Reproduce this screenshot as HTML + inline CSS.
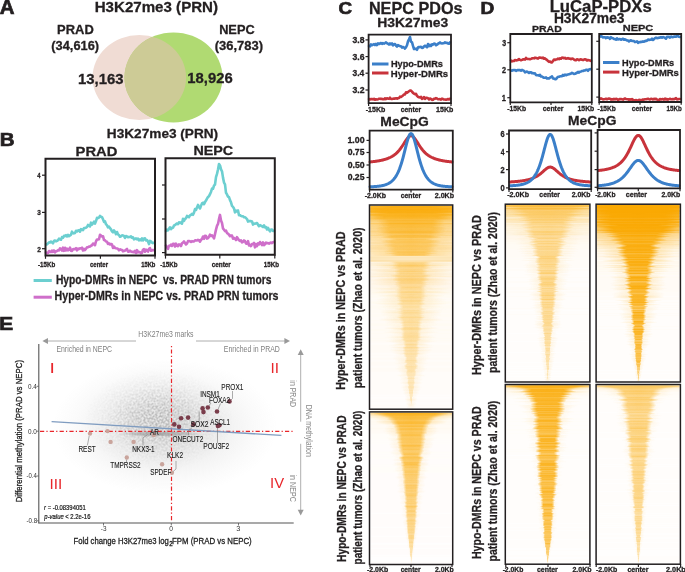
<!DOCTYPE html><html><head><meta charset="utf-8"><style>html,body{margin:0;padding:0;background:#fff;}body{width:685px;height:572px;overflow:hidden;font-family:"Liberation Sans",sans-serif;}svg{display:block;filter:blur(0.35px);}text{font-family:"Liberation Sans",sans-serif;font-variant-ligatures:none;font-kerning:none;}</style></head><body><svg width="685" height="572" viewBox="0 0 685 572" font-family="Liberation Sans, sans-serif"><defs><clipPath id="cg"><ellipse cx="173.5" cy="77.4" rx="49" ry="45"/></clipPath><radialGradient id="cl1"><stop offset="0" stop-color="#888" stop-opacity="0.22"/><stop offset="0.3" stop-color="#888" stop-opacity="0.19"/><stop offset="0.55" stop-color="#888" stop-opacity="0.11"/><stop offset="0.8" stop-color="#888" stop-opacity="0.04"/><stop offset="1" stop-color="#888" stop-opacity="0"/></radialGradient><radialGradient id="cl2"><stop offset="0" stop-color="#808080" stop-opacity="0.5"/><stop offset="0.35" stop-color="#808080" stop-opacity="0.33"/><stop offset="0.7" stop-color="#808080" stop-opacity="0.1"/><stop offset="1" stop-color="#808080" stop-opacity="0"/></radialGradient><radialGradient id="cl3"><stop offset="0" stop-color="#888" stop-opacity="0.6"/><stop offset="0.6" stop-color="#888" stop-opacity="0.4"/><stop offset="1" stop-color="#888" stop-opacity="0"/></radialGradient><filter id="spk" filterUnits="userSpaceOnUse" x="40" y="344" width="254" height="178"><feTurbulence type="fractalNoise" baseFrequency="0.5" numOctaves="2" seed="5" result="n"/><feColorMatrix in="n" type="matrix" values="0 0 0 0 1  0 0 0 0 1  0 0 0 0 1  0 0 0 2.4 -0.75" result="na"/><feComposite in="SourceGraphic" in2="na" operator="arithmetic" k1="1" k2="0" k3="0" k4="0"/></filter><linearGradient id="hc"><stop offset="0" stop-color="#faa800" stop-opacity="0"/><stop offset="0.18" stop-color="#faa800"/><stop offset="0.82" stop-color="#faa800"/><stop offset="1" stop-color="#faa800" stop-opacity="0"/></linearGradient><linearGradient id="hs"><stop offset="0" stop-color="#faa800"/></linearGradient><linearGradient id="hh"><stop offset="0" stop-color="#faa800" stop-opacity="0"/><stop offset="0.25" stop-color="#faa800" stop-opacity="0.6"/><stop offset="0.5" stop-color="#faa800"/><stop offset="0.75" stop-color="#faa800" stop-opacity="0.6"/><stop offset="1" stop-color="#faa800" stop-opacity="0"/></linearGradient><clipPath id="hm11"><rect x="370.2" y="205.7" width="81.8" height="202.8"/></clipPath><clipPath id="hm12"><rect x="370.2" y="412.6" width="81.8" height="151.2"/></clipPath><clipPath id="hm21"><rect x="506" y="204.9" width="83.2" height="176.4"/></clipPath><clipPath id="hm22"><rect x="596.8" y="204.9" width="82.9" height="176.4"/></clipPath><clipPath id="hm23"><rect x="506" y="385.2" width="83.2" height="178.3"/></clipPath><clipPath id="hm24"><rect x="596.8" y="385.2" width="82.9" height="178.3"/></clipPath></defs><text x="-0.21" y="14.2" font-size="19.5" font-weight="bold" fill="#231f20" textLength="14.75" lengthAdjust="spacingAndGlyphs" stroke="#231f20" stroke-width="0.7">A</text>
<text x="94.69" y="11.8" font-size="15" font-weight="bold" fill="#231f20" textLength="123.36" lengthAdjust="spacingAndGlyphs" stroke="#231f20" stroke-width="0.3">H3K27me3 (PRN)</text>
<ellipse cx="139.3" cy="77.5" rx="46.8" ry="42.6" fill="#f0dcd4"/>
<ellipse cx="173.5" cy="77.4" rx="49" ry="45" fill="#b0da72"/>
<ellipse cx="139.3" cy="77.5" rx="46.8" ry="42.6" fill="#cdcb96" clip-path="url(#cg)"/>
<text x="57.14" y="33.8" font-size="12.6" font-weight="bold" fill="#231f20" textLength="36.61" lengthAdjust="spacingAndGlyphs" stroke="#231f20" stroke-width="0.3">PRAD</text>
<text x="51.36" y="50" font-size="12.6" font-weight="bold" fill="#231f20" textLength="47.67" lengthAdjust="spacingAndGlyphs" stroke="#231f20" stroke-width="0.3">(34,616)</text>
<text x="219.15" y="33.7" font-size="12.6" font-weight="bold" fill="#231f20" textLength="35.5" lengthAdjust="spacingAndGlyphs" stroke="#231f20" stroke-width="0.3">NEPC</text>
<text x="214.75" y="49.6" font-size="12.6" font-weight="bold" fill="#231f20" textLength="48.29" lengthAdjust="spacingAndGlyphs" stroke="#231f20" stroke-width="0.3">(36,783)</text>
<text x="77.96" y="83.6" font-size="15" font-weight="bold" fill="#231f20" textLength="45.58" lengthAdjust="spacingAndGlyphs" stroke="#231f20" stroke-width="0.3">13,163</text>
<text x="187.37" y="83.2" font-size="15" font-weight="bold" fill="#231f20" textLength="45.37" lengthAdjust="spacingAndGlyphs" stroke="#231f20" stroke-width="0.3">18,926</text>
<text x="-0.37" y="145.8" font-size="18.5" font-weight="bold" fill="#231f20" textLength="14.8" lengthAdjust="spacingAndGlyphs" stroke="#231f20" stroke-width="0.7">B</text>
<text x="106.89" y="138.3" font-size="13.4" font-weight="bold" fill="#231f20" textLength="111.29" lengthAdjust="spacingAndGlyphs" stroke="#231f20" stroke-width="0.3">H3K27me3 (PRN)</text>
<text x="75.61" y="155.9" font-size="13" font-weight="bold" fill="#231f20" textLength="41.81" lengthAdjust="spacingAndGlyphs" stroke="#231f20" stroke-width="0.3">PRAD</text>
<text x="193.44" y="154.7" font-size="13" font-weight="bold" fill="#231f20" textLength="39.75" lengthAdjust="spacingAndGlyphs" stroke="#231f20" stroke-width="0.3">NEPC</text>
<polyline points="46,244.4 47,244.37 48,243.37 49,242.33 50,242.45 51,241.5 52,242.29 53,243.34 54,240.96 55,240.46 56,241.32 57,240.81 58,240.17 59,238.67 60,239.3 61,239.73 62,237.12 63,237.74 64,235.79 65,236.1 66,235.13 67,236.5 68,234.89 69,236.1 70,235.5 71,234.65 72,231.61 73,233.31 74,233.37 75,233.07 76,230.79 77,231.47 78,230.45 79,230.16 80,231.74 81,229.21 82,229.58 83,230.12 84,228.02 85,228.07 86,227.73 87,227.03 88,224.96 89,225.74 90,226.5 91,222.65 92,224.64 93,223.18 94,221.69 95,223.61 96,221.11 97,217.82 98,218.08 99,217.67 100,215.87 101,216.75 102,217.18 103,219.23 104,221.91 105,221.41 106,224.2 107,225.29 108,227.35 109,226.68 110,228.13 111,229.33 112,231.32 113,232.37 114,230.43 115,231.79 116,234.15 117,232.03 118,234.49 119,235.08 120,236.77 121,236.33 122,235.41 123,235.55 124,235.87 125,238.02 126,236.06 127,236.39 128,237.3 129,236.97 130,237.08 131,236.26 132,237.67 133,237.38 134,239.35 135,238.97 136,238.42 137,239.38 138,238.52 139,240.29 140,239.38 141,240.27 142,238.45 143,240.5 144,238.5 145,238.36 146,240.51 147,240.1 148,241.52 149,244.05 150,240.91 151,241.38 152,242.54 153,243.1 154,242.61" fill="none" stroke="#6ccfd0" stroke-width="2.6" stroke-linejoin="round" stroke-linecap="round"/>
<polyline points="46,252.37 47,253.22 48,252.87 49,251.01 50,251.91 51,251.89 52,250.54 53,251.84 54,250.46 55,252.32 56,251.31 57,251.05 58,250.15 59,250.52 60,248.31 61,249.11 62,250.6 63,247.71 64,250.84 65,247.83 66,250.44 67,248.56 68,250.32 69,249.58 70,247.72 71,250.76 72,250.94 73,249.26 74,249 75,249.1 76,248.18 77,250.43 78,248.6 79,249.11 80,248.27 81,248.43 82,247.69 83,250.45 84,248.87 85,250.07 86,248.7 87,247.41 88,247.3 89,246.52 90,246.63 91,245.69 92,245.26 93,243.56 94,243.67 95,245.23 96,241.26 97,239.43 98,239.54 99,239.31 100,234.75 101,235.71 102,236.34 103,236.2 104,240.05 105,240.31 106,241.52 107,241.71 108,243.94 109,243.45 110,244.5 111,244.04 112,244.53 113,247.94 114,246.52 115,248 116,248.25 117,248.41 118,248.94 119,250.3 120,249.38 121,249.65 122,249.95 123,251.33 124,250.89 125,250.67 126,249.73 127,248.94 128,251.61 129,251.73 130,250.62 131,251.48 132,251.85 133,252.01 134,252.22 135,250.81 136,253.08 137,250.11 138,252.36 139,251.88 140,252.22 141,253.25 142,252.74 143,249.77 144,249.1 145,251.78 146,249.69 147,250.72 148,251.58 149,248.77 150,248.18 151,250.71 152,250.4 153,250.01 154,250.24" fill="none" stroke="#cf6fca" stroke-width="2.6" stroke-linejoin="round" stroke-linecap="round"/>
<polyline points="166,230.97 167,229.51 168,230.45 169,228.8 170,227.32 171,229.22 172,227.87 173,227.75 174,225.4 175,225.12 176,224.03 177,223.49 178,224.11 179,222.26 180,222.95 181,222.26 182,223.6 183,218.82 184,220.85 185,218.96 186,218.35 187,215.92 188,216.4 189,217.13 190,215.43 191,214.92 192,213.77 193,214.79 194,212.67 195,209.08 196,209.9 197,207.39 198,204.87 199,207.15 200,208.4 201,205.88 202,203.43 203,202.73 204,204.23 205,202.08 206,200.57 207,198.69 208,197.03 209,196.18 210,194.11 211,191.94 212,188.67 213,188.76 214,185.56 215,184.53 216,177.12 217,173.91 218,169.49 219,164.02 220,165.42 221,169.36 222,171.31 223,177.62 224,182.53 225,184.32 226,192.8 227,194.43 228,196.6 229,197.21 230,200.18 231,202.29 232,205.93 233,206.9 234,208.49 235,212.33 236,210.54 237,211.45 238,210.45 239,215.23 240,215.21 241,215.86 242,216.28 243,216.32 244,217.15 245,217.3 246,218.07 247,219.09 248,221.55 249,221.12 250,221.09 251,221.15 252,221.5 253,224.6 254,223.71 255,223.6 256,223.52 257,223.03 258,224.7 259,226.24 260,225.14 261,225.76 262,226.19 263,227 264,225.38 265,227.4 266,227.03 267,229.48 268,227.86 269,229.85 270,231.36 271,229.52 272,229.54 273,230.86 274,231" fill="none" stroke="#6ccfd0" stroke-width="2.6" stroke-linejoin="round" stroke-linecap="round"/>
<polyline points="166,245.61 167,247.15 168,248.8 169,245.87 170,245.73 171,244.51 172,245.94 173,243.85 174,243.81 175,246.47 176,243.64 177,245.82 178,246.14 179,244.42 180,244.56 181,246.04 182,243.25 183,242.57 184,241.45 185,242.91 186,244.43 187,243.6 188,241.11 189,241.01 190,241.22 191,241.97 192,241.17 193,241.46 194,241.36 195,240.37 196,240.42 197,240.44 198,239.83 199,240.26 200,241.64 201,239.83 202,238.92 203,236.56 204,238.78 205,235.71 206,236.09 207,238.54 208,238.09 209,236.8 210,234.66 211,235.99 212,235.36 213,236.67 214,238.34 215,234.12 216,229.64 217,225.88 218,223.93 219,219.07 220,214.93 221,220.48 222,223 223,228.41 224,229.72 225,231.1 226,230.59 227,233.14 228,233.72 229,234.77 230,236.19 231,235.42 232,235.62 233,238.69 234,237.88 235,238.75 236,240.07 237,237.17 238,238.68 239,240.21 240,240.85 241,240.31 242,242.37 243,241.77 244,240.44 245,241.15 246,243.61 247,243.58 248,241.12 249,245.4 250,244.88 251,246.11 252,243.99 253,244.05 254,243 255,247.35 256,244.05 257,246.11 258,243.39 259,244.31 260,242.06 261,243.56 262,245.15 263,242.42 264,245.16 265,244.23 266,242.53 267,243.13 268,243.13 269,243.58 270,242.95 271,242.55 272,243.13 273,242.22 274,241.85" fill="none" stroke="#cf6fca" stroke-width="2.6" stroke-linejoin="round" stroke-linecap="round"/>
<path d="M45.5,158.8 H155 V255.5 H45.5 Z" fill="none" stroke="#231f20" stroke-width="2"/>
<path d="M165.5,158.3 H274.8 V254.7 H165.5 Z" fill="none" stroke="#231f20" stroke-width="2"/>
<line x1="42" y1="175.2" x2="45.5" y2="175.2" stroke="#231f20" stroke-width="1.2"/>
<text x="37.31" y="178.1" font-size="8" font-weight="bold" fill="#231f20" textLength="3.32" lengthAdjust="spacingAndGlyphs" stroke="#231f20" stroke-width="0.3">4</text>
<line x1="42" y1="212.4" x2="45.5" y2="212.4" stroke="#231f20" stroke-width="1.2"/>
<text x="37.25" y="215.3" font-size="8" font-weight="bold" fill="#231f20" textLength="3.58" lengthAdjust="spacingAndGlyphs" stroke="#231f20" stroke-width="0.3">3</text>
<line x1="42" y1="248.7" x2="45.5" y2="248.7" stroke="#231f20" stroke-width="1.2"/>
<text x="37.17" y="251.6" font-size="8" font-weight="bold" fill="#231f20" textLength="3.7" lengthAdjust="spacingAndGlyphs" stroke="#231f20" stroke-width="0.3">2</text>
<line x1="162" y1="185" x2="165.5" y2="185" stroke="#231f20" stroke-width="1.2"/>
<line x1="162" y1="219" x2="165.5" y2="219" stroke="#231f20" stroke-width="1.2"/>
<line x1="162" y1="252.6" x2="165.5" y2="252.6" stroke="#231f20" stroke-width="1.2"/>
<line x1="45.5" y1="255.5" x2="45.5" y2="258.8" stroke="#231f20" stroke-width="1.2"/>
<line x1="100.4" y1="255.5" x2="100.4" y2="258.8" stroke="#231f20" stroke-width="1.2"/>
<line x1="155" y1="255.5" x2="155" y2="258.8" stroke="#231f20" stroke-width="1.2"/>
<line x1="165.5" y1="254.7" x2="165.5" y2="258.6" stroke="#231f20" stroke-width="1.2"/>
<line x1="219.8" y1="254.7" x2="219.8" y2="258.6" stroke="#231f20" stroke-width="1.2"/>
<line x1="274.8" y1="254.7" x2="274.8" y2="258.6" stroke="#231f20" stroke-width="1.2"/>
<text x="38.06" y="266.5" font-size="7" font-weight="bold" fill="#231f20" textLength="17.2" lengthAdjust="spacingAndGlyphs" stroke="#231f20" stroke-width="0.3">-15Kb</text>
<text x="89.96" y="266.5" font-size="7" font-weight="bold" fill="#231f20" textLength="18.13" lengthAdjust="spacingAndGlyphs" stroke="#231f20" stroke-width="0.3">center</text>
<text x="141.13" y="266.5" font-size="7" font-weight="bold" fill="#231f20" textLength="14.31" lengthAdjust="spacingAndGlyphs" stroke="#231f20" stroke-width="0.3">15Kb</text>
<text x="160.16" y="266.5" font-size="7" font-weight="bold" fill="#231f20" textLength="17.3" lengthAdjust="spacingAndGlyphs" stroke="#231f20" stroke-width="0.3">-15Kb</text>
<text x="211.65" y="266.5" font-size="7" font-weight="bold" fill="#231f20" textLength="19.15" lengthAdjust="spacingAndGlyphs" stroke="#231f20" stroke-width="0.3">center</text>
<text x="263.81" y="266.5" font-size="7" font-weight="bold" fill="#231f20" textLength="15.25" lengthAdjust="spacingAndGlyphs" stroke="#231f20" stroke-width="0.3">15Kb</text>
<line x1="33.6" y1="280.5" x2="51.8" y2="280.5" stroke="#6ccfd0" stroke-width="3"/>
<line x1="33.6" y1="297.2" x2="51.8" y2="297.2" stroke="#cf6fca" stroke-width="3"/>
<text x="55.91" y="283.6" font-size="12.3" font-weight="bold" fill="#231f20" textLength="215.51" lengthAdjust="spacingAndGlyphs" stroke="#231f20" stroke-width="0.3">Hypo-DMRs in NEPC  vs. PRAD PRN tumors</text>
<text x="54.59" y="299.8" font-size="12.3" font-weight="bold" fill="#231f20" textLength="223.85" lengthAdjust="spacingAndGlyphs" stroke="#231f20" stroke-width="0.3">Hyper-DMRs in NEPC vs. PRAD PRN tumors</text>
<text x="-0.7" y="329.9" font-size="17.5" font-weight="bold" fill="#231f20" textLength="13.91" lengthAdjust="spacingAndGlyphs" stroke="#231f20" stroke-width="0.7">E</text>
<ellipse cx="165" cy="427" rx="112" ry="68" fill="url(#cl1)"/>
<ellipse cx="159" cy="420" rx="74" ry="50" fill="url(#cl2)" filter="url(#spk)"/>
<ellipse cx="160" cy="433.8" rx="40" ry="3" fill="url(#cl3)"/>
<line x1="38.8" y1="344" x2="38.8" y2="523.3" stroke="#555" stroke-width="1.1"/>
<line x1="38.3" y1="523" x2="293.7" y2="523" stroke="#555" stroke-width="1.1"/>
<line x1="36.5" y1="386.3" x2="38.8" y2="386.3" stroke="#555" stroke-width="0.8"/>
<line x1="36.5" y1="431.2" x2="38.8" y2="431.2" stroke="#555" stroke-width="0.8"/>
<line x1="36.5" y1="476" x2="38.8" y2="476" stroke="#555" stroke-width="0.8"/>
<line x1="36.5" y1="520.8" x2="38.8" y2="520.8" stroke="#555" stroke-width="0.8"/>
<line x1="103.5" y1="523" x2="103.5" y2="525.5" stroke="#555" stroke-width="0.8"/>
<line x1="171.3" y1="523" x2="171.3" y2="525.5" stroke="#555" stroke-width="0.8"/>
<line x1="238.5" y1="523" x2="238.5" y2="525.5" stroke="#555" stroke-width="0.8"/>
<text x="27.95" y="388.6" font-size="6.5" fill="#333" textLength="8.83" lengthAdjust="spacingAndGlyphs">0.4</text>
<text x="27.95" y="433.5" font-size="6.5" fill="#333" textLength="8.9" lengthAdjust="spacingAndGlyphs">0.0</text>
<text x="26.43" y="478.3" font-size="6.5" fill="#333" textLength="10.34" lengthAdjust="spacingAndGlyphs">-0.4</text>
<text x="26.43" y="522.6" font-size="6.5" fill="#333" textLength="10.64" lengthAdjust="spacingAndGlyphs">-0.8</text>
<text x="100.82" y="531.3" font-size="6.5" fill="#333" textLength="5.66" lengthAdjust="spacingAndGlyphs">-3</text>
<text x="169.34" y="531.3" font-size="6.5" fill="#333" textLength="3.72" lengthAdjust="spacingAndGlyphs">0</text>
<text x="236.22" y="531.3" font-size="6.5" fill="#333" textLength="4.11" lengthAdjust="spacingAndGlyphs">3</text>
<text x="73.47" y="543.8" font-size="9.3" fill="#222" textLength="95.43" lengthAdjust="spacingAndGlyphs" stroke="#222" stroke-width="0.3">Fold change H3K27me3 log</text>
<text x="169.29" y="545.7" font-size="7" fill="#222" textLength="3.42" lengthAdjust="spacingAndGlyphs" stroke="#222" stroke-width="0.35">2</text>
<text x="171.96" y="543.8" font-size="9.3" fill="#222" textLength="79.73" lengthAdjust="spacingAndGlyphs" stroke="#222" stroke-width="0.3">FPM (PRAD vs NEPC)</text>
<text transform="translate(22,502.34) rotate(-90)" font-size="9.8" fill="#222" textLength="142.32" lengthAdjust="spacingAndGlyphs" stroke="#222" stroke-width="0.3">Differential methylation (PRAD vs NEPC)</text>
<line x1="40" y1="431.3" x2="294" y2="431.3" stroke="#e8262b" stroke-width="1.2" stroke-dasharray="4.2 2.2 1.2 2.2"/>
<line x1="171.5" y1="346" x2="171.5" y2="522" stroke="#e8262b" stroke-width="1.2" stroke-dasharray="1.2 2.2 4.2 2.2"/>
<line x1="51.6" y1="421.7" x2="281.4" y2="435.4" stroke="#7f9cc0" stroke-width="1.3"/>
<line x1="89.2" y1="436" x2="87.4" y2="445.4" stroke="#777" stroke-width="0.6"/>
<line x1="143" y1="445.5" x2="143" y2="438" stroke="#777" stroke-width="0.6"/>
<line x1="143" y1="438" x2="147.5" y2="434.5" stroke="#777" stroke-width="0.6"/>
<line x1="199.2" y1="411.5" x2="199.2" y2="421" stroke="#777" stroke-width="0.6"/>
<line x1="232.5" y1="391" x2="232.5" y2="398.5" stroke="#777" stroke-width="0.6"/>
<line x1="232.5" y1="398.5" x2="230" y2="401" stroke="#777" stroke-width="0.6"/>
<line x1="208" y1="407" x2="211" y2="403" stroke="#777" stroke-width="0.6"/>
<line x1="220.5" y1="403.5" x2="218" y2="409.5" stroke="#777" stroke-width="0.6"/>
<line x1="217.5" y1="427" x2="217.5" y2="443" stroke="#777" stroke-width="0.6"/>
<line x1="188.4" y1="435" x2="188.4" y2="430.7" stroke="#777" stroke-width="0.6"/>
<line x1="188.4" y1="430.7" x2="192" y2="427.8" stroke="#777" stroke-width="0.6"/>
<line x1="176" y1="461" x2="176" y2="469" stroke="#777" stroke-width="0.6"/>
<line x1="176" y1="469" x2="172" y2="472.5" stroke="#777" stroke-width="0.6"/>
<line x1="126.5" y1="459.5" x2="126.5" y2="462" stroke="#777" stroke-width="0.6"/>
<circle cx="90" cy="433.6" r="2.2" fill="#c9a49c"/>
<circle cx="107.5" cy="431.1" r="2.2" fill="#c9a49c"/>
<circle cx="110.6" cy="441.9" r="2.2" fill="#c9a49c"/>
<circle cx="133.6" cy="441.9" r="2.2" fill="#c9a49c"/>
<circle cx="126.8" cy="457.5" r="2.2" fill="#c9a49c"/>
<circle cx="162.1" cy="464.2" r="2.2" fill="#c9a49c"/>
<circle cx="153.8" cy="435" r="2.2" fill="#c9a49c"/>
<circle cx="171.9" cy="472.8" r="2.2" fill="#c9a49c"/>
<circle cx="174.3" cy="424.4" r="2.3" fill="#7a3d4b"/>
<circle cx="179" cy="426.8" r="2.3" fill="#7a3d4b"/>
<circle cx="181.1" cy="418.2" r="2.3" fill="#7a3d4b"/>
<circle cx="188.1" cy="417.6" r="2.3" fill="#7a3d4b"/>
<circle cx="193.4" cy="424.4" r="2.3" fill="#7a3d4b"/>
<circle cx="202.6" cy="408.4" r="2.3" fill="#7a3d4b"/>
<circle cx="207.8" cy="407.5" r="2.3" fill="#7a3d4b"/>
<circle cx="203.5" cy="412.1" r="2.3" fill="#7a3d4b"/>
<circle cx="217" cy="411.5" r="2.3" fill="#7a3d4b"/>
<circle cx="229.5" cy="401.4" r="2.3" fill="#7a3d4b"/>
<circle cx="217.9" cy="425.9" r="2.3" fill="#7a3d4b"/>
<circle cx="219.4" cy="425.3" r="2.3" fill="#7a3d4b"/>
<text x="221.37" y="390" font-size="8.8" fill="#1a1a1a" textLength="21.95" lengthAdjust="spacingAndGlyphs" stroke="#1a1a1a" stroke-width="0.12">PROX1</text>
<text x="200.21" y="396.5" font-size="8.8" fill="#1a1a1a" textLength="19.5" lengthAdjust="spacingAndGlyphs" stroke="#1a1a1a" stroke-width="0.12">INSM1</text>
<text x="208.97" y="403.4" font-size="8.8" fill="#1a1a1a" textLength="21.15" lengthAdjust="spacingAndGlyphs" stroke="#1a1a1a" stroke-width="0.12">FOXA2</text>
<text x="190.59" y="427" font-size="8.8" fill="#1a1a1a" textLength="17.94" lengthAdjust="spacingAndGlyphs" stroke="#1a1a1a" stroke-width="0.12">SOX2</text>
<text x="210.19" y="424.5" font-size="8.8" fill="#1a1a1a" textLength="19.92" lengthAdjust="spacingAndGlyphs" stroke="#1a1a1a" stroke-width="0.12">ASCL1</text>
<text x="149.99" y="434.5" font-size="8.8" fill="#1a1a1a" textLength="8.91" lengthAdjust="spacingAndGlyphs" stroke="#1a1a1a" stroke-width="0.12">AR</text>
<text x="172.49" y="441.8" font-size="8.8" fill="#1a1a1a" textLength="30.83" lengthAdjust="spacingAndGlyphs" stroke="#1a1a1a" stroke-width="0.12">ONECUT2</text>
<text x="203.25" y="449.1" font-size="8.8" fill="#1a1a1a" textLength="25.88" lengthAdjust="spacingAndGlyphs" stroke="#1a1a1a" stroke-width="0.12">POU3F2</text>
<text x="167.06" y="457.8" font-size="8.8" fill="#1a1a1a" textLength="16.07" lengthAdjust="spacingAndGlyphs" stroke="#1a1a1a" stroke-width="0.12">KLK2</text>
<text x="150.21" y="474.8" font-size="8.8" fill="#1a1a1a" textLength="21.04" lengthAdjust="spacingAndGlyphs" stroke="#1a1a1a" stroke-width="0.12">SPDEF</text>
<text x="132.28" y="452.1" font-size="8.8" fill="#1a1a1a" textLength="22.33" lengthAdjust="spacingAndGlyphs" stroke="#1a1a1a" stroke-width="0.12">NKX3-1</text>
<text x="110.26" y="468" font-size="8.8" fill="#1a1a1a" textLength="30.27" lengthAdjust="spacingAndGlyphs" stroke="#1a1a1a" stroke-width="0.12">TMPRSS2</text>
<text x="78.47" y="451.8" font-size="8.8" fill="#1a1a1a" textLength="17.18" lengthAdjust="spacingAndGlyphs" stroke="#1a1a1a" stroke-width="0.12">REST</text>
<text x="44.11" y="510.3" font-size="7.4" font-style="italic" fill="#111" textLength="1.9" lengthAdjust="spacingAndGlyphs" stroke="#111" stroke-width="0.2">r</text>
<text x="47.71" y="510.3" font-size="7.4" fill="#111" textLength="37.97" lengthAdjust="spacingAndGlyphs" stroke="#111" stroke-width="0.2">= -0.08394051</text>
<text x="44.35" y="519.1" font-size="7.4" font-style="italic" fill="#111" textLength="19.37" lengthAdjust="spacingAndGlyphs" stroke="#111" stroke-width="0.2">p-value</text>
<text x="65.21" y="519.1" font-size="7.4" fill="#111" textLength="25.25" lengthAdjust="spacingAndGlyphs" stroke="#111" stroke-width="0.2">&lt; 2.2e-16</text>
<text x="49.62" y="373" font-size="15.5" fill="#e8262b" textLength="5.36" lengthAdjust="spacingAndGlyphs">I</text>
<text x="270.58" y="373" font-size="15.5" fill="#e8262b" textLength="8.53" lengthAdjust="spacingAndGlyphs">II</text>
<text x="49.49" y="489" font-size="15.5" fill="#e8262b" textLength="12.72" lengthAdjust="spacingAndGlyphs">III</text>
<text x="270.03" y="488.3" font-size="15.5" fill="#e8262b" textLength="14.04" lengthAdjust="spacingAndGlyphs">IV</text>
<line x1="46" y1="341" x2="136" y2="341" stroke="#999999" stroke-width="0.8"/>
<path d="M42.4,341 L48,338 L48,344 Z" fill="#999999"/>
<line x1="196" y1="341" x2="286" y2="341" stroke="#999999" stroke-width="0.8"/>
<path d="M290,341 L284.4,338 L284.4,344 Z" fill="#999999"/>
<text x="138.33" y="336.7" font-size="9" fill="#808080" textLength="55.22" lengthAdjust="spacingAndGlyphs">H3K27me3 marks</text>
<text x="56.43" y="351.8" font-size="9" fill="#808080" textLength="55.63" lengthAdjust="spacingAndGlyphs">Enriched in NEPC</text>
<text x="223.83" y="351.8" font-size="9" fill="#808080" textLength="56" lengthAdjust="spacingAndGlyphs">Enriched in PRAD</text>
<line x1="300.7" y1="353" x2="300.7" y2="421.7" stroke="#999999" stroke-width="0.8"/>
<path d="M300.7,349.3 L297.7,355 L303.7,355 Z" fill="#999999"/>
<line x1="300.7" y1="443.8" x2="300.7" y2="511" stroke="#999999" stroke-width="0.8"/>
<path d="M300.7,515.5 L297.7,509.8 L303.7,509.8 Z" fill="#999999"/>
<text transform="translate(290.3,380.33) rotate(90)" font-size="9" fill="#888" textLength="26.8" lengthAdjust="spacingAndGlyphs">in PRAD</text>
<text transform="translate(306,404.63) rotate(90)" font-size="9" fill="#888" textLength="52.22" lengthAdjust="spacingAndGlyphs">DNA methylation</text>
<text transform="translate(290.3,474.52) rotate(90)" font-size="9" fill="#888" textLength="27.25" lengthAdjust="spacingAndGlyphs">in NEPC</text>
<text x="338.63" y="14.3" font-size="17" font-weight="bold" fill="#231f20" textLength="13.59" lengthAdjust="spacingAndGlyphs" stroke="#231f20" stroke-width="0.7">C</text>
<text x="368.92" y="14.2" font-size="16.4" font-weight="bold" fill="#231f20" textLength="93.65" lengthAdjust="spacingAndGlyphs" stroke="#231f20" stroke-width="0.3">NEPC PDOs</text>
<text x="377.27" y="26.6" font-size="13" font-weight="bold" fill="#231f20" textLength="70.93" lengthAdjust="spacingAndGlyphs" stroke="#231f20" stroke-width="0.3">H3K27me3</text>
<polyline points="369,45.97 370,46.37 371,44.44 372,45.27 373,44.57 374,44.1 375,45.13 376,43.93 377,45.1 378,43.36 379,44.05 380,43.5 381,43.01 382,43.83 383,43.18 384,43.59 385,43.02 386,42.39 387,43.32 388,43.67 389,44.55 390,43.49 391,44.34 392,43.4 393,45.31 394,44.34 395,44.08 396,45.54 397,46.6 398,45.02 399,45.62 400,46.16 401,46.19 402,47.54 403,47.01 404,47.36 405,48.57 406,47.29 407,45.21 408,41.32 409,39.3 410,37.02 411,41.7 412,42.28 413,45.92 414,48.98 415,48.92 416,48.64 417,49.75 418,47.49 419,46.93 420,47.12 421,46.7 422,47.96 423,47.78 424,46.3 425,45.76 426,46.25 427,47.23 428,44.05 429,46.15 430,44.79 431,46.04 432,44.32 433,44.63 434,43.54 435,43.73 436,45.25 437,44.72 438,43.73 439,43.26 440,42.41 441,43.32 442,43.44 443,43.27 444,43.12 445,42.27 446,42.87 447,42.75 448,43.55 449,43.81 450,42.27" fill="none" stroke="#3b7fc9" stroke-width="2.6" stroke-linejoin="round" stroke-linecap="round"/>
<polyline points="369,99.04 370,99.44 371,99.09 372,98.98 373,99.37 374,98.75 375,99.72 376,99.27 377,99.45 378,99.17 379,98.82 380,98.66 381,99.06 382,98.85 383,99.3 384,99.13 385,98.29 386,99.13 387,98.26 388,98.67 389,98.84 390,97.74 391,99.02 392,99.03 393,98.82 394,98.64 395,98.64 396,98.26 397,98.66 398,98.28 399,98.05 400,96.65 401,96.89 402,96.21 403,95.42 404,94.49 405,94.35 406,92.27 407,92.8 408,91.93 409,91.21 410,90.53 411,90.65 412,91.63 413,92.91 414,93.53 415,94.14 416,93.85 417,95.82 418,96.78 419,97.26 420,97.37 421,96.87 422,98.95 423,98.43 424,97.03 425,98.81 426,97.71 427,97.86 428,98.28 429,99.46 430,98.5 431,98.91 432,99.83 433,99.76 434,98.77 435,98.72 436,98.13 437,98.5 438,99.2 439,99.21 440,99.07 441,99.63 442,98.6 443,99.05 444,99.56 445,99.5 446,99.82 447,99.44 448,99.04 449,99.47 450,98.68" fill="none" stroke="#c8333b" stroke-width="2.6" stroke-linejoin="round" stroke-linecap="round"/>
<path d="M368.6,34.6 H451 V103.2 H368.6 Z" fill="none" stroke="#231f20" stroke-width="1.8"/>
<line x1="365.5" y1="39.9" x2="368.6" y2="39.9" stroke="#231f20" stroke-width="1.2"/>
<text x="352.5" y="42.8" font-size="8.2" font-weight="bold" fill="#231f20" textLength="11.96" lengthAdjust="spacingAndGlyphs" stroke="#231f20" stroke-width="0.3">3.8</text>
<line x1="365.5" y1="56.6" x2="368.6" y2="56.6" stroke="#231f20" stroke-width="1.2"/>
<text x="352.5" y="59.5" font-size="8.2" font-weight="bold" fill="#231f20" textLength="12.01" lengthAdjust="spacingAndGlyphs" stroke="#231f20" stroke-width="0.3">3.6</text>
<line x1="365.5" y1="73.2" x2="368.6" y2="73.2" stroke="#231f20" stroke-width="1.2"/>
<text x="352.51" y="76.1" font-size="8.2" font-weight="bold" fill="#231f20" textLength="11.74" lengthAdjust="spacingAndGlyphs" stroke="#231f20" stroke-width="0.3">3.4</text>
<line x1="365.5" y1="90" x2="368.6" y2="90" stroke="#231f20" stroke-width="1.2"/>
<text x="352.5" y="92.9" font-size="8.2" font-weight="bold" fill="#231f20" textLength="12.05" lengthAdjust="spacingAndGlyphs" stroke="#231f20" stroke-width="0.3">3.2</text>
<line x1="368.6" y1="103.2" x2="368.6" y2="106" stroke="#231f20" stroke-width="1.2"/>
<line x1="410" y1="103.2" x2="410" y2="106" stroke="#231f20" stroke-width="1.2"/>
<line x1="451" y1="103.2" x2="451" y2="106" stroke="#231f20" stroke-width="1.2"/>
<text x="365.72" y="111.8" font-size="7" font-weight="bold" fill="#231f20" textLength="19.56" lengthAdjust="spacingAndGlyphs" stroke="#231f20" stroke-width="0.3">-15Kb</text>
<text x="400.73" y="111.8" font-size="7" font-weight="bold" fill="#231f20" textLength="20.37" lengthAdjust="spacingAndGlyphs" stroke="#231f20" stroke-width="0.3">center</text>
<text x="436.06" y="111.8" font-size="7" font-weight="bold" fill="#231f20" textLength="17.23" lengthAdjust="spacingAndGlyphs" stroke="#231f20" stroke-width="0.3">15Kb</text>
<line x1="372" y1="64" x2="388.5" y2="64" stroke="#3b7fc9" stroke-width="3"/>
<line x1="372" y1="73" x2="388.5" y2="73" stroke="#c8333b" stroke-width="3"/>
<text x="390.89" y="67.3" font-size="9.8" font-weight="bold" fill="#231f20" textLength="52.09" lengthAdjust="spacingAndGlyphs" stroke="#231f20" stroke-width="0.3">Hypo-DMRs</text>
<text x="390.86" y="76.6" font-size="9.8" font-weight="bold" fill="#231f20" textLength="57.23" lengthAdjust="spacingAndGlyphs" stroke="#231f20" stroke-width="0.3">Hyper-DMRs</text>
<text x="380.37" y="125.6" font-size="13.6" font-weight="bold" fill="#231f20" textLength="48.49" lengthAdjust="spacingAndGlyphs" stroke="#231f20" stroke-width="0.3">MeCpG</text>
<polyline points="370,161.94 370.5,161.9 371,161.85 371.5,161.8 372,161.74 372.5,161.69 373,161.63 373.5,161.58 374,161.52 374.5,161.45 375,161.39 375.5,161.32 376,161.25 376.5,161.18 377,161.11 377.5,161.03 378,160.95 378.5,160.86 379,160.77 379.5,160.68 380,160.59 380.5,160.49 381,160.39 381.5,160.28 382,160.17 382.5,160.05 383,159.93 383.5,159.8 384,159.67 384.5,159.53 385,159.39 385.5,159.23 386,159.08 386.5,158.91 387,158.73 387.5,158.55 388,158.36 388.5,158.16 389,157.95 389.5,157.73 390,157.49 390.5,157.25 391,156.99 391.5,156.72 392,156.44 392.5,156.14 393,155.83 393.5,155.49 394,155.15 394.5,154.78 395,154.39 395.5,153.99 396,153.56 396.5,153.11 397,152.64 397.5,152.14 398,151.62 398.5,151.07 399,150.5 399.5,149.9 400,149.27 400.5,148.62 401,147.94 401.5,147.24 402,146.51 402.5,145.76 403,145 403.5,144.22 404,143.42 404.5,142.63 405,141.83 405.5,141.05 406,140.28 406.5,139.54 407,138.84 407.5,138.19 408,137.6 408.5,137.07 409,136.63 409.5,136.27 410,136.01 410.5,135.85 411,135.8 411.5,135.85 412,136.01 412.5,136.27 413,136.63 413.5,137.07 414,137.6 414.5,138.19 415,138.84 415.5,139.54 416,140.28 416.5,141.05 417,141.83 417.5,142.63 418,143.42 418.5,144.22 419,145 419.5,145.76 420,146.51 420.5,147.24 421,147.94 421.5,148.62 422,149.27 422.5,149.9 423,150.5 423.5,151.07 424,151.62 424.5,152.14 425,152.64 425.5,153.11 426,153.56 426.5,153.99 427,154.39 427.5,154.78 428,155.15 428.5,155.49 429,155.83 429.5,156.14 430,156.44 430.5,156.72 431,156.99 431.5,157.25 432,157.49 432.5,157.73 433,157.95 433.5,158.16 434,158.36 434.5,158.55 435,158.73 435.5,158.91 436,159.08 436.5,159.23 437,159.39 437.5,159.53 438,159.67 438.5,159.8 439,159.93 439.5,160.05 440,160.17 440.5,160.28 441,160.39 441.5,160.49 442,160.59 442.5,160.68 443,160.77 443.5,160.86 444,160.95 444.5,161.03 445,161.11 445.5,161.18 446,161.25 446.5,161.32 447,161.39 447.5,161.45 448,161.52 448.5,161.58 449,161.63 449.5,161.69 450,161.74 450.5,161.8 451,161.85 451.5,161.9 452,161.94" fill="none" stroke="#c8333b" stroke-width="3" stroke-linejoin="round" stroke-linecap="round"/>
<polyline points="370,186.79 370.5,186.77 371,186.75 371.5,186.73 372,186.71 372.5,186.69 373,186.66 373.5,186.64 374,186.61 374.5,186.58 375,186.54 375.5,186.51 376,186.47 376.5,186.43 377,186.38 377.5,186.33 378,186.28 378.5,186.22 379,186.16 379.5,186.1 380,186.03 380.5,185.95 381,185.87 381.5,185.78 382,185.68 382.5,185.58 383,185.47 383.5,185.34 384,185.21 384.5,185.07 385,184.92 385.5,184.76 386,184.58 386.5,184.39 387,184.19 387.5,183.97 388,183.73 388.5,183.47 389,183.19 389.5,182.9 390,182.57 390.5,182.23 391,181.85 391.5,181.45 392,181.02 392.5,180.55 393,180.05 393.5,179.5 394,178.92 394.5,178.29 395,177.62 395.5,176.89 396,176.11 396.5,175.28 397,174.38 397.5,173.42 398,172.39 398.5,171.28 399,170.11 399.5,168.86 400,167.52 400.5,166.11 401,164.61 401.5,163.03 402,161.36 402.5,159.62 403,157.81 403.5,155.92 404,153.98 404.5,151.99 405,149.98 405.5,147.96 406,145.95 406.5,143.99 407,142.1 407.5,140.32 408,138.68 408.5,137.21 409,135.96 409.5,134.95 410,134.21 410.5,133.75 411,133.6 411.5,133.75 412,134.21 412.5,134.95 413,135.96 413.5,137.21 414,138.68 414.5,140.32 415,142.1 415.5,143.99 416,145.95 416.5,147.96 417,149.98 417.5,151.99 418,153.98 418.5,155.92 419,157.81 419.5,159.62 420,161.36 420.5,163.03 421,164.61 421.5,166.11 422,167.52 422.5,168.86 423,170.11 423.5,171.28 424,172.39 424.5,173.42 425,174.38 425.5,175.28 426,176.11 426.5,176.89 427,177.62 427.5,178.29 428,178.92 428.5,179.5 429,180.05 429.5,180.55 430,181.02 430.5,181.45 431,181.85 431.5,182.23 432,182.57 432.5,182.9 433,183.19 433.5,183.47 434,183.73 434.5,183.97 435,184.19 435.5,184.39 436,184.58 436.5,184.76 437,184.92 437.5,185.07 438,185.21 438.5,185.34 439,185.47 439.5,185.58 440,185.68 440.5,185.78 441,185.87 441.5,185.95 442,186.03 442.5,186.1 443,186.16 443.5,186.22 444,186.28 444.5,186.33 445,186.38 445.5,186.43 446,186.47 446.5,186.51 447,186.54 447.5,186.58 448,186.61 448.5,186.64 449,186.66 449.5,186.69 450,186.71 450.5,186.73 451,186.75 451.5,186.77 452,186.79" fill="none" stroke="#3b7fc9" stroke-width="3" stroke-linejoin="round" stroke-linecap="round"/>
<path d="M369.6,130.6 H452.8 V189.6 H369.6 Z" fill="none" stroke="#231f20" stroke-width="1.8"/>
<line x1="366.5" y1="140.4" x2="369.6" y2="140.4" stroke="#231f20" stroke-width="1.2"/>
<text x="347.45" y="143.3" font-size="8.2" font-weight="bold" fill="#231f20" textLength="17.11" lengthAdjust="spacingAndGlyphs" stroke="#231f20" stroke-width="0.3">1.00</text>
<line x1="366.5" y1="152.5" x2="369.6" y2="152.5" stroke="#231f20" stroke-width="1.2"/>
<text x="347.66" y="155.4" font-size="8.2" font-weight="bold" fill="#231f20" textLength="16.78" lengthAdjust="spacingAndGlyphs" stroke="#231f20" stroke-width="0.3">0.75</text>
<line x1="366.5" y1="165" x2="369.6" y2="165" stroke="#231f20" stroke-width="1.2"/>
<text x="347.66" y="167.9" font-size="8.2" font-weight="bold" fill="#231f20" textLength="16.9" lengthAdjust="spacingAndGlyphs" stroke="#231f20" stroke-width="0.3">0.50</text>
<line x1="366.5" y1="177.5" x2="369.6" y2="177.5" stroke="#231f20" stroke-width="1.2"/>
<text x="347.66" y="180.4" font-size="8.2" font-weight="bold" fill="#231f20" textLength="16.78" lengthAdjust="spacingAndGlyphs" stroke="#231f20" stroke-width="0.3">0.25</text>
<line x1="369.6" y1="189.6" x2="369.6" y2="192.5" stroke="#231f20" stroke-width="1.2"/>
<line x1="411" y1="189.6" x2="411" y2="192.5" stroke="#231f20" stroke-width="1.2"/>
<line x1="452.8" y1="189.6" x2="452.8" y2="192.5" stroke="#231f20" stroke-width="1.2"/>
<text x="364.73" y="197.9" font-size="7" font-weight="bold" fill="#231f20" textLength="21.36" lengthAdjust="spacingAndGlyphs" stroke="#231f20" stroke-width="0.3">-2.0Kb</text>
<text x="400.73" y="197.9" font-size="7" font-weight="bold" fill="#231f20" textLength="20.37" lengthAdjust="spacingAndGlyphs" stroke="#231f20" stroke-width="0.3">center</text>
<text x="434.75" y="197.9" font-size="7" font-weight="bold" fill="#231f20" textLength="19.34" lengthAdjust="spacingAndGlyphs" stroke="#231f20" stroke-width="0.3">2.0Kb</text>
<g clip-path="url(#hm11)"><g fill="#faa800"><rect x="370.2" y="205.7" width="81.8" height="1" opacity="1.00"/><rect x="370.2" y="206.7" width="81.8" height="1" opacity="1.00"/><rect x="370.2" y="207.7" width="81.8" height="1" opacity="1.00"/><rect x="370.2" y="208.7" width="81.8" height="1" opacity="1.00"/><rect x="370.2" y="209.7" width="81.8" height="1" opacity="1.00"/><rect x="370.2" y="210.7" width="81.8" height="1" opacity="1.00"/><rect x="370.2" y="211.7" width="81.8" height="1" opacity="1.00"/><rect x="370.2" y="212.7" width="81.8" height="1" opacity="0.74"/><rect x="370.2" y="213.7" width="81.8" height="1" opacity="0.82"/><rect x="370.2" y="214.7" width="81.8" height="1" opacity="0.78"/><rect x="370.2" y="215.7" width="81.8" height="1" opacity="0.61"/><rect x="370.2" y="216.7" width="81.8" height="1" opacity="0.60"/><rect x="370.2" y="217.7" width="81.8" height="1" opacity="0.56"/><rect x="370.2" y="218.7" width="81.8" height="1" opacity="0.61"/><rect x="370.2" y="219.7" width="81.8" height="1" opacity="0.54"/><rect x="370.2" y="220.7" width="81.8" height="1" opacity="0.57"/><rect x="370.2" y="221.7" width="81.8" height="1" opacity="0.38"/><rect x="370.2" y="222.7" width="81.8" height="1" opacity="0.55"/><rect x="370.2" y="223.7" width="81.8" height="1" opacity="0.44"/><rect x="370.2" y="224.7" width="81.8" height="1" opacity="0.45"/><rect x="370.2" y="225.7" width="81.8" height="1" opacity="0.40"/><rect x="370.2" y="226.7" width="81.8" height="1" opacity="0.38"/><rect x="370.2" y="227.7" width="81.8" height="1" opacity="0.42"/><rect x="370.2" y="228.7" width="81.8" height="1" opacity="0.42"/><rect x="370.2" y="229.7" width="81.8" height="1" opacity="0.37"/><rect x="370.2" y="230.7" width="81.8" height="1" opacity="0.36"/><rect x="370.2" y="231.7" width="81.8" height="1" opacity="0.39"/><rect x="370.2" y="232.7" width="81.8" height="1" opacity="0.32"/><rect x="370.2" y="233.7" width="81.8" height="1" opacity="0.28"/><rect x="370.2" y="234.7" width="81.8" height="1" opacity="0.35"/><rect x="370.2" y="235.7" width="81.8" height="1" opacity="0.30"/><rect x="370.2" y="236.7" width="81.8" height="1" opacity="0.25"/><rect x="370.2" y="237.7" width="81.8" height="1" opacity="0.28"/><rect x="370.2" y="238.7" width="81.8" height="1" opacity="0.29"/><rect x="370.2" y="239.7" width="81.8" height="1" opacity="0.26"/><rect x="370.2" y="240.7" width="81.8" height="1" opacity="0.24"/><rect x="370.2" y="241.7" width="81.8" height="1" opacity="0.29"/><rect x="370.2" y="242.7" width="81.8" height="1" opacity="0.31"/><rect x="370.2" y="243.7" width="81.8" height="1" opacity="0.27"/><rect x="370.2" y="244.7" width="81.8" height="1" opacity="0.25"/><rect x="370.2" y="245.7" width="81.8" height="1" opacity="0.28"/><rect x="370.2" y="246.7" width="81.8" height="1" opacity="0.29"/><rect x="370.2" y="247.7" width="81.8" height="1" opacity="0.25"/><rect x="370.2" y="248.7" width="81.8" height="1" opacity="0.27"/><rect x="370.2" y="249.7" width="81.8" height="1" opacity="0.28"/><rect x="370.2" y="250.7" width="81.8" height="1" opacity="0.24"/><rect x="370.2" y="251.7" width="81.8" height="1" opacity="0.22"/><rect x="370.2" y="252.7" width="81.8" height="1" opacity="0.24"/><rect x="370.2" y="253.7" width="81.8" height="1" opacity="0.24"/><rect x="370.2" y="254.7" width="81.8" height="1" opacity="0.25"/><rect x="370.2" y="255.7" width="81.8" height="1" opacity="0.28"/><rect x="370.2" y="256.7" width="81.8" height="1" opacity="0.30"/><rect x="370.2" y="257.7" width="81.8" height="1" opacity="0.30"/><rect x="370.2" y="258.7" width="81.8" height="1" opacity="0.26"/><rect x="370.2" y="259.7" width="81.8" height="1" opacity="0.34"/><rect x="370.2" y="260.7" width="81.8" height="1" opacity="0.35"/><rect x="370.2" y="261.7" width="81.8" height="1" opacity="0.11"/><rect x="370.2" y="262.7" width="81.8" height="1" opacity="0.14"/><rect x="370.2" y="263.7" width="81.8" height="1" opacity="0.13"/><rect x="370.2" y="264.7" width="81.8" height="1" opacity="0.12"/><rect x="370.2" y="265.7" width="81.8" height="1" opacity="0.12"/><rect x="370.2" y="266.7" width="81.8" height="1" opacity="0.12"/><rect x="370.2" y="267.7" width="81.8" height="1" opacity="0.09"/><rect x="370.2" y="268.7" width="81.8" height="1" opacity="0.11"/><rect x="370.2" y="269.7" width="81.8" height="1" opacity="0.11"/><rect x="370.2" y="270.7" width="81.8" height="1" opacity="0.08"/><rect x="370.2" y="271.7" width="81.8" height="1" opacity="0.11"/><rect x="370.2" y="272.7" width="81.8" height="1" opacity="0.10"/><rect x="370.2" y="273.7" width="81.8" height="1" opacity="0.11"/><rect x="370.2" y="274.7" width="81.8" height="1" opacity="0.09"/><rect x="370.2" y="275.7" width="81.8" height="1" opacity="0.09"/><rect x="370.2" y="276.7" width="81.8" height="1" opacity="0.10"/><rect x="370.2" y="277.7" width="81.8" height="1" opacity="0.08"/><rect x="370.2" y="278.7" width="81.8" height="1" opacity="0.09"/><rect x="370.2" y="279.7" width="81.8" height="1" opacity="0.09"/><rect x="370.2" y="280.7" width="81.8" height="1" opacity="0.09"/><rect x="370.2" y="281.7" width="81.8" height="1" opacity="0.08"/><rect x="370.2" y="282.7" width="81.8" height="1" opacity="0.09"/><rect x="370.2" y="283.7" width="81.8" height="1" opacity="0.08"/><rect x="370.2" y="284.7" width="81.8" height="1" opacity="0.08"/><rect x="370.2" y="285.7" width="81.8" height="1" opacity="0.08"/><rect x="370.2" y="286.7" width="81.8" height="1" opacity="0.08"/><rect x="370.2" y="287.7" width="81.8" height="1" opacity="0.09"/><rect x="370.2" y="288.7" width="81.8" height="1" opacity="0.06"/><rect x="370.2" y="289.7" width="81.8" height="1" opacity="0.08"/><rect x="370.2" y="290.7" width="81.8" height="1" opacity="0.07"/><rect x="370.2" y="291.7" width="81.8" height="1" opacity="0.06"/><rect x="370.2" y="292.7" width="81.8" height="1" opacity="0.06"/><rect x="370.2" y="293.7" width="81.8" height="1" opacity="0.07"/><rect x="370.2" y="294.7" width="81.8" height="1" opacity="0.05"/><rect x="370.2" y="295.7" width="81.8" height="1" opacity="0.06"/><rect x="370.2" y="296.7" width="81.8" height="1" opacity="0.06"/><rect x="370.2" y="297.7" width="81.8" height="1" opacity="0.04"/><rect x="370.2" y="298.7" width="81.8" height="1" opacity="0.05"/><rect x="370.2" y="299.7" width="81.8" height="1" opacity="0.04"/><rect x="370.2" y="300.7" width="81.8" height="1" opacity="0.05"/><rect x="370.2" y="301.7" width="81.8" height="1" opacity="0.06"/><rect x="370.2" y="302.7" width="81.8" height="1" opacity="0.06"/><rect x="370.2" y="303.7" width="81.8" height="1" opacity="0.04"/><rect x="370.2" y="304.7" width="81.8" height="1" opacity="0.05"/><rect x="370.2" y="305.7" width="81.8" height="1" opacity="0.05"/><rect x="370.2" y="306.7" width="81.8" height="1" opacity="0.06"/><rect x="370.2" y="307.7" width="81.8" height="1" opacity="0.05"/><rect x="370.2" y="308.7" width="81.8" height="1" opacity="0.04"/><rect x="370.2" y="309.7" width="81.8" height="1" opacity="0.05"/><rect x="370.2" y="310.7" width="81.8" height="1" opacity="0.05"/><rect x="370.2" y="311.7" width="81.8" height="1" opacity="0.05"/><rect x="370.2" y="312.7" width="81.8" height="1" opacity="0.04"/><rect x="370.2" y="313.7" width="81.8" height="1" opacity="0.05"/><rect x="370.2" y="314.7" width="81.8" height="1" opacity="0.05"/><rect x="370.2" y="315.7" width="81.8" height="1" opacity="0.05"/><rect x="370.2" y="316.7" width="81.8" height="1" opacity="0.04"/><rect x="370.2" y="317.7" width="81.8" height="1" opacity="0.04"/><rect x="370.2" y="318.7" width="81.8" height="1" opacity="0.04"/><rect x="370.2" y="319.7" width="81.8" height="1" opacity="0.05"/><rect x="370.2" y="320.7" width="81.8" height="1" opacity="0.04"/><rect x="370.2" y="321.7" width="81.8" height="1" opacity="0.04"/><rect x="370.2" y="322.7" width="81.8" height="1" opacity="0.05"/><rect x="370.2" y="323.7" width="81.8" height="1" opacity="0.05"/><rect x="370.2" y="324.7" width="81.8" height="1" opacity="0.06"/><rect x="370.2" y="325.7" width="81.8" height="1" opacity="0.04"/><rect x="370.2" y="326.7" width="81.8" height="1" opacity="0.04"/><rect x="370.2" y="327.7" width="81.8" height="1" opacity="0.04"/><rect x="370.2" y="328.7" width="81.8" height="1" opacity="0.05"/><rect x="370.2" y="329.7" width="81.8" height="1" opacity="0.06"/><rect x="370.2" y="330.7" width="81.8" height="1" opacity="0.04"/><rect x="370.2" y="331.7" width="81.8" height="1" opacity="0.04"/><rect x="370.2" y="332.7" width="81.8" height="1" opacity="0.05"/><rect x="370.2" y="333.7" width="81.8" height="1" opacity="0.04"/><rect x="370.2" y="334.7" width="81.8" height="1" opacity="0.04"/><rect x="370.2" y="335.7" width="81.8" height="1" opacity="0.04"/><rect x="370.2" y="336.7" width="81.8" height="1" opacity="0.04"/><rect x="370.2" y="337.7" width="81.8" height="1" opacity="0.05"/><rect x="370.2" y="338.7" width="81.8" height="1" opacity="0.04"/><rect x="370.2" y="339.7" width="81.8" height="1" opacity="0.05"/><rect x="370.2" y="340.7" width="81.8" height="1" opacity="0.04"/><rect x="370.2" y="341.7" width="81.8" height="1" opacity="0.04"/><rect x="370.2" y="342.7" width="81.8" height="1" opacity="0.03"/><rect x="370.2" y="343.7" width="81.8" height="1" opacity="0.03"/><rect x="370.2" y="344.7" width="81.8" height="1" opacity="0.04"/><rect x="370.2" y="345.7" width="81.8" height="1" opacity="0.04"/><rect x="370.2" y="346.7" width="81.8" height="1" opacity="0.04"/><rect x="370.2" y="347.7" width="81.8" height="1" opacity="0.04"/><rect x="370.2" y="348.7" width="81.8" height="1" opacity="0.04"/><rect x="370.2" y="349.7" width="81.8" height="1" opacity="0.04"/><rect x="370.2" y="350.7" width="81.8" height="1" opacity="0.04"/><rect x="370.2" y="351.7" width="81.8" height="1" opacity="0.04"/><rect x="370.2" y="352.7" width="81.8" height="1" opacity="0.03"/><rect x="370.2" y="353.7" width="81.8" height="1" opacity="0.03"/><rect x="370.2" y="354.7" width="81.8" height="1" opacity="0.04"/><rect x="370.2" y="355.7" width="81.8" height="1" opacity="0.03"/><rect x="370.2" y="356.7" width="81.8" height="1" opacity="0.03"/><rect x="370.2" y="357.7" width="81.8" height="1" opacity="0.04"/><rect x="370.2" y="358.7" width="81.8" height="1" opacity="0.04"/><rect x="370.2" y="359.7" width="81.8" height="1" opacity="0.03"/><rect x="370.2" y="360.7" width="81.8" height="1" opacity="0.03"/><rect x="370.2" y="361.7" width="81.8" height="1" opacity="0.04"/><rect x="370.2" y="362.7" width="81.8" height="1" opacity="0.04"/><rect x="370.2" y="363.7" width="81.8" height="1" opacity="0.04"/><rect x="370.2" y="364.7" width="81.8" height="1" opacity="0.04"/><rect x="370.2" y="365.7" width="81.8" height="1" opacity="0.03"/><rect x="370.2" y="366.7" width="81.8" height="1" opacity="0.03"/><rect x="370.2" y="367.7" width="81.8" height="1" opacity="0.04"/><rect x="370.2" y="368.7" width="81.8" height="1" opacity="0.04"/><rect x="370.2" y="369.7" width="81.8" height="1" opacity="0.04"/><rect x="370.2" y="370.7" width="81.8" height="1" opacity="0.04"/><rect x="370.2" y="371.7" width="81.8" height="1" opacity="0.03"/><rect x="370.2" y="372.7" width="81.8" height="1" opacity="0.03"/><rect x="370.2" y="373.7" width="81.8" height="1" opacity="0.03"/><rect x="370.2" y="374.7" width="81.8" height="1" opacity="0.03"/><rect x="370.2" y="375.7" width="81.8" height="1" opacity="0.03"/><rect x="370.2" y="376.7" width="81.8" height="1" opacity="0.03"/><rect x="370.2" y="377.7" width="81.8" height="1" opacity="0.03"/><rect x="370.2" y="378.7" width="81.8" height="1" opacity="0.03"/><rect x="370.2" y="379.7" width="81.8" height="1" opacity="0.03"/><rect x="370.2" y="380.7" width="81.8" height="1" opacity="0.03"/><rect x="370.2" y="381.7" width="81.8" height="1" opacity="0.03"/><rect x="370.2" y="382.7" width="81.8" height="1" opacity="0.03"/><rect x="370.2" y="383.7" width="81.8" height="1" opacity="0.03"/><rect x="370.2" y="384.7" width="81.8" height="1" opacity="0.03"/><rect x="370.2" y="385.7" width="81.8" height="1" opacity="0.03"/><rect x="370.2" y="386.7" width="81.8" height="1" opacity="0.03"/><rect x="370.2" y="387.7" width="81.8" height="1" opacity="0.03"/><rect x="370.2" y="388.7" width="81.8" height="1" opacity="0.03"/><rect x="370.2" y="389.7" width="81.8" height="1" opacity="0.03"/><rect x="370.2" y="390.7" width="81.8" height="1" opacity="0.03"/><rect x="370.2" y="391.7" width="81.8" height="1" opacity="0.03"/><rect x="370.2" y="392.7" width="81.8" height="1" opacity="0.03"/><rect x="370.2" y="393.7" width="81.8" height="1" opacity="0.03"/><rect x="370.2" y="394.7" width="81.8" height="1" opacity="0.02"/><rect x="370.2" y="395.7" width="81.8" height="1" opacity="0.03"/><rect x="370.2" y="396.7" width="81.8" height="1" opacity="0.02"/><rect x="370.2" y="397.7" width="81.8" height="1" opacity="0.02"/><rect x="370.2" y="398.7" width="81.8" height="1" opacity="0.03"/><rect x="370.2" y="399.7" width="81.8" height="1" opacity="0.02"/><rect x="370.2" y="400.7" width="81.8" height="1" opacity="0.03"/><rect x="370.2" y="401.7" width="81.8" height="1" opacity="0.02"/><rect x="370.2" y="402.7" width="81.8" height="1" opacity="0.02"/><rect x="370.2" y="403.7" width="81.8" height="1" opacity="0.02"/><rect x="370.2" y="404.7" width="81.8" height="1" opacity="0.03"/><rect x="370.2" y="405.7" width="81.8" height="1" opacity="0.03"/><rect x="370.2" y="406.7" width="81.8" height="1" opacity="0.02"/><rect x="370.2" y="407.7" width="81.8" height="1" opacity="0.03"/></g><g fill="url(#hh)"><rect x="354.17" y="205.7" width="113.86" height="1" opacity="0.54"/><rect x="353.91" y="206.7" width="114.39" height="1" opacity="0.40"/><rect x="336.53" y="207.7" width="149.13" height="1" opacity="0.20"/><rect x="338.58" y="208.7" width="145.04" height="1" opacity="0.45"/><rect x="337.17" y="209.7" width="147.86" height="1" opacity="0.38"/><rect x="333.13" y="210.7" width="155.94" height="1" opacity="0.37"/><rect x="338.27" y="211.7" width="145.65" height="1" opacity="0.34"/><rect x="336.4" y="212.7" width="149.41" height="1" opacity="0.25"/><rect x="335.94" y="213.7" width="150.32" height="1" opacity="0.30"/><rect x="352.14" y="214.7" width="117.92" height="1" opacity="0.39"/><rect x="330.44" y="215.7" width="161.32" height="1" opacity="0.45"/><rect x="348.96" y="216.7" width="124.28" height="1" opacity="0.42"/><rect x="349.23" y="217.7" width="123.75" height="1" opacity="0.34"/><rect x="345.77" y="218.7" width="130.67" height="1" opacity="0.11"/><rect x="345.79" y="219.7" width="130.62" height="1" opacity="0.24"/><rect x="353.34" y="220.7" width="115.53" height="1" opacity="0.20"/><rect x="360.19" y="221.7" width="101.83" height="1" opacity="0.25"/><rect x="343.57" y="222.7" width="135.05" height="1" opacity="0.52"/><rect x="350.64" y="223.7" width="120.91" height="1" opacity="0.46"/><rect x="353.08" y="224.7" width="116.04" height="1" opacity="0.15"/><rect x="350.51" y="225.7" width="121.18" height="1" opacity="0.39"/><rect x="355.02" y="226.7" width="112.16" height="1" opacity="0.38"/><rect x="348.35" y="227.7" width="125.51" height="1" opacity="0.26"/><rect x="363.12" y="228.7" width="95.97" height="1" opacity="0.32"/><rect x="354.65" y="229.7" width="112.91" height="1" opacity="0.31"/><rect x="346.77" y="230.7" width="128.67" height="1" opacity="0.52"/><rect x="356.84" y="231.7" width="108.53" height="1" opacity="0.41"/><rect x="347.98" y="232.7" width="126.25" height="1" opacity="0.41"/><rect x="347.7" y="233.7" width="126.8" height="1" opacity="0.30"/><rect x="350.22" y="234.7" width="121.77" height="1" opacity="0.54"/><rect x="350.23" y="235.7" width="121.75" height="1" opacity="0.27"/><rect x="351.96" y="236.7" width="118.28" height="1" opacity="0.46"/><rect x="353.96" y="237.7" width="114.29" height="1" opacity="0.28"/><rect x="346.72" y="238.7" width="128.76" height="1" opacity="0.21"/><rect x="353.89" y="239.7" width="114.42" height="1" opacity="0.33"/><rect x="365.09" y="240.7" width="92.01" height="1" opacity="0.45"/><rect x="355.42" y="241.7" width="111.36" height="1" opacity="0.21"/><rect x="354.06" y="242.7" width="114.07" height="1" opacity="0.28"/><rect x="370.25" y="243.7" width="81.71" height="1" opacity="0.26"/><rect x="356.74" y="244.7" width="108.72" height="1" opacity="0.38"/><rect x="357.62" y="245.7" width="106.96" height="1" opacity="0.32"/><rect x="355.97" y="246.7" width="110.26" height="1" opacity="0.30"/><rect x="351.83" y="247.7" width="118.54" height="1" opacity="0.33"/><rect x="357.59" y="248.7" width="107.02" height="1" opacity="0.36"/><rect x="366.19" y="249.7" width="89.82" height="1" opacity="0.24"/><rect x="350.53" y="250.7" width="121.14" height="1" opacity="0.34"/><rect x="361.9" y="251.7" width="98.41" height="1" opacity="0.34"/><rect x="363.35" y="252.7" width="95.5" height="1" opacity="0.33"/><rect x="364.7" y="253.7" width="92.8" height="1" opacity="0.33"/><rect x="370.42" y="254.7" width="81.35" height="1" opacity="0.42"/><rect x="371.71" y="261.7" width="78.78" height="1" opacity="0.13"/><rect x="370.5" y="262.7" width="81.2" height="1" opacity="0.21"/><rect x="368.87" y="263.7" width="84.45" height="1" opacity="0.16"/><rect x="367.92" y="264.7" width="86.36" height="1" opacity="0.49"/><rect x="376.42" y="265.7" width="69.35" height="1" opacity="0.26"/><rect x="371.91" y="266.7" width="78.38" height="1" opacity="0.25"/><rect x="379.44" y="267.7" width="63.32" height="1" opacity="0.15"/><rect x="368.68" y="268.7" width="84.84" height="1" opacity="0.23"/><rect x="363.31" y="269.7" width="95.59" height="1" opacity="0.18"/><rect x="370.55" y="270.7" width="81.1" height="1" opacity="0.43"/><rect x="375.24" y="271.7" width="71.72" height="1" opacity="0.17"/><rect x="372.01" y="272.7" width="78.18" height="1" opacity="0.22"/><rect x="368.13" y="273.7" width="85.95" height="1" opacity="0.23"/><rect x="375.84" y="274.7" width="70.53" height="1" opacity="0.24"/><rect x="360.34" y="275.7" width="101.52" height="1" opacity="0.31"/><rect x="385.57" y="276.7" width="51.05" height="1" opacity="0.21"/><rect x="377.01" y="277.7" width="68.17" height="1" opacity="0.26"/><rect x="374.03" y="278.7" width="74.13" height="1" opacity="0.35"/><rect x="369.28" y="279.7" width="83.65" height="1" opacity="0.28"/><rect x="372.88" y="280.7" width="76.45" height="1" opacity="0.22"/><rect x="372.43" y="281.7" width="77.34" height="1" opacity="0.30"/><rect x="371.81" y="282.7" width="78.58" height="1" opacity="0.19"/><rect x="368.8" y="283.7" width="84.6" height="1" opacity="0.23"/><rect x="374.99" y="284.7" width="72.23" height="1" opacity="0.16"/><rect x="377.34" y="285.7" width="67.52" height="1" opacity="0.17"/><rect x="387.17" y="286.7" width="47.86" height="1" opacity="0.28"/><rect x="372.92" y="287.7" width="76.37" height="1" opacity="0.20"/><rect x="371.12" y="288.7" width="79.96" height="1" opacity="0.24"/><rect x="374.24" y="289.7" width="73.72" height="1" opacity="0.05"/><rect x="377.03" y="290.7" width="68.15" height="1" opacity="0.24"/><rect x="369.55" y="291.7" width="83.09" height="1" opacity="0.32"/><rect x="370.6" y="292.7" width="81.01" height="1" opacity="0.13"/><rect x="385.81" y="293.7" width="50.59" height="1" opacity="0.24"/><rect x="376.87" y="294.7" width="68.47" height="1" opacity="0.26"/><rect x="377.73" y="295.7" width="66.75" height="1" opacity="0.22"/><rect x="383.5" y="296.7" width="55.19" height="1" opacity="0.23"/><rect x="379.46" y="297.7" width="63.27" height="1" opacity="0.22"/><rect x="376.08" y="298.7" width="70.03" height="1" opacity="0.19"/><rect x="376.9" y="299.7" width="68.4" height="1" opacity="0.20"/><rect x="375.44" y="300.7" width="71.31" height="1" opacity="0.23"/><rect x="380.82" y="301.7" width="60.57" height="1" opacity="0.16"/><rect x="372.23" y="302.7" width="77.75" height="1" opacity="0.19"/><rect x="375.43" y="303.7" width="71.35" height="1" opacity="0.22"/><rect x="381.63" y="304.7" width="58.95" height="1" opacity="0.15"/><rect x="379.3" y="305.7" width="63.6" height="1" opacity="0.21"/><rect x="377.73" y="306.7" width="66.74" height="1" opacity="0.12"/><rect x="382.49" y="307.7" width="57.23" height="1" opacity="0.19"/><rect x="374.69" y="308.7" width="72.83" height="1" opacity="0.06"/><rect x="379.22" y="309.7" width="63.75" height="1" opacity="0.16"/><rect x="379.53" y="310.7" width="63.13" height="1" opacity="0.16"/><rect x="380.05" y="311.7" width="62.1" height="1" opacity="0.28"/><rect x="380.37" y="312.7" width="61.47" height="1" opacity="0.21"/><rect x="380.58" y="313.7" width="61.04" height="1" opacity="0.14"/><rect x="380.27" y="314.7" width="61.67" height="1" opacity="0.17"/><rect x="385.21" y="315.7" width="51.77" height="1" opacity="0.18"/><rect x="383.46" y="316.7" width="55.28" height="1" opacity="0.22"/><rect x="383.1" y="317.7" width="56" height="1" opacity="0.15"/><rect x="378.35" y="318.7" width="65.5" height="1" opacity="0.23"/><rect x="379.28" y="319.7" width="63.64" height="1" opacity="0.21"/><rect x="384.11" y="320.7" width="53.97" height="1" opacity="0.16"/><rect x="384.93" y="321.7" width="52.34" height="1" opacity="0.23"/><rect x="383.93" y="322.7" width="54.35" height="1" opacity="0.10"/><rect x="384.68" y="323.7" width="52.84" height="1" opacity="0.10"/><rect x="384.3" y="324.7" width="53.61" height="1" opacity="0.11"/><rect x="389.03" y="325.7" width="44.14" height="1" opacity="0.18"/><rect x="385.59" y="326.7" width="51.01" height="1" opacity="0.09"/><rect x="383.33" y="327.7" width="55.54" height="1" opacity="0.28"/><rect x="390.37" y="328.7" width="41.46" height="1" opacity="0.26"/><rect x="388.21" y="329.7" width="45.78" height="1" opacity="0.14"/><rect x="386.94" y="330.7" width="48.31" height="1" opacity="0.10"/><rect x="382.87" y="331.7" width="56.47" height="1" opacity="0.19"/><rect x="389.11" y="332.7" width="43.97" height="1" opacity="0.15"/><rect x="391.55" y="333.7" width="39.11" height="1" opacity="0.15"/><rect x="384.8" y="334.7" width="52.6" height="1" opacity="0.08"/><rect x="388.94" y="335.7" width="44.32" height="1" opacity="0.17"/><rect x="385.07" y="336.7" width="52.06" height="1" opacity="0.23"/><rect x="389.49" y="337.7" width="43.21" height="1" opacity="0.12"/><rect x="387.28" y="338.7" width="47.64" height="1" opacity="0.14"/><rect x="389.59" y="339.7" width="43.02" height="1" opacity="0.21"/><rect x="384.54" y="340.7" width="53.11" height="1" opacity="0.17"/><rect x="389.79" y="341.7" width="42.63" height="1" opacity="0.18"/><rect x="394.43" y="342.7" width="33.35" height="1" opacity="0.15"/><rect x="392.51" y="343.7" width="37.17" height="1" opacity="0.26"/><rect x="388.25" y="344.7" width="45.71" height="1" opacity="0.16"/><rect x="390.81" y="345.7" width="40.58" height="1" opacity="0.04"/><rect x="388.83" y="346.7" width="44.54" height="1" opacity="0.22"/><rect x="392.62" y="347.7" width="36.96" height="1" opacity="0.18"/><rect x="389.38" y="348.7" width="43.45" height="1" opacity="0.08"/><rect x="389.15" y="349.7" width="43.89" height="1" opacity="0.20"/><rect x="391.1" y="350.7" width="40.01" height="1" opacity="0.14"/><rect x="390.08" y="351.7" width="42.05" height="1" opacity="0.08"/><rect x="391.94" y="352.7" width="38.32" height="1" opacity="0.18"/><rect x="395.21" y="353.7" width="31.78" height="1" opacity="0.18"/><rect x="393.62" y="354.7" width="34.95" height="1" opacity="0.05"/><rect x="393.2" y="355.7" width="35.79" height="1" opacity="0.10"/><rect x="392.56" y="356.7" width="37.08" height="1" opacity="0.09"/><rect x="391.3" y="357.7" width="39.6" height="1" opacity="0.11"/><rect x="393.05" y="358.7" width="36.1" height="1" opacity="0.11"/><rect x="394.72" y="359.7" width="32.75" height="1" opacity="0.18"/><rect x="393.9" y="360.7" width="34.39" height="1" opacity="0.12"/><rect x="397.09" y="361.7" width="28.03" height="1" opacity="0.18"/><rect x="393.46" y="362.7" width="35.29" height="1" opacity="0.12"/><rect x="394.69" y="363.7" width="32.82" height="1" opacity="0.09"/><rect x="397.34" y="364.7" width="27.53" height="1" opacity="0.10"/><rect x="395.05" y="365.7" width="32.11" height="1" opacity="0.14"/><rect x="397.33" y="366.7" width="27.55" height="1" opacity="0.16"/><rect x="394.85" y="367.7" width="32.51" height="1" opacity="0.14"/><rect x="394.7" y="368.7" width="32.8" height="1" opacity="0.12"/><rect x="396.98" y="369.7" width="28.23" height="1" opacity="0.15"/><rect x="397.12" y="370.7" width="27.96" height="1" opacity="0.16"/><rect x="399.41" y="371.7" width="23.39" height="1" opacity="0.18"/><rect x="398.87" y="372.7" width="24.45" height="1" opacity="0.12"/><rect x="400.07" y="373.7" width="22.07" height="1" opacity="0.15"/><rect x="396.18" y="374.7" width="29.85" height="1" opacity="0.16"/><rect x="397.16" y="375.7" width="27.88" height="1" opacity="0.07"/><rect x="399.86" y="376.7" width="22.47" height="1" opacity="0.11"/><rect x="400.33" y="377.7" width="21.53" height="1" opacity="0.16"/><rect x="398.98" y="378.7" width="24.23" height="1" opacity="0.12"/><rect x="398.84" y="379.7" width="24.52" height="1" opacity="0.09"/><rect x="401.02" y="380.7" width="20.15" height="1" opacity="0.09"/><rect x="399.4" y="381.7" width="23.39" height="1" opacity="0.13"/><rect x="399.59" y="382.7" width="23.02" height="1" opacity="0.16"/><rect x="402.32" y="383.7" width="17.56" height="1" opacity="0.10"/><rect x="400.7" y="384.7" width="20.8" height="1" opacity="0.07"/><rect x="401.79" y="385.7" width="18.62" height="1" opacity="0.15"/><rect x="400.15" y="386.7" width="21.91" height="1" opacity="0.15"/><rect x="401.65" y="387.7" width="18.9" height="1" opacity="0.11"/><rect x="400.79" y="388.7" width="20.62" height="1" opacity="0.10"/><rect x="401.89" y="389.7" width="18.43" height="1" opacity="0.16"/><rect x="402.9" y="390.7" width="16.41" height="1" opacity="0.09"/><rect x="402.8" y="391.7" width="16.6" height="1" opacity="0.13"/><rect x="402.6" y="392.7" width="17" height="1" opacity="0.12"/><rect x="402.82" y="393.7" width="16.56" height="1" opacity="0.06"/><rect x="404.38" y="394.7" width="13.44" height="1" opacity="0.11"/><rect x="404.69" y="395.7" width="12.83" height="1" opacity="0.06"/><rect x="405.16" y="396.7" width="11.88" height="1" opacity="0.08"/><rect x="404.57" y="397.7" width="13.06" height="1" opacity="0.07"/><rect x="404.52" y="398.7" width="13.16" height="1" opacity="0.16"/><rect x="405.08" y="399.7" width="12.04" height="1" opacity="0.15"/><rect x="405.04" y="400.7" width="12.11" height="1" opacity="0.07"/><rect x="405.69" y="401.7" width="10.82" height="1" opacity="0.07"/><rect x="405.3" y="402.7" width="11.6" height="1" opacity="0.07"/><rect x="405.26" y="403.7" width="11.67" height="1" opacity="0.12"/><rect x="407.49" y="404.7" width="7.22" height="1" opacity="0.13"/><rect x="405.77" y="405.7" width="10.66" height="1" opacity="0.08"/><rect x="406.38" y="406.7" width="9.43" height="1" opacity="0.05"/><rect x="406.98" y="407.7" width="8.24" height="1" opacity="0.05"/></g><g fill="url(#hc)"><rect x="364.98" y="205.7" width="92.25" height="1" opacity="0.45"/><rect x="378.68" y="206.7" width="64.83" height="1" opacity="0.63"/><rect x="357.03" y="207.7" width="108.13" height="1" opacity="0.55"/><rect x="363.45" y="208.7" width="95.31" height="1" opacity="0.61"/><rect x="368.52" y="209.7" width="85.15" height="1" opacity="0.65"/><rect x="359.87" y="210.7" width="102.45" height="1" opacity="0.50"/><rect x="364.62" y="211.7" width="92.96" height="1" opacity="0.63"/><rect x="373.75" y="212.7" width="74.7" height="1" opacity="0.73"/><rect x="359.82" y="213.7" width="102.55" height="1" opacity="0.51"/><rect x="361.48" y="214.7" width="99.24" height="1" opacity="0.58"/><rect x="370.15" y="215.7" width="81.9" height="1" opacity="0.69"/><rect x="369.18" y="216.7" width="83.85" height="1" opacity="0.59"/><rect x="364.62" y="217.7" width="92.95" height="1" opacity="0.65"/><rect x="367.84" y="218.7" width="86.52" height="1" opacity="0.44"/><rect x="378.17" y="219.7" width="65.86" height="1" opacity="0.62"/><rect x="376.23" y="220.7" width="69.74" height="1" opacity="0.54"/><rect x="377.37" y="221.7" width="67.47" height="1" opacity="0.51"/><rect x="378.7" y="222.7" width="64.8" height="1" opacity="0.63"/><rect x="378.31" y="223.7" width="65.58" height="1" opacity="0.50"/><rect x="375.88" y="224.7" width="70.44" height="1" opacity="0.58"/><rect x="380.76" y="225.7" width="60.68" height="1" opacity="0.49"/><rect x="377" y="226.7" width="68.2" height="1" opacity="0.52"/><rect x="375.19" y="227.7" width="71.82" height="1" opacity="0.45"/><rect x="376.53" y="228.7" width="69.14" height="1" opacity="0.45"/><rect x="376.32" y="229.7" width="69.56" height="1" opacity="0.47"/><rect x="380.55" y="230.7" width="61.1" height="1" opacity="0.47"/><rect x="377.77" y="231.7" width="66.66" height="1" opacity="0.61"/><rect x="381.03" y="232.7" width="60.15" height="1" opacity="0.48"/><rect x="375.46" y="233.7" width="71.28" height="1" opacity="0.32"/><rect x="385.87" y="234.7" width="50.47" height="1" opacity="0.37"/><rect x="381.42" y="235.7" width="59.37" height="1" opacity="0.59"/><rect x="380.45" y="236.7" width="61.3" height="1" opacity="0.51"/><rect x="382.78" y="237.7" width="56.63" height="1" opacity="0.28"/><rect x="389.25" y="238.7" width="43.7" height="1" opacity="0.48"/><rect x="382.66" y="239.7" width="56.88" height="1" opacity="0.34"/><rect x="380.47" y="240.7" width="61.26" height="1" opacity="0.33"/><rect x="380.84" y="241.7" width="60.51" height="1" opacity="0.50"/><rect x="386.35" y="242.7" width="49.5" height="1" opacity="0.35"/><rect x="382.44" y="243.7" width="57.31" height="1" opacity="0.35"/><rect x="382.8" y="244.7" width="56.59" height="1" opacity="0.34"/><rect x="383.35" y="245.7" width="55.5" height="1" opacity="0.42"/><rect x="386.89" y="246.7" width="48.41" height="1" opacity="0.36"/><rect x="385.58" y="247.7" width="51.03" height="1" opacity="0.30"/><rect x="387.23" y="248.7" width="47.75" height="1" opacity="0.38"/><rect x="385.29" y="249.7" width="51.63" height="1" opacity="0.33"/><rect x="383.22" y="250.7" width="55.76" height="1" opacity="0.38"/><rect x="390.34" y="251.7" width="41.51" height="1" opacity="0.48"/><rect x="384.23" y="252.7" width="53.74" height="1" opacity="0.39"/><rect x="390.46" y="253.7" width="41.27" height="1" opacity="0.40"/><rect x="390.37" y="254.7" width="41.46" height="1" opacity="0.38"/><rect x="389.15" y="261.7" width="43.89" height="1" opacity="0.32"/><rect x="391.97" y="262.7" width="38.27" height="1" opacity="0.31"/><rect x="392.47" y="263.7" width="37.25" height="1" opacity="0.34"/><rect x="390.86" y="264.7" width="40.49" height="1" opacity="0.28"/><rect x="392.42" y="265.7" width="37.35" height="1" opacity="0.40"/><rect x="391.97" y="266.7" width="38.26" height="1" opacity="0.29"/><rect x="389.14" y="267.7" width="43.93" height="1" opacity="0.30"/><rect x="394.98" y="268.7" width="32.23" height="1" opacity="0.33"/><rect x="394.74" y="269.7" width="32.72" height="1" opacity="0.28"/><rect x="392.66" y="270.7" width="36.89" height="1" opacity="0.29"/><rect x="394.71" y="271.7" width="32.78" height="1" opacity="0.28"/><rect x="394.52" y="272.7" width="33.16" height="1" opacity="0.35"/><rect x="394.85" y="273.7" width="32.5" height="1" opacity="0.27"/><rect x="390.16" y="274.7" width="41.88" height="1" opacity="0.27"/><rect x="391.25" y="275.7" width="39.7" height="1" opacity="0.35"/><rect x="394.2" y="276.7" width="33.8" height="1" opacity="0.24"/><rect x="393.28" y="277.7" width="35.63" height="1" opacity="0.32"/><rect x="392.54" y="278.7" width="37.13" height="1" opacity="0.30"/><rect x="392.27" y="279.7" width="37.67" height="1" opacity="0.35"/><rect x="396.17" y="280.7" width="29.87" height="1" opacity="0.35"/><rect x="394.23" y="281.7" width="33.73" height="1" opacity="0.27"/><rect x="395.16" y="282.7" width="31.87" height="1" opacity="0.37"/><rect x="393.15" y="283.7" width="35.9" height="1" opacity="0.22"/><rect x="394.74" y="284.7" width="32.72" height="1" opacity="0.28"/><rect x="395.27" y="285.7" width="31.65" height="1" opacity="0.27"/><rect x="397.44" y="286.7" width="27.33" height="1" opacity="0.32"/><rect x="396.72" y="287.7" width="28.77" height="1" opacity="0.27"/><rect x="396.29" y="288.7" width="29.62" height="1" opacity="0.26"/><rect x="394.29" y="289.7" width="33.61" height="1" opacity="0.30"/><rect x="396.62" y="290.7" width="28.96" height="1" opacity="0.25"/><rect x="396.41" y="291.7" width="29.37" height="1" opacity="0.32"/><rect x="395.61" y="292.7" width="30.97" height="1" opacity="0.29"/><rect x="396.42" y="293.7" width="29.36" height="1" opacity="0.27"/><rect x="395.71" y="294.7" width="30.77" height="1" opacity="0.21"/><rect x="393.75" y="295.7" width="34.7" height="1" opacity="0.25"/><rect x="397.12" y="296.7" width="27.97" height="1" opacity="0.33"/><rect x="396.06" y="297.7" width="30.07" height="1" opacity="0.28"/><rect x="397.36" y="298.7" width="27.48" height="1" opacity="0.22"/><rect x="396.36" y="299.7" width="29.48" height="1" opacity="0.33"/><rect x="398.07" y="300.7" width="26.06" height="1" opacity="0.33"/><rect x="398.53" y="301.7" width="25.15" height="1" opacity="0.25"/><rect x="396.37" y="302.7" width="29.46" height="1" opacity="0.28"/><rect x="396.27" y="303.7" width="29.66" height="1" opacity="0.25"/><rect x="398.8" y="304.7" width="24.61" height="1" opacity="0.20"/><rect x="399.16" y="305.7" width="23.87" height="1" opacity="0.23"/><rect x="399.59" y="306.7" width="23.01" height="1" opacity="0.29"/><rect x="398.71" y="307.7" width="24.78" height="1" opacity="0.20"/><rect x="394.72" y="308.7" width="32.76" height="1" opacity="0.24"/><rect x="399.76" y="309.7" width="22.68" height="1" opacity="0.32"/><rect x="396.79" y="310.7" width="28.63" height="1" opacity="0.23"/><rect x="400.3" y="311.7" width="21.6" height="1" opacity="0.23"/><rect x="397.17" y="312.7" width="27.87" height="1" opacity="0.26"/><rect x="399.73" y="313.7" width="22.74" height="1" opacity="0.27"/><rect x="397.41" y="314.7" width="27.38" height="1" opacity="0.22"/><rect x="399.49" y="315.7" width="23.21" height="1" opacity="0.22"/><rect x="396.59" y="316.7" width="29.02" height="1" opacity="0.34"/><rect x="398.21" y="317.7" width="25.78" height="1" opacity="0.26"/><rect x="398.71" y="318.7" width="24.77" height="1" opacity="0.19"/><rect x="399.31" y="319.7" width="23.57" height="1" opacity="0.22"/><rect x="401.28" y="320.7" width="19.64" height="1" opacity="0.24"/><rect x="400.32" y="321.7" width="21.56" height="1" opacity="0.29"/><rect x="399.31" y="322.7" width="23.58" height="1" opacity="0.27"/><rect x="401.26" y="323.7" width="19.69" height="1" opacity="0.29"/><rect x="400.51" y="324.7" width="21.18" height="1" opacity="0.31"/><rect x="401.5" y="325.7" width="19.2" height="1" opacity="0.16"/><rect x="401.18" y="326.7" width="19.85" height="1" opacity="0.34"/><rect x="400.35" y="327.7" width="21.5" height="1" opacity="0.25"/><rect x="400.09" y="328.7" width="22.03" height="1" opacity="0.28"/><rect x="400.66" y="329.7" width="20.88" height="1" opacity="0.24"/><rect x="401.16" y="330.7" width="19.89" height="1" opacity="0.27"/><rect x="401.97" y="331.7" width="18.27" height="1" opacity="0.22"/><rect x="401.31" y="332.7" width="19.57" height="1" opacity="0.29"/><rect x="400.94" y="333.7" width="20.32" height="1" opacity="0.27"/><rect x="401.19" y="334.7" width="19.82" height="1" opacity="0.35"/><rect x="401.53" y="335.7" width="19.14" height="1" opacity="0.29"/><rect x="400.08" y="336.7" width="22.04" height="1" opacity="0.26"/><rect x="401.75" y="337.7" width="18.7" height="1" opacity="0.29"/><rect x="400.58" y="338.7" width="21.04" height="1" opacity="0.26"/><rect x="401.89" y="339.7" width="18.43" height="1" opacity="0.25"/><rect x="403.38" y="340.7" width="15.45" height="1" opacity="0.29"/><rect x="402.65" y="341.7" width="16.91" height="1" opacity="0.19"/><rect x="402.66" y="342.7" width="16.88" height="1" opacity="0.19"/><rect x="403.49" y="343.7" width="15.21" height="1" opacity="0.25"/><rect x="403.52" y="344.7" width="15.16" height="1" opacity="0.28"/><rect x="404.07" y="345.7" width="14.07" height="1" opacity="0.26"/><rect x="402.51" y="346.7" width="17.18" height="1" opacity="0.30"/><rect x="402.33" y="347.7" width="17.54" height="1" opacity="0.25"/><rect x="403.12" y="348.7" width="15.97" height="1" opacity="0.24"/><rect x="402.4" y="349.7" width="17.4" height="1" opacity="0.22"/><rect x="403" y="350.7" width="16.21" height="1" opacity="0.24"/><rect x="403.32" y="351.7" width="15.55" height="1" opacity="0.23"/><rect x="402.02" y="352.7" width="18.16" height="1" opacity="0.22"/><rect x="403.55" y="353.7" width="15.09" height="1" opacity="0.25"/><rect x="403.42" y="354.7" width="15.36" height="1" opacity="0.25"/><rect x="403.68" y="355.7" width="14.84" height="1" opacity="0.27"/><rect x="405.16" y="356.7" width="11.89" height="1" opacity="0.23"/><rect x="405.07" y="357.7" width="12.05" height="1" opacity="0.24"/><rect x="405.15" y="358.7" width="11.91" height="1" opacity="0.20"/><rect x="404.51" y="359.7" width="13.18" height="1" opacity="0.27"/><rect x="404.22" y="360.7" width="13.76" height="1" opacity="0.24"/><rect x="403.82" y="361.7" width="14.56" height="1" opacity="0.20"/><rect x="406.15" y="362.7" width="9.91" height="1" opacity="0.21"/><rect x="405.13" y="363.7" width="11.94" height="1" opacity="0.26"/><rect x="403.8" y="364.7" width="14.6" height="1" opacity="0.18"/><rect x="403.75" y="365.7" width="14.71" height="1" opacity="0.27"/><rect x="404.84" y="366.7" width="12.51" height="1" opacity="0.23"/><rect x="404.08" y="367.7" width="14.04" height="1" opacity="0.22"/><rect x="405.83" y="368.7" width="10.53" height="1" opacity="0.22"/><rect x="406.43" y="369.7" width="9.33" height="1" opacity="0.23"/><rect x="405.87" y="370.7" width="10.45" height="1" opacity="0.22"/><rect x="405.75" y="371.7" width="10.69" height="1" opacity="0.18"/><rect x="405.4" y="372.7" width="11.4" height="1" opacity="0.18"/><rect x="405.75" y="373.7" width="10.7" height="1" opacity="0.16"/><rect x="406.13" y="374.7" width="9.94" height="1" opacity="0.18"/><rect x="406.41" y="375.7" width="9.38" height="1" opacity="0.19"/><rect x="407.54" y="376.7" width="7.11" height="1" opacity="0.17"/><rect x="406.64" y="377.7" width="8.91" height="1" opacity="0.22"/><rect x="407.43" y="378.7" width="7.35" height="1" opacity="0.14"/><rect x="407.29" y="379.7" width="7.62" height="1" opacity="0.19"/><rect x="407.34" y="380.7" width="7.53" height="1" opacity="0.18"/><rect x="406.91" y="381.7" width="8.38" height="1" opacity="0.22"/><rect x="407.12" y="382.7" width="7.96" height="1" opacity="0.17"/><rect x="407.52" y="383.7" width="7.15" height="1" opacity="0.19"/><rect x="408.19" y="384.7" width="5.82" height="1" opacity="0.21"/><rect x="407.83" y="385.7" width="6.53" height="1" opacity="0.18"/><rect x="407.58" y="386.7" width="7.04" height="1" opacity="0.21"/><rect x="407.92" y="387.7" width="6.35" height="1" opacity="0.21"/><rect x="408.13" y="388.7" width="5.94" height="1" opacity="0.15"/><rect x="408.59" y="389.7" width="5.02" height="1" opacity="0.21"/><rect x="408.83" y="390.7" width="4.54" height="1" opacity="0.18"/><rect x="408.71" y="391.7" width="4.78" height="1" opacity="0.21"/><rect x="408.68" y="392.7" width="4.84" height="1" opacity="0.20"/><rect x="409.15" y="393.7" width="3.9" height="1" opacity="0.19"/><rect x="409.17" y="394.7" width="3.86" height="1" opacity="0.17"/><rect x="409.2" y="395.7" width="3.8" height="1" opacity="0.18"/><rect x="409.7" y="396.7" width="2.81" height="1" opacity="0.20"/><rect x="409.77" y="397.7" width="2.66" height="1" opacity="0.18"/><rect x="410.08" y="398.7" width="2.05" height="1" opacity="0.16"/><rect x="410.15" y="399.7" width="1.9" height="1" opacity="0.14"/><rect x="410.38" y="400.7" width="1.45" height="1" opacity="0.21"/><rect x="410.37" y="401.7" width="1.45" height="1" opacity="0.16"/><rect x="410.45" y="402.7" width="1.29" height="1" opacity="0.15"/><rect x="410.65" y="403.7" width="0.89" height="1" opacity="0.12"/><rect x="410.81" y="404.7" width="0.57" height="1" opacity="0.14"/></g></g>
<rect x="369.5" y="205" width="83.2" height="204.2" fill="none" stroke="#231f20" stroke-width="1.5"/>
<g clip-path="url(#hm12)"><g fill="#faa800"><rect x="370.2" y="412.6" width="81.8" height="1" opacity="0.41"/><rect x="370.2" y="413.6" width="81.8" height="1" opacity="0.33"/><rect x="370.2" y="414.6" width="81.8" height="1" opacity="0.24"/><rect x="370.2" y="415.6" width="81.8" height="1" opacity="0.16"/><rect x="370.2" y="416.6" width="81.8" height="1" opacity="0.15"/><rect x="370.2" y="417.6" width="81.8" height="1" opacity="0.09"/><rect x="370.2" y="418.6" width="81.8" height="1" opacity="0.07"/><rect x="370.2" y="419.6" width="81.8" height="1" opacity="0.05"/><rect x="370.2" y="420.6" width="81.8" height="1" opacity="0.06"/><rect x="370.2" y="421.6" width="81.8" height="1" opacity="0.06"/><rect x="370.2" y="422.6" width="81.8" height="1" opacity="0.05"/><rect x="370.2" y="423.6" width="81.8" height="1" opacity="0.06"/><rect x="370.2" y="424.6" width="81.8" height="1" opacity="0.04"/><rect x="370.2" y="425.6" width="81.8" height="1" opacity="0.05"/><rect x="370.2" y="426.6" width="81.8" height="1" opacity="0.04"/><rect x="370.2" y="427.6" width="81.8" height="1" opacity="0.06"/><rect x="370.2" y="428.6" width="81.8" height="1" opacity="0.05"/><rect x="370.2" y="429.6" width="81.8" height="1" opacity="0.05"/><rect x="370.2" y="430.6" width="81.8" height="1" opacity="0.04"/><rect x="370.2" y="431.6" width="81.8" height="1" opacity="0.04"/><rect x="370.2" y="432.6" width="81.8" height="1" opacity="0.04"/><rect x="370.2" y="433.6" width="81.8" height="1" opacity="0.03"/><rect x="370.2" y="434.6" width="81.8" height="1" opacity="0.03"/><rect x="370.2" y="435.6" width="81.8" height="1" opacity="0.03"/><rect x="370.2" y="436.6" width="81.8" height="1" opacity="0.03"/><rect x="370.2" y="437.6" width="81.8" height="1" opacity="0.03"/><rect x="370.2" y="438.6" width="81.8" height="1" opacity="0.03"/><rect x="370.2" y="439.6" width="81.8" height="1" opacity="0.02"/><rect x="370.2" y="440.6" width="81.8" height="1" opacity="0.03"/><rect x="370.2" y="441.6" width="81.8" height="1" opacity="0.02"/><rect x="370.2" y="442.6" width="81.8" height="1" opacity="0.03"/><rect x="370.2" y="443.6" width="81.8" height="1" opacity="0.02"/><rect x="370.2" y="444.6" width="81.8" height="1" opacity="0.02"/><rect x="370.2" y="445.6" width="81.8" height="1" opacity="0.02"/><rect x="370.2" y="446.6" width="81.8" height="1" opacity="0.02"/><rect x="370.2" y="447.6" width="81.8" height="1" opacity="0.02"/><rect x="370.2" y="448.6" width="81.8" height="1" opacity="0.02"/><rect x="370.2" y="449.6" width="81.8" height="1" opacity="0.02"/><rect x="370.2" y="450.6" width="81.8" height="1" opacity="0.02"/><rect x="370.2" y="451.6" width="81.8" height="1" opacity="0.03"/><rect x="370.2" y="452.6" width="81.8" height="1" opacity="0.03"/><rect x="370.2" y="453.6" width="81.8" height="1" opacity="0.02"/><rect x="370.2" y="454.6" width="81.8" height="1" opacity="0.03"/><rect x="370.2" y="455.6" width="81.8" height="1" opacity="0.02"/><rect x="370.2" y="456.6" width="81.8" height="1" opacity="0.03"/><rect x="370.2" y="457.6" width="81.8" height="1" opacity="0.03"/><rect x="370.2" y="458.6" width="81.8" height="1" opacity="0.02"/><rect x="370.2" y="459.6" width="81.8" height="1" opacity="0.02"/><rect x="370.2" y="460.6" width="81.8" height="1" opacity="0.02"/><rect x="370.2" y="461.6" width="81.8" height="1" opacity="0.02"/><rect x="370.2" y="462.6" width="81.8" height="1" opacity="0.02"/><rect x="370.2" y="463.6" width="81.8" height="1" opacity="0.02"/><rect x="370.2" y="464.6" width="81.8" height="1" opacity="0.03"/><rect x="370.2" y="465.6" width="81.8" height="1" opacity="0.02"/><rect x="370.2" y="466.6" width="81.8" height="1" opacity="0.03"/><rect x="370.2" y="467.6" width="81.8" height="1" opacity="0.03"/><rect x="370.2" y="468.6" width="81.8" height="1" opacity="0.03"/><rect x="370.2" y="469.6" width="81.8" height="1" opacity="0.03"/><rect x="370.2" y="470.6" width="81.8" height="1" opacity="0.03"/><rect x="370.2" y="471.6" width="81.8" height="1" opacity="0.03"/><rect x="370.2" y="472.6" width="81.8" height="1" opacity="0.02"/><rect x="370.2" y="473.6" width="81.8" height="1" opacity="0.02"/><rect x="370.2" y="474.6" width="81.8" height="1" opacity="0.02"/><rect x="370.2" y="475.6" width="81.8" height="1" opacity="0.02"/><rect x="370.2" y="476.6" width="81.8" height="1" opacity="0.02"/><rect x="370.2" y="477.6" width="81.8" height="1" opacity="0.02"/><rect x="370.2" y="478.6" width="81.8" height="1" opacity="0.02"/><rect x="370.2" y="479.6" width="81.8" height="1" opacity="0.02"/><rect x="370.2" y="480.6" width="81.8" height="1" opacity="0.02"/><rect x="370.2" y="481.6" width="81.8" height="1" opacity="0.02"/><rect x="370.2" y="482.6" width="81.8" height="1" opacity="0.02"/><rect x="370.2" y="483.6" width="81.8" height="1" opacity="0.02"/><rect x="370.2" y="484.6" width="81.8" height="1" opacity="0.02"/><rect x="370.2" y="485.6" width="81.8" height="1" opacity="0.02"/><rect x="370.2" y="486.6" width="81.8" height="1" opacity="0.02"/><rect x="370.2" y="487.6" width="81.8" height="1" opacity="0.02"/><rect x="370.2" y="488.6" width="81.8" height="1" opacity="0.02"/><rect x="370.2" y="489.6" width="81.8" height="1" opacity="0.02"/><rect x="370.2" y="490.6" width="81.8" height="1" opacity="0.02"/><rect x="370.2" y="491.6" width="81.8" height="1" opacity="0.02"/><rect x="370.2" y="492.6" width="81.8" height="1" opacity="0.02"/><rect x="370.2" y="493.6" width="81.8" height="1" opacity="0.02"/><rect x="370.2" y="494.6" width="81.8" height="1" opacity="0.02"/><rect x="370.2" y="495.6" width="81.8" height="1" opacity="0.02"/><rect x="370.2" y="496.6" width="81.8" height="1" opacity="0.02"/><rect x="370.2" y="497.6" width="81.8" height="1" opacity="0.02"/><rect x="370.2" y="498.6" width="81.8" height="1" opacity="0.02"/><rect x="370.2" y="499.6" width="81.8" height="1" opacity="0.02"/><rect x="370.2" y="500.6" width="81.8" height="1" opacity="0.02"/><rect x="370.2" y="501.6" width="81.8" height="1" opacity="0.02"/><rect x="370.2" y="502.6" width="81.8" height="1" opacity="0.02"/><rect x="370.2" y="503.6" width="81.8" height="1" opacity="0.02"/><rect x="370.2" y="504.6" width="81.8" height="1" opacity="0.02"/><rect x="370.2" y="505.6" width="81.8" height="1" opacity="0.02"/><rect x="370.2" y="506.6" width="81.8" height="1" opacity="0.02"/><rect x="370.2" y="507.6" width="81.8" height="1" opacity="0.02"/><rect x="370.2" y="508.6" width="81.8" height="1" opacity="0.02"/><rect x="370.2" y="509.6" width="81.8" height="1" opacity="0.02"/><rect x="370.2" y="510.6" width="81.8" height="1" opacity="0.02"/><rect x="370.2" y="511.6" width="81.8" height="1" opacity="0.02"/><rect x="370.2" y="512.6" width="81.8" height="1" opacity="0.01"/><rect x="370.2" y="513.6" width="81.8" height="1" opacity="0.02"/><rect x="370.2" y="514.6" width="81.8" height="1" opacity="0.02"/><rect x="370.2" y="515.6" width="81.8" height="1" opacity="0.02"/><rect x="370.2" y="516.6" width="81.8" height="1" opacity="0.02"/><rect x="370.2" y="517.6" width="81.8" height="1" opacity="0.02"/><rect x="370.2" y="518.6" width="81.8" height="1" opacity="0.02"/><rect x="370.2" y="519.6" width="81.8" height="1" opacity="0.02"/><rect x="370.2" y="520.6" width="81.8" height="1" opacity="0.02"/><rect x="370.2" y="521.6" width="81.8" height="1" opacity="0.02"/><rect x="370.2" y="522.6" width="81.8" height="1" opacity="0.02"/><rect x="370.2" y="523.6" width="81.8" height="1" opacity="0.02"/><rect x="370.2" y="524.6" width="81.8" height="1" opacity="0.02"/><rect x="370.2" y="525.6" width="81.8" height="1" opacity="0.02"/><rect x="370.2" y="526.6" width="81.8" height="1" opacity="0.01"/><rect x="370.2" y="527.6" width="81.8" height="1" opacity="0.02"/><rect x="370.2" y="528.6" width="81.8" height="1" opacity="0.02"/><rect x="370.2" y="529.6" width="81.8" height="1" opacity="0.02"/><rect x="370.2" y="530.6" width="81.8" height="1" opacity="0.02"/><rect x="370.2" y="531.6" width="81.8" height="1" opacity="0.02"/><rect x="370.2" y="532.6" width="81.8" height="1" opacity="0.02"/><rect x="370.2" y="533.6" width="81.8" height="1" opacity="0.02"/><rect x="370.2" y="534.6" width="81.8" height="1" opacity="0.02"/><rect x="370.2" y="535.6" width="81.8" height="1" opacity="0.01"/><rect x="370.2" y="536.6" width="81.8" height="1" opacity="0.02"/><rect x="370.2" y="537.6" width="81.8" height="1" opacity="0.02"/><rect x="370.2" y="538.6" width="81.8" height="1" opacity="0.02"/><rect x="370.2" y="539.6" width="81.8" height="1" opacity="0.02"/><rect x="370.2" y="540.6" width="81.8" height="1" opacity="0.02"/><rect x="370.2" y="541.6" width="81.8" height="1" opacity="0.02"/><rect x="370.2" y="542.6" width="81.8" height="1" opacity="0.01"/><rect x="370.2" y="543.6" width="81.8" height="1" opacity="0.01"/><rect x="370.2" y="544.6" width="81.8" height="1" opacity="0.02"/><rect x="370.2" y="545.6" width="81.8" height="1" opacity="0.02"/><rect x="370.2" y="546.6" width="81.8" height="1" opacity="0.02"/><rect x="370.2" y="547.6" width="81.8" height="1" opacity="0.01"/><rect x="370.2" y="548.6" width="81.8" height="1" opacity="0.02"/><rect x="370.2" y="549.6" width="81.8" height="1" opacity="0.02"/><rect x="370.2" y="550.6" width="81.8" height="1" opacity="0.02"/><rect x="370.2" y="551.6" width="81.8" height="1" opacity="0.02"/><rect x="370.2" y="552.6" width="81.8" height="1" opacity="0.02"/><rect x="370.2" y="553.6" width="81.8" height="1" opacity="0.02"/><rect x="370.2" y="554.6" width="81.8" height="1" opacity="0.01"/><rect x="370.2" y="555.6" width="81.8" height="1" opacity="0.02"/><rect x="370.2" y="557.6" width="81.8" height="1" opacity="0.01"/><rect x="370.2" y="558.6" width="81.8" height="1" opacity="0.01"/><rect x="370.2" y="559.6" width="81.8" height="1" opacity="0.01"/><rect x="370.2" y="560.6" width="81.8" height="1" opacity="0.01"/><rect x="370.2" y="561.6" width="81.8" height="1" opacity="0.02"/><rect x="370.2" y="562.6" width="81.8" height="1" opacity="0.02"/><rect x="370.2" y="563.6" width="81.8" height="1" opacity="0.02"/></g><g fill="url(#hh)"><rect x="360.87" y="412.6" width="100.65" height="1" opacity="0.61"/><rect x="362.1" y="413.6" width="98.2" height="1" opacity="0.31"/><rect x="366.25" y="414.6" width="89.89" height="1" opacity="0.61"/><rect x="371.36" y="415.6" width="79.67" height="1" opacity="0.43"/><rect x="370.43" y="416.6" width="81.53" height="1" opacity="0.29"/><rect x="374.14" y="417.6" width="74.12" height="1" opacity="0.39"/><rect x="371.65" y="418.6" width="79.1" height="1" opacity="0.39"/><rect x="378.6" y="419.6" width="65.19" height="1" opacity="0.31"/><rect x="374.76" y="420.6" width="72.88" height="1" opacity="0.42"/><rect x="375.31" y="421.6" width="71.78" height="1" opacity="0.39"/><rect x="375.67" y="422.6" width="71.05" height="1" opacity="0.37"/><rect x="381.98" y="423.6" width="58.44" height="1" opacity="0.29"/><rect x="382.97" y="424.6" width="56.46" height="1" opacity="0.08"/><rect x="385.81" y="425.6" width="50.79" height="1" opacity="0.43"/><rect x="385.03" y="426.6" width="52.34" height="1" opacity="0.08"/><rect x="384.38" y="427.6" width="53.65" height="1" opacity="0.37"/><rect x="383.76" y="428.6" width="54.88" height="1" opacity="0.28"/><rect x="384.84" y="429.6" width="52.71" height="1" opacity="0.24"/><rect x="382.19" y="430.6" width="58.02" height="1" opacity="0.30"/><rect x="385.64" y="431.6" width="51.12" height="1" opacity="0.30"/><rect x="383.9" y="432.6" width="54.6" height="1" opacity="0.21"/><rect x="386.13" y="433.6" width="50.14" height="1" opacity="0.24"/><rect x="388.51" y="434.6" width="45.39" height="1" opacity="0.30"/><rect x="387.78" y="435.6" width="46.84" height="1" opacity="0.18"/><rect x="390.85" y="436.6" width="40.69" height="1" opacity="0.13"/><rect x="385.11" y="437.6" width="52.19" height="1" opacity="0.14"/><rect x="387.39" y="438.6" width="47.61" height="1" opacity="0.19"/><rect x="387.49" y="439.6" width="47.42" height="1" opacity="0.25"/><rect x="390.06" y="440.6" width="42.27" height="1" opacity="0.19"/><rect x="388.73" y="441.6" width="44.95" height="1" opacity="0.21"/><rect x="389.19" y="442.6" width="44.01" height="1" opacity="0.18"/><rect x="388.29" y="443.6" width="45.83" height="1" opacity="0.28"/><rect x="388.69" y="444.6" width="45.02" height="1" opacity="0.16"/><rect x="389.19" y="445.6" width="44.02" height="1" opacity="0.20"/><rect x="389.32" y="446.6" width="43.75" height="1" opacity="0.30"/><rect x="390.7" y="447.6" width="41" height="1" opacity="0.19"/><rect x="392.05" y="448.6" width="38.31" height="1" opacity="0.18"/><rect x="391.75" y="449.6" width="38.9" height="1" opacity="0.28"/><rect x="390.57" y="450.6" width="41.25" height="1" opacity="0.16"/><rect x="388.23" y="451.6" width="45.93" height="1" opacity="0.11"/><rect x="390.19" y="452.6" width="42.02" height="1" opacity="0.24"/><rect x="390.89" y="453.6" width="40.61" height="1" opacity="0.17"/><rect x="392.22" y="454.6" width="37.95" height="1" opacity="0.16"/><rect x="391.07" y="455.6" width="40.25" height="1" opacity="0.05"/><rect x="393.27" y="456.6" width="35.86" height="1" opacity="0.18"/><rect x="393.6" y="457.6" width="35.2" height="1" opacity="0.08"/><rect x="393.34" y="458.6" width="35.72" height="1" opacity="0.13"/><rect x="392.07" y="459.6" width="38.27" height="1" opacity="0.24"/><rect x="393.3" y="460.6" width="35.8" height="1" opacity="0.07"/><rect x="393.85" y="461.6" width="34.7" height="1" opacity="0.12"/><rect x="392.8" y="462.6" width="36.8" height="1" opacity="0.25"/><rect x="393.49" y="463.6" width="35.41" height="1" opacity="0.27"/><rect x="392.04" y="464.6" width="38.32" height="1" opacity="0.20"/><rect x="395.45" y="465.6" width="31.49" height="1" opacity="0.17"/><rect x="396.26" y="466.6" width="29.88" height="1" opacity="0.22"/><rect x="394.33" y="467.6" width="33.74" height="1" opacity="0.23"/><rect x="394.27" y="468.6" width="33.85" height="1" opacity="0.07"/><rect x="393.98" y="469.6" width="34.43" height="1" opacity="0.21"/><rect x="392.86" y="470.6" width="36.67" height="1" opacity="0.12"/><rect x="396.34" y="471.6" width="29.71" height="1" opacity="0.17"/><rect x="396.68" y="472.6" width="29.04" height="1" opacity="0.10"/><rect x="396.9" y="473.6" width="28.6" height="1" opacity="0.28"/><rect x="396.51" y="474.6" width="29.38" height="1" opacity="0.11"/><rect x="396.48" y="475.6" width="29.45" height="1" opacity="0.16"/><rect x="394.58" y="476.6" width="33.23" height="1" opacity="0.20"/><rect x="395.38" y="477.6" width="31.64" height="1" opacity="0.16"/><rect x="396.31" y="478.6" width="29.78" height="1" opacity="0.13"/><rect x="398.41" y="479.6" width="25.58" height="1" opacity="0.24"/><rect x="397.37" y="480.6" width="27.65" height="1" opacity="0.20"/><rect x="397.39" y="481.6" width="27.62" height="1" opacity="0.15"/><rect x="397.39" y="482.6" width="27.62" height="1" opacity="0.09"/><rect x="397.48" y="483.6" width="27.43" height="1" opacity="0.16"/><rect x="396.68" y="484.6" width="29.03" height="1" opacity="0.17"/><rect x="396.67" y="485.6" width="29.05" height="1" opacity="0.16"/><rect x="397.95" y="486.6" width="26.5" height="1" opacity="0.06"/><rect x="398.68" y="487.6" width="25.04" height="1" opacity="0.21"/><rect x="398.14" y="488.6" width="26.13" height="1" opacity="0.18"/><rect x="398.61" y="489.6" width="25.17" height="1" opacity="0.11"/><rect x="396.47" y="490.6" width="29.45" height="1" opacity="0.16"/><rect x="397.18" y="491.6" width="28.04" height="1" opacity="0.16"/><rect x="399.1" y="492.6" width="24.21" height="1" opacity="0.05"/><rect x="398.85" y="493.6" width="24.69" height="1" opacity="0.08"/><rect x="401.22" y="494.6" width="19.96" height="1" opacity="0.19"/><rect x="398.53" y="495.6" width="25.34" height="1" opacity="0.17"/><rect x="399.31" y="496.6" width="23.79" height="1" opacity="0.14"/><rect x="399.1" y="497.6" width="24.21" height="1" opacity="0.14"/><rect x="399.56" y="498.6" width="23.28" height="1" opacity="0.17"/><rect x="402" y="499.6" width="18.4" height="1" opacity="0.17"/><rect x="400.47" y="500.6" width="21.46" height="1" opacity="0.17"/><rect x="399" y="501.6" width="24.41" height="1" opacity="0.10"/><rect x="399.49" y="502.6" width="23.43" height="1" opacity="0.17"/><rect x="400.94" y="503.6" width="20.51" height="1" opacity="0.11"/><rect x="400.39" y="504.6" width="21.63" height="1" opacity="0.04"/><rect x="401.01" y="505.6" width="20.39" height="1" opacity="0.14"/><rect x="401.14" y="506.6" width="20.12" height="1" opacity="0.07"/><rect x="401.23" y="507.6" width="19.94" height="1" opacity="0.19"/><rect x="399.97" y="508.6" width="22.47" height="1" opacity="0.12"/><rect x="401.83" y="509.6" width="18.75" height="1" opacity="0.13"/><rect x="401.3" y="510.6" width="19.79" height="1" opacity="0.10"/><rect x="401.71" y="511.6" width="18.97" height="1" opacity="0.15"/><rect x="400.87" y="512.6" width="20.66" height="1" opacity="0.03"/><rect x="400.98" y="513.6" width="20.44" height="1" opacity="0.13"/><rect x="401" y="514.6" width="20.4" height="1" opacity="0.12"/><rect x="401.67" y="515.6" width="19.06" height="1" opacity="0.19"/><rect x="404.29" y="516.6" width="13.83" height="1" opacity="0.18"/><rect x="402.13" y="517.6" width="18.14" height="1" opacity="0.06"/><rect x="404.28" y="518.6" width="13.84" height="1" opacity="0.13"/><rect x="403.25" y="519.6" width="15.9" height="1" opacity="0.16"/><rect x="402.52" y="520.6" width="17.35" height="1" opacity="0.12"/><rect x="402.14" y="521.6" width="18.12" height="1" opacity="0.13"/><rect x="402.45" y="522.6" width="17.5" height="1" opacity="0.15"/><rect x="402.87" y="523.6" width="16.66" height="1" opacity="0.15"/><rect x="402.71" y="524.6" width="16.97" height="1" opacity="0.07"/><rect x="403.58" y="525.6" width="15.25" height="1" opacity="0.11"/><rect x="403.83" y="526.6" width="14.75" height="1" opacity="0.06"/><rect x="404.12" y="527.6" width="14.16" height="1" opacity="0.13"/><rect x="403.86" y="528.6" width="14.67" height="1" opacity="0.17"/><rect x="404.51" y="529.6" width="13.39" height="1" opacity="0.10"/><rect x="404.67" y="530.6" width="13.07" height="1" opacity="0.10"/><rect x="404.86" y="531.6" width="12.67" height="1" opacity="0.05"/><rect x="404.55" y="532.6" width="13.29" height="1" opacity="0.14"/><rect x="404.36" y="533.6" width="13.68" height="1" opacity="0.07"/><rect x="405.2" y="534.6" width="11.99" height="1" opacity="0.16"/><rect x="405.35" y="535.6" width="11.7" height="1" opacity="0.11"/><rect x="405.56" y="536.6" width="11.28" height="1" opacity="0.13"/><rect x="405.25" y="537.6" width="11.9" height="1" opacity="0.17"/><rect x="405.65" y="538.6" width="11.09" height="1" opacity="0.11"/><rect x="406.56" y="539.6" width="9.29" height="1" opacity="0.08"/><rect x="406.52" y="540.6" width="9.35" height="1" opacity="0.08"/><rect x="406.93" y="541.6" width="8.53" height="1" opacity="0.13"/><rect x="407.01" y="542.6" width="8.38" height="1" opacity="0.10"/><rect x="407.26" y="543.6" width="7.89" height="1" opacity="0.10"/><rect x="406.45" y="544.6" width="9.51" height="1" opacity="0.07"/><rect x="407.07" y="545.6" width="8.25" height="1" opacity="0.08"/><rect x="407.29" y="546.6" width="7.81" height="1" opacity="0.09"/><rect x="407.75" y="547.6" width="6.89" height="1" opacity="0.08"/><rect x="407.92" y="548.6" width="6.56" height="1" opacity="0.06"/><rect x="408.27" y="549.6" width="5.86" height="1" opacity="0.10"/><rect x="408.32" y="550.6" width="5.76" height="1" opacity="0.09"/><rect x="408.2" y="551.6" width="6" height="1" opacity="0.05"/><rect x="408.29" y="552.6" width="5.82" height="1" opacity="0.06"/><rect x="408.58" y="553.6" width="5.24" height="1" opacity="0.10"/><rect x="409.03" y="554.6" width="4.35" height="1" opacity="0.05"/><rect x="409.24" y="555.6" width="3.91" height="1" opacity="0.12"/><rect x="409.33" y="556.6" width="3.74" height="1" opacity="0.04"/><rect x="409.35" y="557.6" width="3.7" height="1" opacity="0.06"/><rect x="409.66" y="558.6" width="3.09" height="1" opacity="0.05"/><rect x="410.08" y="559.6" width="2.23" height="1" opacity="0.05"/><rect x="410.13" y="560.6" width="2.14" height="1" opacity="0.03"/><rect x="410.29" y="561.6" width="1.82" height="1" opacity="0.04"/><rect x="410.14" y="562.6" width="2.13" height="1" opacity="0.07"/><rect x="410.16" y="563.6" width="2.08" height="1" opacity="0.05"/></g><g fill="url(#hc)"><rect x="373.56" y="412.6" width="75.29" height="1" opacity="0.83"/><rect x="373.51" y="413.6" width="75.38" height="1" opacity="0.89"/><rect x="377.58" y="414.6" width="67.24" height="1" opacity="0.75"/><rect x="379.9" y="415.6" width="62.6" height="1" opacity="0.65"/><rect x="384.33" y="416.6" width="53.74" height="1" opacity="0.80"/><rect x="387.37" y="417.6" width="47.67" height="1" opacity="0.72"/><rect x="386.3" y="418.6" width="49.81" height="1" opacity="0.75"/><rect x="388.71" y="419.6" width="44.97" height="1" opacity="0.61"/><rect x="390.14" y="420.6" width="42.13" height="1" opacity="0.69"/><rect x="389.93" y="421.6" width="42.54" height="1" opacity="0.75"/><rect x="391.33" y="422.6" width="39.73" height="1" opacity="0.90"/><rect x="391.44" y="423.6" width="39.52" height="1" opacity="0.68"/><rect x="393.42" y="424.6" width="35.56" height="1" opacity="0.70"/><rect x="393.85" y="425.6" width="34.7" height="1" opacity="0.86"/><rect x="393.14" y="426.6" width="36.12" height="1" opacity="0.66"/><rect x="394.9" y="427.6" width="32.61" height="1" opacity="0.59"/><rect x="395" y="428.6" width="32.4" height="1" opacity="0.81"/><rect x="394.4" y="429.6" width="33.59" height="1" opacity="0.68"/><rect x="395.37" y="430.6" width="31.65" height="1" opacity="0.50"/><rect x="395.1" y="431.6" width="32.19" height="1" opacity="0.66"/><rect x="394.86" y="432.6" width="32.68" height="1" opacity="0.66"/><rect x="396.83" y="433.6" width="28.74" height="1" opacity="0.69"/><rect x="397.24" y="434.6" width="27.92" height="1" opacity="0.80"/><rect x="396.59" y="435.6" width="29.23" height="1" opacity="0.71"/><rect x="396.69" y="436.6" width="29.01" height="1" opacity="0.64"/><rect x="396.72" y="437.6" width="28.96" height="1" opacity="0.69"/><rect x="395.81" y="438.6" width="30.79" height="1" opacity="0.68"/><rect x="397.11" y="439.6" width="28.19" height="1" opacity="0.63"/><rect x="397.86" y="440.6" width="26.68" height="1" opacity="0.64"/><rect x="396.65" y="441.6" width="29.09" height="1" opacity="0.68"/><rect x="397.06" y="442.6" width="28.28" height="1" opacity="0.64"/><rect x="398.27" y="443.6" width="25.86" height="1" opacity="0.49"/><rect x="397.48" y="444.6" width="27.44" height="1" opacity="0.86"/><rect x="398.45" y="445.6" width="25.5" height="1" opacity="0.80"/><rect x="397.77" y="446.6" width="26.86" height="1" opacity="0.60"/><rect x="397.99" y="447.6" width="26.42" height="1" opacity="0.58"/><rect x="398.94" y="448.6" width="24.53" height="1" opacity="0.77"/><rect x="398.74" y="449.6" width="24.91" height="1" opacity="0.55"/><rect x="397.98" y="450.6" width="26.43" height="1" opacity="0.56"/><rect x="399.27" y="451.6" width="23.85" height="1" opacity="0.63"/><rect x="399.42" y="452.6" width="23.56" height="1" opacity="0.58"/><rect x="400.6" y="453.6" width="21.2" height="1" opacity="0.82"/><rect x="400.26" y="454.6" width="21.88" height="1" opacity="0.57"/><rect x="401.42" y="455.6" width="19.56" height="1" opacity="0.66"/><rect x="399.04" y="456.6" width="24.33" height="1" opacity="0.78"/><rect x="398.22" y="457.6" width="25.97" height="1" opacity="0.79"/><rect x="399.93" y="458.6" width="22.54" height="1" opacity="0.65"/><rect x="399.42" y="459.6" width="23.57" height="1" opacity="0.65"/><rect x="400.33" y="460.6" width="21.74" height="1" opacity="0.56"/><rect x="400.51" y="461.6" width="21.38" height="1" opacity="0.82"/><rect x="400.73" y="462.6" width="20.93" height="1" opacity="0.68"/><rect x="402.29" y="463.6" width="17.81" height="1" opacity="0.76"/><rect x="400.69" y="464.6" width="21.02" height="1" opacity="0.76"/><rect x="400.89" y="465.6" width="20.62" height="1" opacity="0.56"/><rect x="401.97" y="466.6" width="18.46" height="1" opacity="0.67"/><rect x="401.29" y="467.6" width="19.81" height="1" opacity="0.54"/><rect x="401.44" y="468.6" width="19.52" height="1" opacity="0.56"/><rect x="401.11" y="469.6" width="20.19" height="1" opacity="0.58"/><rect x="402.34" y="470.6" width="17.71" height="1" opacity="0.60"/><rect x="402.08" y="471.6" width="18.24" height="1" opacity="0.73"/><rect x="402.15" y="472.6" width="18.11" height="1" opacity="0.49"/><rect x="402.04" y="473.6" width="18.32" height="1" opacity="0.58"/><rect x="401.98" y="474.6" width="18.43" height="1" opacity="0.61"/><rect x="402.8" y="475.6" width="16.79" height="1" opacity="0.59"/><rect x="402.43" y="476.6" width="17.55" height="1" opacity="0.49"/><rect x="402.79" y="477.6" width="16.83" height="1" opacity="0.60"/><rect x="403.43" y="478.6" width="15.54" height="1" opacity="0.49"/><rect x="402.96" y="479.6" width="16.47" height="1" opacity="0.57"/><rect x="402.59" y="480.6" width="17.22" height="1" opacity="0.46"/><rect x="402.82" y="481.6" width="16.77" height="1" opacity="0.62"/><rect x="402.32" y="482.6" width="17.75" height="1" opacity="0.53"/><rect x="403.64" y="483.6" width="15.13" height="1" opacity="0.44"/><rect x="403.05" y="484.6" width="16.31" height="1" opacity="0.66"/><rect x="403.74" y="485.6" width="14.91" height="1" opacity="0.59"/><rect x="403.13" y="486.6" width="16.13" height="1" opacity="0.63"/><rect x="403.82" y="487.6" width="14.77" height="1" opacity="0.61"/><rect x="403.72" y="488.6" width="14.97" height="1" opacity="0.48"/><rect x="403.64" y="489.6" width="15.12" height="1" opacity="0.58"/><rect x="404.25" y="490.6" width="13.91" height="1" opacity="0.59"/><rect x="403.01" y="491.6" width="16.38" height="1" opacity="0.43"/><rect x="403.65" y="492.6" width="15.11" height="1" opacity="0.62"/><rect x="404" y="493.6" width="14.4" height="1" opacity="0.57"/><rect x="404.2" y="494.6" width="13.99" height="1" opacity="0.64"/><rect x="404.56" y="495.6" width="13.28" height="1" opacity="0.53"/><rect x="405.05" y="496.6" width="12.3" height="1" opacity="0.56"/><rect x="404.16" y="497.6" width="14.08" height="1" opacity="0.41"/><rect x="404.74" y="498.6" width="12.92" height="1" opacity="0.56"/><rect x="404.66" y="499.6" width="13.08" height="1" opacity="0.43"/><rect x="405.54" y="500.6" width="11.33" height="1" opacity="0.54"/><rect x="403.84" y="501.6" width="14.72" height="1" opacity="0.48"/><rect x="404.51" y="502.6" width="13.38" height="1" opacity="0.54"/><rect x="404.78" y="503.6" width="12.83" height="1" opacity="0.52"/><rect x="404.78" y="504.6" width="12.84" height="1" opacity="0.44"/><rect x="403.94" y="505.6" width="14.51" height="1" opacity="0.70"/><rect x="404.85" y="506.6" width="12.71" height="1" opacity="0.63"/><rect x="405.34" y="507.6" width="11.73" height="1" opacity="0.48"/><rect x="404.69" y="508.6" width="13.03" height="1" opacity="0.41"/><rect x="405.64" y="509.6" width="11.11" height="1" opacity="0.51"/><rect x="405.95" y="510.6" width="10.5" height="1" opacity="0.61"/><rect x="405.04" y="511.6" width="12.31" height="1" opacity="0.50"/><rect x="405.14" y="512.6" width="12.12" height="1" opacity="0.42"/><rect x="405.77" y="513.6" width="10.86" height="1" opacity="0.54"/><rect x="405.19" y="514.6" width="12.02" height="1" opacity="0.49"/><rect x="405.59" y="515.6" width="11.21" height="1" opacity="0.44"/><rect x="405.18" y="516.6" width="12.03" height="1" opacity="0.37"/><rect x="406" y="517.6" width="10.4" height="1" opacity="0.43"/><rect x="406.28" y="518.6" width="9.83" height="1" opacity="0.38"/><rect x="406.19" y="519.6" width="10.03" height="1" opacity="0.53"/><rect x="405.36" y="520.6" width="11.69" height="1" opacity="0.48"/><rect x="406.5" y="521.6" width="9.4" height="1" opacity="0.42"/><rect x="406.11" y="522.6" width="10.18" height="1" opacity="0.44"/><rect x="406.25" y="523.6" width="9.9" height="1" opacity="0.49"/><rect x="406.79" y="524.6" width="8.81" height="1" opacity="0.41"/><rect x="406.28" y="525.6" width="9.84" height="1" opacity="0.49"/><rect x="406.39" y="526.6" width="9.62" height="1" opacity="0.44"/><rect x="406.63" y="527.6" width="9.13" height="1" opacity="0.39"/><rect x="406.7" y="528.6" width="9" height="1" opacity="0.41"/><rect x="407.03" y="529.6" width="8.33" height="1" opacity="0.49"/><rect x="406.68" y="530.6" width="9.04" height="1" opacity="0.39"/><rect x="406.96" y="531.6" width="8.49" height="1" opacity="0.48"/><rect x="407.17" y="532.6" width="8.06" height="1" opacity="0.41"/><rect x="407.25" y="533.6" width="7.9" height="1" opacity="0.30"/><rect x="407.81" y="534.6" width="6.78" height="1" opacity="0.42"/><rect x="407.56" y="535.6" width="7.28" height="1" opacity="0.46"/><rect x="407.85" y="536.6" width="6.7" height="1" opacity="0.43"/><rect x="407.67" y="537.6" width="7.07" height="1" opacity="0.47"/><rect x="408.16" y="538.6" width="6.08" height="1" opacity="0.35"/><rect x="408.08" y="539.6" width="6.23" height="1" opacity="0.37"/><rect x="408.44" y="540.6" width="5.52" height="1" opacity="0.32"/><rect x="408.61" y="541.6" width="5.18" height="1" opacity="0.46"/><rect x="408.53" y="542.6" width="5.33" height="1" opacity="0.34"/><rect x="408.75" y="543.6" width="4.91" height="1" opacity="0.33"/><rect x="408.67" y="544.6" width="5.07" height="1" opacity="0.31"/><rect x="408.91" y="545.6" width="4.57" height="1" opacity="0.42"/><rect x="408.92" y="546.6" width="4.56" height="1" opacity="0.32"/><rect x="409.22" y="547.6" width="3.96" height="1" opacity="0.31"/><rect x="409.38" y="548.6" width="3.64" height="1" opacity="0.31"/><rect x="409.5" y="549.6" width="3.4" height="1" opacity="0.26"/><rect x="409.6" y="550.6" width="3.21" height="1" opacity="0.24"/><rect x="409.67" y="551.6" width="3.06" height="1" opacity="0.38"/><rect x="409.87" y="552.6" width="2.66" height="1" opacity="0.21"/><rect x="409.87" y="553.6" width="2.65" height="1" opacity="0.26"/><rect x="409.94" y="554.6" width="2.52" height="1" opacity="0.27"/><rect x="410.15" y="555.6" width="2.1" height="1" opacity="0.23"/><rect x="410.42" y="556.6" width="1.57" height="1" opacity="0.24"/><rect x="410.43" y="557.6" width="1.53" height="1" opacity="0.21"/><rect x="410.65" y="558.6" width="1.1" height="1" opacity="0.21"/><rect x="410.73" y="559.6" width="0.93" height="1" opacity="0.22"/><rect x="410.85" y="560.6" width="0.7" height="1" opacity="0.30"/></g></g>
<rect x="369.5" y="411.9" width="83.2" height="152.6" fill="none" stroke="#231f20" stroke-width="1.5"/>
<text transform="translate(345.4,389.72) rotate(-90)" font-size="12.8" font-weight="bold" fill="#231f20" textLength="158.27" lengthAdjust="spacingAndGlyphs" stroke="#231f20" stroke-width="0.3">Hyper-DMRs in NEPC vs PRAD</text>
<text transform="translate(362,388.19) rotate(-90)" font-size="12.8" font-weight="bold" fill="#231f20" textLength="160.71" lengthAdjust="spacingAndGlyphs" stroke="#231f20" stroke-width="0.3">patient tumors (Zhao et al. 2020)</text>
<text transform="translate(345.5,561.88) rotate(-90)" font-size="12.8" font-weight="bold" fill="#231f20" textLength="146.41" lengthAdjust="spacingAndGlyphs" stroke="#231f20" stroke-width="0.3">Hypo-DMRs in NEPC vs PRAD</text>
<text transform="translate(362,564.46) rotate(-90)" font-size="12.8" font-weight="bold" fill="#231f20" textLength="153.76" lengthAdjust="spacingAndGlyphs" stroke="#231f20" stroke-width="0.3">patient tumors (Zhao et al. 2020)</text>
<line x1="370" y1="564" x2="370" y2="567" stroke="#231f20" stroke-width="1.2"/>
<line x1="411" y1="564" x2="411" y2="567" stroke="#231f20" stroke-width="1.2"/>
<line x1="452" y1="564" x2="452" y2="567" stroke="#231f20" stroke-width="1.2"/>
<text x="367.03" y="572.2" font-size="7" font-weight="bold" fill="#231f20" textLength="21.15" lengthAdjust="spacingAndGlyphs" stroke="#231f20" stroke-width="0.3">-2.0Kb</text>
<text x="400.64" y="572.2" font-size="7" font-weight="bold" fill="#231f20" textLength="20.06" lengthAdjust="spacingAndGlyphs" stroke="#231f20" stroke-width="0.3">center</text>
<text x="434.96" y="572.2" font-size="7" font-weight="bold" fill="#231f20" textLength="18.72" lengthAdjust="spacingAndGlyphs" stroke="#231f20" stroke-width="0.3">2.0Kb</text>
<text x="480.42" y="13.7" font-size="17" font-weight="bold" fill="#231f20" textLength="13.78" lengthAdjust="spacingAndGlyphs" stroke="#231f20" stroke-width="0.7">D</text>
<text x="549.68" y="12.2" font-size="16" font-weight="bold" fill="#231f20" textLength="102" lengthAdjust="spacingAndGlyphs" stroke="#231f20" stroke-width="0.3">LuCaP-PDXs</text>
<text x="553.88" y="23.1" font-size="13.8" font-weight="bold" fill="#231f20" textLength="70.62" lengthAdjust="spacingAndGlyphs" stroke="#231f20" stroke-width="0.3">H3K27me3</text>
<text x="532" y="31.7" font-size="9.4" font-weight="bold" fill="#231f20" textLength="29.74" lengthAdjust="spacingAndGlyphs" stroke="#231f20" stroke-width="0.3">PRAD</text>
<text x="622.76" y="31.4" font-size="9.4" font-weight="bold" fill="#231f20" textLength="30.54" lengthAdjust="spacingAndGlyphs" stroke="#231f20" stroke-width="0.3">NEPC</text>
<polyline points="511,60.56 512,61.41 513,60.98 514,61 515,59.95 516,60.4 517,60.15 518,59.88 519,59.11 520,59.83 521,60.24 522,59.86 523,59.27 524,59.39 525,59.59 526,57.86 527,58.9 528,59.05 529,58.97 530,59.28 531,58.88 532,58.36 533,58.21 534,58.33 535,57.68 536,57.85 537,58.22 538,58.64 539,57.64 540,57.64 541,57.69 542,58.16 543,57.49 544,58.79 545,58.33 546,59.31 547,59.94 548,61.03 549,61.87 550,61.45 551,62.44 552,62.35 553,60.9 554,59.51 555,59.98 556,59.53 557,59.32 558,58.68 559,59.15 560,58.37 561,58.76 562,57.65 563,57.68 564,58.25 565,57.93 566,58.64 567,58.54 568,58.1 569,58.64 570,58.54 571,59.2 572,58.59 573,58.77 574,59.6 575,60.16 576,60.14 577,59.36 578,59.52 579,60.2 580,59.55 581,59.25 582,59.84 583,60.08 584,59.59 585,59.32 586,59.5 587,60.54 588,59.99 589,60.36 590,60.61 591,60.88" fill="none" stroke="#c8333b" stroke-width="2.6" stroke-linejoin="round" stroke-linecap="round"/>
<polyline points="511,70.45 512,70.78 513,70.11 514,70.3 515,69.96 516,70.89 517,70.32 518,69.96 519,70.09 520,70.1 521,70.72 522,69.9 523,70.36 524,70.86 525,72.38 526,71.87 527,71.6 528,72.18 529,72.99 530,72.17 531,72.32 532,73.23 533,73.12 534,73.52 535,73.41 536,74.93 537,75.26 538,75.17 539,75.65 540,74.86 541,76.48 542,76.53 543,77.24 544,77.78 545,77.75 546,77.38 547,78.54 548,78.28 549,78.5 550,77.63 551,77 552,76.38 553,78.5 554,78.6 555,79.15 556,79.18 557,77.94 558,76.75 559,76.8 560,76.29 561,76.25 562,76.14 563,74.93 564,75.74 565,74.66 566,75.23 567,74.8 568,74.47 569,74.33 570,73.87 571,73.6 572,72.87 573,73.37 574,73.97 575,73.79 576,73.25 577,72.73 578,71.86 579,72.57 580,71.65 581,71.4 582,71.06 583,70.99 584,70.51 585,70.42 586,69.73 587,69.81 588,70.76 589,69.46 590,69.14 591,69.24" fill="none" stroke="#3b7fc9" stroke-width="2.6" stroke-linejoin="round" stroke-linecap="round"/>
<path d="M510.3,34 H591.8 V102.3 H510.3 Z" fill="none" stroke="#231f20" stroke-width="1.8"/>
<line x1="507.3" y1="42.7" x2="510.3" y2="42.7" stroke="#231f20" stroke-width="1.2"/>
<text x="502.14" y="45.6" font-size="8.4" font-weight="bold" fill="#231f20" textLength="3.92" lengthAdjust="spacingAndGlyphs" stroke="#231f20" stroke-width="0.3">3</text>
<line x1="507.3" y1="69.8" x2="510.3" y2="69.8" stroke="#231f20" stroke-width="1.2"/>
<text x="502.05" y="72.7" font-size="8.4" font-weight="bold" fill="#231f20" textLength="4.04" lengthAdjust="spacingAndGlyphs" stroke="#231f20" stroke-width="0.3">2</text>
<line x1="507.3" y1="97.7" x2="510.3" y2="97.7" stroke="#231f20" stroke-width="1.2"/>
<text x="501.83" y="100.6" font-size="8.4" font-weight="bold" fill="#231f20" textLength="4.18" lengthAdjust="spacingAndGlyphs" stroke="#231f20" stroke-width="0.3">1</text>
<line x1="510.3" y1="102.3" x2="510.3" y2="105" stroke="#231f20" stroke-width="1.2"/>
<line x1="551" y1="102.3" x2="551" y2="105" stroke="#231f20" stroke-width="1.2"/>
<line x1="591.8" y1="102.3" x2="591.8" y2="105" stroke="#231f20" stroke-width="1.2"/>
<polyline points="600,36.75 601,36.01 602,36.63 603,37.36 604,37.2 605,37.29 606,38.17 607,37.22 608,37.76 609,37.63 610,38.8 611,37.24 612,38.05 613,38.27 614,38.99 615,39.09 616,39.61 617,38.25 618,39.53 619,39.14 620,39.07 621,39.8 622,39.19 623,38.74 624,39.72 625,39.28 626,39.83 627,40.46 628,40.56 629,41.41 630,40.73 631,40.28 632,40.89 633,41.02 634,41.09 635,42.13 636,41.81 637,41.36 638,42.78 639,42.16 640,42.18 641,41.83 642,41.88 643,41.36 644,41.74 645,41.12 646,40.88 647,40.67 648,39.52 649,39.95 650,39.69 651,39.71 652,38.71 653,39.99 654,39.01 655,38.14 656,37.68 657,38.18 658,38.06 659,37.53 660,37.72 661,37.17 662,37.74 663,37.07 664,37.38 665,37.86 666,38.63 667,36.8 668,37.05 669,36.83 670,37.61 671,36.61 672,36.91 673,37.11 674,36.6 675,36.58 676,36.79 677,35.95 678,36.25 679,36.73 680,36.98" fill="none" stroke="#3b7fc9" stroke-width="2.6" stroke-linejoin="round" stroke-linecap="round"/>
<polyline points="600,98.93 601,98.3 602,98.83 603,99.34 604,99.25 605,99 606,98.69 607,99.3 608,98.82 609,98.59 610,98.75 611,99.65 612,99.17 613,99.55 614,98.9 615,99.48 616,98.87 617,99.05 618,100.11 619,99.43 620,98.93 621,99.11 622,99.28 623,99.64 624,98.96 625,98.47 626,99.06 627,99.19 628,99.23 629,99.72 630,99.33 631,99.66 632,99.03 633,99.96 634,100.59 635,100.2 636,100.13 637,100.22 638,101.01 639,99.79 640,99.98 641,100.07 642,100.05 643,99.44 644,99.6 645,99.23 646,99.25 647,99.14 648,98.73 649,99.17 650,99.53 651,98.78 652,99.07 653,99.42 654,98.73 655,99.22 656,98.72 657,99.59 658,100.05 659,99.93 660,99.03 661,99.41 662,99.15 663,99.14 664,99.71 665,98.56 666,99.51 667,99.06 668,99.63 669,99.14 670,98.79 671,99.16 672,99.34 673,99.06 674,99.23 675,98.82 676,98.17 677,99.38 678,99.29 679,99.07 680,99.03" fill="none" stroke="#c8333b" stroke-width="2.6" stroke-linejoin="round" stroke-linecap="round"/>
<path d="M599.2,34 H681.2 V102 H599.2 Z" fill="none" stroke="#231f20" stroke-width="1.8"/>
<line x1="596.3" y1="41.3" x2="599.2" y2="41.3" stroke="#231f20" stroke-width="1.2"/>
<line x1="596.3" y1="69.2" x2="599.2" y2="69.2" stroke="#231f20" stroke-width="1.2"/>
<line x1="596.3" y1="97.1" x2="599.2" y2="97.1" stroke="#231f20" stroke-width="1.2"/>
<line x1="599.2" y1="102" x2="599.2" y2="104.8" stroke="#231f20" stroke-width="1.2"/>
<line x1="640" y1="102" x2="640" y2="104.8" stroke="#231f20" stroke-width="1.2"/>
<line x1="681.2" y1="102" x2="681.2" y2="104.8" stroke="#231f20" stroke-width="1.2"/>
<line x1="603" y1="62.5" x2="619.4" y2="62.5" stroke="#3b7fc9" stroke-width="3"/>
<line x1="603" y1="72.1" x2="619.4" y2="72.1" stroke="#c8333b" stroke-width="3"/>
<text x="622.09" y="66" font-size="9.8" font-weight="bold" fill="#231f20" textLength="52.09" lengthAdjust="spacingAndGlyphs" stroke="#231f20" stroke-width="0.3">Hypo-DMRs</text>
<text x="622.07" y="75.6" font-size="9.8" font-weight="bold" fill="#231f20" textLength="56.82" lengthAdjust="spacingAndGlyphs" stroke="#231f20" stroke-width="0.3">Hyper-DMRs</text>
<text x="507.24" y="111.2" font-size="7" font-weight="bold" fill="#231f20" textLength="18.84" lengthAdjust="spacingAndGlyphs" stroke="#231f20" stroke-width="0.3">-15Kb</text>
<text x="542.73" y="111.2" font-size="7" font-weight="bold" fill="#231f20" textLength="20.67" lengthAdjust="spacingAndGlyphs" stroke="#231f20" stroke-width="0.3">center</text>
<text x="577.57" y="111.2" font-size="7" font-weight="bold" fill="#231f20" textLength="16.71" lengthAdjust="spacingAndGlyphs" stroke="#231f20" stroke-width="0.3">15Kb</text>
<text x="597.44" y="111.2" font-size="7" font-weight="bold" fill="#231f20" textLength="18.43" lengthAdjust="spacingAndGlyphs" stroke="#231f20" stroke-width="0.3">-15Kb</text>
<text x="631.73" y="111.2" font-size="7" font-weight="bold" fill="#231f20" textLength="20.37" lengthAdjust="spacingAndGlyphs" stroke="#231f20" stroke-width="0.3">center</text>
<text x="666.61" y="111.2" font-size="7" font-weight="bold" fill="#231f20" textLength="15.14" lengthAdjust="spacingAndGlyphs" stroke="#231f20" stroke-width="0.3">15Kb</text>
<text x="568.08" y="124.8" font-size="13.6" font-weight="bold" fill="#231f20" textLength="48.38" lengthAdjust="spacingAndGlyphs" stroke="#231f20" stroke-width="0.3">MeCpG</text>
<polyline points="510,181.96 510.5,181.93 511,181.9 511.5,181.87 512,181.84 512.5,181.81 513,181.77 513.5,181.74 514,181.7 514.5,181.66 515,181.62 515.5,181.58 516,181.54 516.5,181.49 517,181.45 517.5,181.4 518,181.35 518.5,181.3 519,181.24 519.5,181.19 520,181.13 520.5,181.07 521,181.01 521.5,180.94 522,180.87 522.5,180.8 523,180.72 523.5,180.64 524,180.56 524.5,180.48 525,180.39 525.5,180.29 526,180.19 526.5,180.09 527,179.98 527.5,179.87 528,179.75 528.5,179.62 529,179.49 529.5,179.35 530,179.21 530.5,179.05 531,178.89 531.5,178.73 532,178.55 532.5,178.36 533,178.17 533.5,177.96 534,177.74 534.5,177.51 535,177.27 535.5,177.02 536,176.76 536.5,176.48 537,176.18 537.5,175.88 538,175.56 538.5,175.22 539,174.87 539.5,174.5 540,174.12 540.5,173.73 541,173.32 541.5,172.9 542,172.46 542.5,172.02 543,171.58 543.5,171.13 544,170.68 544.5,170.23 545,169.79 545.5,169.37 546,168.97 546.5,168.59 547,168.24 547.5,167.93 548,167.66 548.5,167.44 549,167.27 549.5,167.16 550,167.1 550.5,167.11 551,167.18 551.5,167.3 552,167.48 552.5,167.71 553,167.99 553.5,168.31 554,168.66 554.5,169.05 555,169.45 555.5,169.88 556,170.32 556.5,170.77 557,171.22 557.5,171.67 558,172.11 558.5,172.55 559,172.98 559.5,173.4 560,173.81 560.5,174.2 561,174.58 561.5,174.94 562,175.29 562.5,175.62 563,175.94 563.5,176.24 564,176.53 564.5,176.81 565,177.07 565.5,177.32 566,177.56 566.5,177.79 567,178 567.5,178.21 568,178.4 568.5,178.59 569,178.76 569.5,178.93 570,179.09 570.5,179.24 571,179.38 571.5,179.52 572,179.65 572.5,179.77 573,179.89 573.5,180 574,180.11 574.5,180.21 575,180.31 575.5,180.4 576,180.49 576.5,180.58 577,180.66 577.5,180.74 578,180.81 578.5,180.88 579,180.95 579.5,181.02 580,181.08 580.5,181.14 581,181.2 581.5,181.26 582,181.31 582.5,181.36 583,181.41 583.5,181.46 584,181.5 584.5,181.55 585,181.59 585.5,181.63 586,181.67 586.5,181.71 587,181.74 587.5,181.78 588,181.81 588.5,181.85 589,181.88 589.5,181.91 590,181.94" fill="none" stroke="#c8333b" stroke-width="3" stroke-linejoin="round" stroke-linecap="round"/>
<polyline points="510,185.74 510.5,185.72 511,185.7 511.5,185.68 512,185.66 512.5,185.63 513,185.6 513.5,185.57 514,185.54 514.5,185.5 515,185.46 515.5,185.42 516,185.37 516.5,185.33 517,185.27 517.5,185.22 518,185.16 518.5,185.09 519,185.02 519.5,184.94 520,184.86 520.5,184.77 521,184.68 521.5,184.58 522,184.47 522.5,184.35 523,184.22 523.5,184.08 524,183.93 524.5,183.77 525,183.6 525.5,183.42 526,183.22 526.5,183 527,182.77 527.5,182.52 528,182.25 528.5,181.96 529,181.65 529.5,181.31 530,180.95 530.5,180.56 531,180.14 531.5,179.69 532,179.21 532.5,178.69 533,178.13 533.5,177.52 534,176.88 534.5,176.18 535,175.44 535.5,174.64 536,173.78 536.5,172.86 537,171.88 537.5,170.84 538,169.72 538.5,168.53 539,167.27 539.5,165.93 540,164.51 540.5,163.01 541,161.43 541.5,159.79 542,158.07 542.5,156.28 543,154.44 543.5,152.56 544,150.65 544.5,148.72 545,146.81 545.5,144.93 546,143.11 546.5,141.38 547,139.77 547.5,138.32 548,137.06 548.5,136.02 549,135.22 549.5,134.68 550,134.42 550.5,134.45 551,134.77 551.5,135.36 552,136.21 552.5,137.3 553,138.6 553.5,140.08 554,141.72 554.5,143.46 555,145.3 555.5,147.19 556,149.11 556.5,151.03 557,152.94 557.5,154.82 558,156.64 558.5,158.42 559,160.12 559.5,161.76 560,163.31 560.5,164.8 561,166.2 561.5,167.53 562,168.77 562.5,169.95 563,171.05 563.5,172.09 564,173.05 564.5,173.96 565,174.8 565.5,175.59 566,176.32 566.5,177.01 567,177.65 567.5,178.24 568,178.79 568.5,179.31 569,179.78 569.5,180.23 570,180.64 570.5,181.02 571,181.38 571.5,181.71 572,182.02 572.5,182.3 573,182.57 573.5,182.82 574,183.04 574.5,183.26 575,183.45 575.5,183.64 576,183.81 576.5,183.96 577,184.11 577.5,184.25 578,184.37 578.5,184.49 579,184.6 579.5,184.7 580,184.79 580.5,184.88 581,184.96 581.5,185.03 582,185.1 582.5,185.17 583,185.23 583.5,185.28 584,185.34 584.5,185.38 585,185.43 585.5,185.47 586,185.51 586.5,185.54 587,185.58 587.5,185.61 588,185.63 588.5,185.66 589,185.68 589.5,185.71 590,185.73" fill="none" stroke="#3b7fc9" stroke-width="3" stroke-linejoin="round" stroke-linecap="round"/>
<path d="M509,130.5 H591.2 V189.2 H509 Z" fill="none" stroke="#231f20" stroke-width="1.8"/>
<line x1="506" y1="134" x2="509" y2="134" stroke="#231f20" stroke-width="1.2"/>
<text x="500.53" y="136.9" font-size="8.4" font-weight="bold" fill="#231f20" textLength="4.14" lengthAdjust="spacingAndGlyphs" stroke="#231f20" stroke-width="0.3">6</text>
<line x1="506" y1="151.7" x2="509" y2="151.7" stroke="#231f20" stroke-width="1.2"/>
<text x="500.7" y="154.6" font-size="8.4" font-weight="bold" fill="#231f20" textLength="3.74" lengthAdjust="spacingAndGlyphs" stroke="#231f20" stroke-width="0.3">4</text>
<line x1="506" y1="169.6" x2="509" y2="169.6" stroke="#231f20" stroke-width="1.2"/>
<text x="500.54" y="172.5" font-size="8.4" font-weight="bold" fill="#231f20" textLength="4.16" lengthAdjust="spacingAndGlyphs" stroke="#231f20" stroke-width="0.3">2</text>
<line x1="506" y1="187.9" x2="509" y2="187.9" stroke="#231f20" stroke-width="1.2"/>
<text x="500.5" y="190.8" font-size="8.4" font-weight="bold" fill="#231f20" textLength="4.21" lengthAdjust="spacingAndGlyphs" stroke="#231f20" stroke-width="0.3">0</text>
<line x1="509" y1="189.2" x2="509" y2="192" stroke="#231f20" stroke-width="1.2"/>
<line x1="550.2" y1="189.2" x2="550.2" y2="192" stroke="#231f20" stroke-width="1.2"/>
<line x1="591.2" y1="189.2" x2="591.2" y2="192" stroke="#231f20" stroke-width="1.2"/>
<polyline points="598.5,170.47 599,170.42 599.5,170.37 600,170.32 600.5,170.26 601,170.2 601.5,170.14 602,170.08 602.5,170.01 603,169.94 603.5,169.86 604,169.79 604.5,169.7 605,169.62 605.5,169.53 606,169.43 606.5,169.33 607,169.23 607.5,169.12 608,169 608.5,168.88 609,168.75 609.5,168.62 610,168.48 610.5,168.33 611,168.17 611.5,168 612,167.83 612.5,167.64 613,167.45 613.5,167.25 614,167.03 614.5,166.8 615,166.56 615.5,166.31 616,166.04 616.5,165.75 617,165.46 617.5,165.14 618,164.81 618.5,164.45 619,164.08 619.5,163.69 620,163.27 620.5,162.84 621,162.37 621.5,161.88 622,161.37 622.5,160.82 623,160.25 623.5,159.65 624,159.01 624.5,158.34 625,157.64 625.5,156.9 626,156.13 626.5,155.32 627,154.47 627.5,153.59 628,152.67 628.5,151.71 629,150.73 629.5,149.71 630,148.67 630.5,147.6 631,146.52 631.5,145.42 632,144.33 632.5,143.24 633,142.18 633.5,141.14 634,140.14 634.5,139.21 635,138.34 635.5,137.56 636,136.89 636.5,136.33 637,135.89 637.5,135.59 638,135.43 638.5,135.41 639,135.54 639.5,135.82 640,136.23 640.5,136.77 641,137.42 641.5,138.18 642,139.03 642.5,139.95 643,140.94 643.5,141.97 644,143.03 644.5,144.11 645,145.21 645.5,146.3 646,147.38 646.5,148.45 647,149.5 647.5,150.52 648,151.52 648.5,152.48 649,153.4 649.5,154.3 650,155.15 650.5,155.97 651,156.75 651.5,157.49 652,158.2 652.5,158.88 653,159.52 653.5,160.13 654,160.71 654.5,161.26 655,161.78 655.5,162.28 656,162.74 656.5,163.19 657,163.61 657.5,164 658,164.38 658.5,164.74 659,165.07 659.5,165.39 660,165.7 660.5,165.98 661,166.25 661.5,166.51 662,166.75 662.5,166.98 663,167.2 663.5,167.41 664,167.61 664.5,167.79 665,167.97 665.5,168.14 666,168.3 666.5,168.45 667,168.59 667.5,168.73 668,168.86 668.5,168.98 669,169.1 669.5,169.21 670,169.31 670.5,169.41 671,169.51 671.5,169.6 672,169.69 672.5,169.77 673,169.85 673.5,169.92 674,169.99 674.5,170.06 675,170.13 675.5,170.19 676,170.25 676.5,170.31 677,170.36 677.5,170.41 678,170.46 678.5,170.51 679,170.55" fill="none" stroke="#c8333b" stroke-width="3" stroke-linejoin="round" stroke-linecap="round"/>
<polyline points="598.5,185.68 599,185.64 599.5,185.61 600,185.57 600.5,185.52 601,185.48 601.5,185.43 602,185.38 602.5,185.33 603,185.27 603.5,185.22 604,185.15 604.5,185.09 605,185.02 605.5,184.95 606,184.87 606.5,184.79 607,184.7 607.5,184.61 608,184.51 608.5,184.41 609,184.31 609.5,184.19 610,184.07 610.5,183.95 611,183.81 611.5,183.67 612,183.52 612.5,183.36 613,183.2 613.5,183.02 614,182.83 614.5,182.64 615,182.43 615.5,182.21 616,181.98 616.5,181.74 617,181.48 617.5,181.21 618,180.93 618.5,180.63 619,180.31 619.5,179.98 620,179.63 620.5,179.27 621,178.88 621.5,178.48 622,178.05 622.5,177.61 623,177.14 623.5,176.66 624,176.15 624.5,175.62 625,175.07 625.5,174.49 626,173.9 626.5,173.28 627,172.65 627.5,172 628,171.32 628.5,170.64 629,169.94 629.5,169.23 630,168.51 630.5,167.8 631,167.08 631.5,166.37 632,165.67 632.5,164.98 633,164.32 633.5,163.69 634,163.1 634.5,162.55 635,162.05 635.5,161.6 636,161.22 636.5,160.91 637,160.67 637.5,160.5 638,160.41 638.5,160.41 639,160.48 639.5,160.63 640,160.86 640.5,161.15 641,161.52 641.5,161.96 642,162.44 642.5,162.99 643,163.57 643.5,164.19 644,164.85 644.5,165.53 645,166.22 645.5,166.93 646,167.65 646.5,168.37 647,169.09 647.5,169.8 648,170.5 648.5,171.19 649,171.86 649.5,172.52 650,173.16 650.5,173.78 651,174.38 651.5,174.95 652,175.51 652.5,176.04 653,176.56 653.5,177.05 654,177.52 654.5,177.97 655,178.39 655.5,178.8 656,179.19 656.5,179.56 657,179.91 657.5,180.25 658,180.57 658.5,180.87 659,181.16 659.5,181.43 660,181.69 660.5,181.94 661,182.17 661.5,182.39 662,182.6 662.5,182.8 663,182.98 663.5,183.16 664,183.33 664.5,183.49 665,183.64 665.5,183.78 666,183.92 666.5,184.05 667,184.17 667.5,184.28 668,184.39 668.5,184.49 669,184.59 669.5,184.68 670,184.77 670.5,184.85 671,184.93 671.5,185.01 672,185.08 672.5,185.14 673,185.2 673.5,185.26 674,185.32 674.5,185.37 675,185.42 675.5,185.47 676,185.51 676.5,185.56 677,185.6 677.5,185.64 678,185.67 678.5,185.71 679,185.74" fill="none" stroke="#3b7fc9" stroke-width="3" stroke-linejoin="round" stroke-linecap="round"/>
<path d="M597.6,130 H680 V188.3 H597.6 Z" fill="none" stroke="#231f20" stroke-width="1.8"/>
<line x1="594.6" y1="132.9" x2="597.6" y2="132.9" stroke="#231f20" stroke-width="1.2"/>
<line x1="594.6" y1="151.2" x2="597.6" y2="151.2" stroke="#231f20" stroke-width="1.2"/>
<line x1="594.6" y1="169.6" x2="597.6" y2="169.6" stroke="#231f20" stroke-width="1.2"/>
<line x1="594.6" y1="187.3" x2="597.6" y2="187.3" stroke="#231f20" stroke-width="1.2"/>
<line x1="597.6" y1="188.3" x2="597.6" y2="191.2" stroke="#231f20" stroke-width="1.2"/>
<line x1="638.3" y1="188.3" x2="638.3" y2="191.2" stroke="#231f20" stroke-width="1.2"/>
<line x1="680" y1="188.3" x2="680" y2="191.2" stroke="#231f20" stroke-width="1.2"/>
<text x="507.22" y="197.1" font-size="7" font-weight="bold" fill="#231f20" textLength="21.77" lengthAdjust="spacingAndGlyphs" stroke="#231f20" stroke-width="0.3">-2.0Kb</text>
<text x="539.33" y="197.1" font-size="7" font-weight="bold" fill="#231f20" textLength="20.57" lengthAdjust="spacingAndGlyphs" stroke="#231f20" stroke-width="0.3">center</text>
<text x="571.76" y="197.1" font-size="7" font-weight="bold" fill="#231f20" textLength="18.72" lengthAdjust="spacingAndGlyphs" stroke="#231f20" stroke-width="0.3">2.0Kb</text>
<text x="595.14" y="197.1" font-size="7" font-weight="bold" fill="#231f20" textLength="20.33" lengthAdjust="spacingAndGlyphs" stroke="#231f20" stroke-width="0.3">-2.0Kb</text>
<text x="625.72" y="197.1" font-size="7" font-weight="bold" fill="#231f20" textLength="21.39" lengthAdjust="spacingAndGlyphs" stroke="#231f20" stroke-width="0.3">center</text>
<text x="661.46" y="197.1" font-size="7" font-weight="bold" fill="#231f20" textLength="18.82" lengthAdjust="spacingAndGlyphs" stroke="#231f20" stroke-width="0.3">2.0Kb</text>
<g clip-path="url(#hm21)"><g fill="#faa800"><rect x="506" y="204.9" width="83.2" height="1" opacity="0.61"/><rect x="506" y="205.9" width="83.2" height="1" opacity="0.65"/><rect x="506" y="206.9" width="83.2" height="1" opacity="0.41"/><rect x="506" y="207.9" width="83.2" height="1" opacity="0.59"/><rect x="506" y="208.9" width="83.2" height="1" opacity="0.46"/><rect x="506" y="209.9" width="83.2" height="1" opacity="0.39"/><rect x="506" y="210.9" width="83.2" height="1" opacity="0.36"/><rect x="506" y="211.9" width="83.2" height="1" opacity="0.33"/><rect x="506" y="212.9" width="83.2" height="1" opacity="0.34"/><rect x="506" y="213.9" width="83.2" height="1" opacity="0.35"/><rect x="506" y="214.9" width="83.2" height="1" opacity="0.31"/><rect x="506" y="215.9" width="83.2" height="1" opacity="0.30"/><rect x="506" y="216.9" width="83.2" height="1" opacity="0.21"/><rect x="506" y="217.9" width="83.2" height="1" opacity="0.20"/><rect x="506" y="218.9" width="83.2" height="1" opacity="0.28"/><rect x="506" y="219.9" width="83.2" height="1" opacity="0.24"/><rect x="506" y="220.9" width="83.2" height="1" opacity="0.26"/><rect x="506" y="221.9" width="83.2" height="1" opacity="0.22"/><rect x="506" y="222.9" width="83.2" height="1" opacity="0.15"/><rect x="506" y="223.9" width="83.2" height="1" opacity="0.18"/><rect x="506" y="224.9" width="83.2" height="1" opacity="0.16"/><rect x="506" y="225.9" width="83.2" height="1" opacity="0.15"/><rect x="506" y="226.9" width="83.2" height="1" opacity="0.12"/><rect x="506" y="227.9" width="83.2" height="1" opacity="0.13"/><rect x="506" y="228.9" width="83.2" height="1" opacity="0.13"/><rect x="506" y="229.9" width="83.2" height="1" opacity="0.14"/><rect x="506" y="230.9" width="83.2" height="1" opacity="0.12"/><rect x="506" y="231.9" width="83.2" height="1" opacity="0.13"/><rect x="506" y="232.9" width="83.2" height="1" opacity="0.10"/><rect x="506" y="233.9" width="83.2" height="1" opacity="0.11"/><rect x="506" y="234.9" width="83.2" height="1" opacity="0.10"/><rect x="506" y="235.9" width="83.2" height="1" opacity="0.08"/><rect x="506" y="236.9" width="83.2" height="1" opacity="0.08"/><rect x="506" y="237.9" width="83.2" height="1" opacity="0.09"/><rect x="506" y="238.9" width="83.2" height="1" opacity="0.08"/><rect x="506" y="239.9" width="83.2" height="1" opacity="0.07"/><rect x="506" y="240.9" width="83.2" height="1" opacity="0.07"/><rect x="506" y="241.9" width="83.2" height="1" opacity="0.06"/><rect x="506" y="242.9" width="83.2" height="1" opacity="0.06"/><rect x="506" y="243.9" width="83.2" height="1" opacity="0.05"/><rect x="506" y="244.9" width="83.2" height="1" opacity="0.05"/><rect x="506" y="245.9" width="83.2" height="1" opacity="0.05"/><rect x="506" y="246.9" width="83.2" height="1" opacity="0.05"/><rect x="506" y="247.9" width="83.2" height="1" opacity="0.05"/><rect x="506" y="248.9" width="83.2" height="1" opacity="0.04"/><rect x="506" y="249.9" width="83.2" height="1" opacity="0.04"/><rect x="506" y="250.9" width="83.2" height="1" opacity="0.04"/><rect x="506" y="251.9" width="83.2" height="1" opacity="0.04"/><rect x="506" y="252.9" width="83.2" height="1" opacity="0.04"/><rect x="506" y="253.9" width="83.2" height="1" opacity="0.04"/><rect x="506" y="254.9" width="83.2" height="1" opacity="0.04"/><rect x="506" y="255.9" width="83.2" height="1" opacity="0.04"/><rect x="506" y="256.9" width="83.2" height="1" opacity="0.04"/><rect x="506" y="257.9" width="83.2" height="1" opacity="0.03"/><rect x="506" y="258.9" width="83.2" height="1" opacity="0.04"/><rect x="506" y="259.9" width="83.2" height="1" opacity="0.03"/><rect x="506" y="260.9" width="83.2" height="1" opacity="0.03"/><rect x="506" y="261.9" width="83.2" height="1" opacity="0.03"/><rect x="506" y="262.9" width="83.2" height="1" opacity="0.03"/><rect x="506" y="263.9" width="83.2" height="1" opacity="0.03"/><rect x="506" y="264.9" width="83.2" height="1" opacity="0.03"/><rect x="506" y="265.9" width="83.2" height="1" opacity="0.03"/><rect x="506" y="266.9" width="83.2" height="1" opacity="0.03"/><rect x="506" y="267.9" width="83.2" height="1" opacity="0.02"/><rect x="506" y="268.9" width="83.2" height="1" opacity="0.03"/><rect x="506" y="269.9" width="83.2" height="1" opacity="0.03"/><rect x="506" y="270.9" width="83.2" height="1" opacity="0.02"/><rect x="506" y="271.9" width="83.2" height="1" opacity="0.02"/><rect x="506" y="272.9" width="83.2" height="1" opacity="0.02"/><rect x="506" y="273.9" width="83.2" height="1" opacity="0.02"/><rect x="506" y="274.9" width="83.2" height="1" opacity="0.02"/><rect x="506" y="275.9" width="83.2" height="1" opacity="0.02"/><rect x="506" y="276.9" width="83.2" height="1" opacity="0.03"/><rect x="506" y="277.9" width="83.2" height="1" opacity="0.02"/><rect x="506" y="278.9" width="83.2" height="1" opacity="0.02"/><rect x="506" y="279.9" width="83.2" height="1" opacity="0.02"/><rect x="506" y="280.9" width="83.2" height="1" opacity="0.03"/><rect x="506" y="281.9" width="83.2" height="1" opacity="0.03"/><rect x="506" y="282.9" width="83.2" height="1" opacity="0.02"/><rect x="506" y="283.9" width="83.2" height="1" opacity="0.02"/><rect x="506" y="284.9" width="83.2" height="1" opacity="0.02"/><rect x="506" y="285.9" width="83.2" height="1" opacity="0.02"/><rect x="506" y="286.9" width="83.2" height="1" opacity="0.03"/><rect x="506" y="287.9" width="83.2" height="1" opacity="0.03"/><rect x="506" y="288.9" width="83.2" height="1" opacity="0.03"/><rect x="506" y="289.9" width="83.2" height="1" opacity="0.02"/><rect x="506" y="290.9" width="83.2" height="1" opacity="0.03"/><rect x="506" y="291.9" width="83.2" height="1" opacity="0.03"/><rect x="506" y="292.9" width="83.2" height="1" opacity="0.02"/><rect x="506" y="293.9" width="83.2" height="1" opacity="0.02"/><rect x="506" y="294.9" width="83.2" height="1" opacity="0.02"/><rect x="506" y="295.9" width="83.2" height="1" opacity="0.03"/><rect x="506" y="296.9" width="83.2" height="1" opacity="0.02"/><rect x="506" y="297.9" width="83.2" height="1" opacity="0.02"/><rect x="506" y="298.9" width="83.2" height="1" opacity="0.02"/><rect x="506" y="299.9" width="83.2" height="1" opacity="0.02"/><rect x="506" y="300.9" width="83.2" height="1" opacity="0.02"/><rect x="506" y="301.9" width="83.2" height="1" opacity="0.02"/><rect x="506" y="302.9" width="83.2" height="1" opacity="0.02"/><rect x="506" y="303.9" width="83.2" height="1" opacity="0.02"/><rect x="506" y="304.9" width="83.2" height="1" opacity="0.02"/><rect x="506" y="305.9" width="83.2" height="1" opacity="0.02"/><rect x="506" y="306.9" width="83.2" height="1" opacity="0.02"/><rect x="506" y="307.9" width="83.2" height="1" opacity="0.03"/><rect x="506" y="308.9" width="83.2" height="1" opacity="0.02"/><rect x="506" y="309.9" width="83.2" height="1" opacity="0.01"/><rect x="506" y="310.9" width="83.2" height="1" opacity="0.02"/><rect x="506" y="311.9" width="83.2" height="1" opacity="0.02"/><rect x="506" y="312.9" width="83.2" height="1" opacity="0.02"/><rect x="506" y="313.9" width="83.2" height="1" opacity="0.03"/><rect x="506" y="314.9" width="83.2" height="1" opacity="0.02"/><rect x="506" y="315.9" width="83.2" height="1" opacity="0.02"/><rect x="506" y="316.9" width="83.2" height="1" opacity="0.02"/><rect x="506" y="317.9" width="83.2" height="1" opacity="0.02"/><rect x="506" y="318.9" width="83.2" height="1" opacity="0.02"/><rect x="506" y="319.9" width="83.2" height="1" opacity="0.02"/><rect x="506" y="320.9" width="83.2" height="1" opacity="0.02"/><rect x="506" y="321.9" width="83.2" height="1" opacity="0.02"/><rect x="506" y="322.9" width="83.2" height="1" opacity="0.02"/><rect x="506" y="323.9" width="83.2" height="1" opacity="0.02"/><rect x="506" y="324.9" width="83.2" height="1" opacity="0.02"/><rect x="506" y="325.9" width="83.2" height="1" opacity="0.02"/><rect x="506" y="326.9" width="83.2" height="1" opacity="0.02"/><rect x="506" y="327.9" width="83.2" height="1" opacity="0.02"/><rect x="506" y="328.9" width="83.2" height="1" opacity="0.02"/><rect x="506" y="329.9" width="83.2" height="1" opacity="0.02"/><rect x="506" y="330.9" width="83.2" height="1" opacity="0.02"/><rect x="506" y="331.9" width="83.2" height="1" opacity="0.02"/><rect x="506" y="332.9" width="83.2" height="1" opacity="0.01"/><rect x="506" y="333.9" width="83.2" height="1" opacity="0.02"/><rect x="506" y="334.9" width="83.2" height="1" opacity="0.02"/><rect x="506" y="335.9" width="83.2" height="1" opacity="0.02"/><rect x="506" y="336.9" width="83.2" height="1" opacity="0.02"/><rect x="506" y="337.9" width="83.2" height="1" opacity="0.02"/><rect x="506" y="338.9" width="83.2" height="1" opacity="0.02"/><rect x="506" y="339.9" width="83.2" height="1" opacity="0.02"/><rect x="506" y="340.9" width="83.2" height="1" opacity="0.01"/><rect x="506" y="341.9" width="83.2" height="1" opacity="0.02"/><rect x="506" y="342.9" width="83.2" height="1" opacity="0.02"/><rect x="506" y="343.9" width="83.2" height="1" opacity="0.02"/><rect x="506" y="344.9" width="83.2" height="1" opacity="0.02"/><rect x="506" y="345.9" width="83.2" height="1" opacity="0.02"/><rect x="506" y="346.9" width="83.2" height="1" opacity="0.02"/><rect x="506" y="347.9" width="83.2" height="1" opacity="0.02"/><rect x="506" y="348.9" width="83.2" height="1" opacity="0.02"/><rect x="506" y="349.9" width="83.2" height="1" opacity="0.02"/><rect x="506" y="350.9" width="83.2" height="1" opacity="0.02"/><rect x="506" y="351.9" width="83.2" height="1" opacity="0.01"/><rect x="506" y="352.9" width="83.2" height="1" opacity="0.02"/><rect x="506" y="353.9" width="83.2" height="1" opacity="0.02"/><rect x="506" y="354.9" width="83.2" height="1" opacity="0.02"/><rect x="506" y="355.9" width="83.2" height="1" opacity="0.02"/><rect x="506" y="356.9" width="83.2" height="1" opacity="0.02"/><rect x="506" y="357.9" width="83.2" height="1" opacity="0.02"/><rect x="506" y="358.9" width="83.2" height="1" opacity="0.02"/><rect x="506" y="359.9" width="83.2" height="1" opacity="0.02"/><rect x="506" y="360.9" width="83.2" height="1" opacity="0.02"/><rect x="506" y="361.9" width="83.2" height="1" opacity="0.01"/><rect x="506" y="362.9" width="83.2" height="1" opacity="0.02"/><rect x="506" y="363.9" width="83.2" height="1" opacity="0.02"/><rect x="506" y="364.9" width="83.2" height="1" opacity="0.02"/><rect x="506" y="365.9" width="83.2" height="1" opacity="0.01"/><rect x="506" y="366.9" width="83.2" height="1" opacity="0.02"/><rect x="506" y="367.9" width="83.2" height="1" opacity="0.01"/><rect x="506" y="368.9" width="83.2" height="1" opacity="0.02"/><rect x="506" y="369.9" width="83.2" height="1" opacity="0.02"/><rect x="506" y="370.9" width="83.2" height="1" opacity="0.01"/><rect x="506" y="371.9" width="83.2" height="1" opacity="0.02"/><rect x="506" y="372.9" width="83.2" height="1" opacity="0.01"/><rect x="506" y="373.9" width="83.2" height="1" opacity="0.02"/><rect x="506" y="374.9" width="83.2" height="1" opacity="0.02"/><rect x="506" y="375.9" width="83.2" height="1" opacity="0.01"/><rect x="506" y="376.9" width="83.2" height="1" opacity="0.02"/><rect x="506" y="377.9" width="83.2" height="1" opacity="0.02"/><rect x="506" y="378.9" width="83.2" height="1" opacity="0.02"/><rect x="506" y="379.9" width="83.2" height="1" opacity="0.02"/><rect x="506" y="380.9" width="83.2" height="1" opacity="0.01"/></g><g fill="url(#hh)"><rect x="498.82" y="204.9" width="97.77" height="1" opacity="0.15"/><rect x="487.71" y="205.9" width="119.97" height="1" opacity="0.18"/><rect x="486.01" y="206.9" width="123.38" height="1" opacity="0.22"/><rect x="491.71" y="207.9" width="111.98" height="1" opacity="0.17"/><rect x="498.42" y="208.9" width="98.55" height="1" opacity="0.24"/><rect x="494.43" y="209.9" width="106.54" height="1" opacity="0.12"/><rect x="500.82" y="210.9" width="93.76" height="1" opacity="0.16"/><rect x="484.54" y="211.9" width="126.33" height="1" opacity="0.22"/><rect x="506" y="212.9" width="83.39" height="1" opacity="0.17"/><rect x="494.62" y="213.9" width="106.15" height="1" opacity="0.21"/><rect x="495.06" y="214.9" width="105.28" height="1" opacity="0.15"/><rect x="495.58" y="215.9" width="104.24" height="1" opacity="0.15"/><rect x="512.04" y="216.9" width="71.32" height="1" opacity="0.14"/><rect x="503.76" y="217.9" width="87.88" height="1" opacity="0.23"/><rect x="494.76" y="218.9" width="105.89" height="1" opacity="0.12"/><rect x="500.64" y="219.9" width="94.12" height="1" opacity="0.18"/><rect x="510.28" y="220.9" width="74.84" height="1" opacity="0.07"/><rect x="503.88" y="221.9" width="87.65" height="1" opacity="0.19"/><rect x="507.37" y="222.9" width="80.65" height="1" opacity="0.03"/><rect x="505.32" y="223.9" width="84.77" height="1" opacity="0.15"/><rect x="510.4" y="224.9" width="74.61" height="1" opacity="0.16"/><rect x="512.11" y="225.9" width="71.17" height="1" opacity="0.21"/><rect x="507.09" y="226.9" width="81.22" height="1" opacity="0.15"/><rect x="506.39" y="227.9" width="82.62" height="1" opacity="0.17"/><rect x="515.51" y="228.9" width="64.38" height="1" opacity="0.17"/><rect x="511.07" y="229.9" width="73.27" height="1" opacity="0.08"/><rect x="512.53" y="230.9" width="70.35" height="1" opacity="0.19"/><rect x="512.93" y="231.9" width="69.54" height="1" opacity="0.24"/><rect x="503.21" y="232.9" width="88.98" height="1" opacity="0.15"/><rect x="508.93" y="233.9" width="77.55" height="1" opacity="0.27"/><rect x="513.36" y="234.9" width="68.67" height="1" opacity="0.12"/><rect x="514.32" y="235.9" width="66.76" height="1" opacity="0.10"/><rect x="518.74" y="236.9" width="57.93" height="1" opacity="0.17"/><rect x="515.44" y="237.9" width="64.52" height="1" opacity="0.17"/><rect x="512.38" y="238.9" width="70.63" height="1" opacity="0.12"/><rect x="515.7" y="239.9" width="63.99" height="1" opacity="0.14"/><rect x="518.12" y="240.9" width="59.16" height="1" opacity="0.12"/><rect x="514.94" y="241.9" width="65.51" height="1" opacity="0.15"/><rect x="515.51" y="242.9" width="64.39" height="1" opacity="0.20"/><rect x="513.65" y="243.9" width="68.11" height="1" opacity="0.10"/><rect x="520.89" y="244.9" width="53.61" height="1" opacity="0.14"/><rect x="517.7" y="245.9" width="60" height="1" opacity="0.19"/><rect x="521.83" y="246.9" width="51.74" height="1" opacity="0.13"/><rect x="517.91" y="247.9" width="59.58" height="1" opacity="0.20"/><rect x="514.35" y="248.9" width="66.71" height="1" opacity="0.10"/><rect x="520.12" y="249.9" width="55.17" height="1" opacity="0.11"/><rect x="516.87" y="250.9" width="61.67" height="1" opacity="0.17"/><rect x="521.21" y="251.9" width="52.97" height="1" opacity="0.12"/><rect x="519.37" y="252.9" width="56.66" height="1" opacity="0.19"/><rect x="523.15" y="253.9" width="49.11" height="1" opacity="0.13"/><rect x="520.61" y="254.9" width="54.19" height="1" opacity="0.14"/><rect x="520.21" y="255.9" width="54.98" height="1" opacity="0.10"/><rect x="523.46" y="256.9" width="48.48" height="1" opacity="0.05"/><rect x="521.74" y="257.9" width="51.92" height="1" opacity="0.19"/><rect x="528.51" y="258.9" width="38.37" height="1" opacity="0.11"/><rect x="519.83" y="259.9" width="55.75" height="1" opacity="0.14"/><rect x="528.5" y="260.9" width="38.39" height="1" opacity="0.19"/><rect x="527.37" y="261.9" width="40.67" height="1" opacity="0.20"/><rect x="525.18" y="262.9" width="45.04" height="1" opacity="0.11"/><rect x="523.72" y="263.9" width="47.96" height="1" opacity="0.14"/><rect x="522.41" y="264.9" width="50.58" height="1" opacity="0.16"/><rect x="524.84" y="265.9" width="45.72" height="1" opacity="0.19"/><rect x="522.77" y="266.9" width="49.85" height="1" opacity="0.15"/><rect x="524.69" y="267.9" width="46.03" height="1" opacity="0.13"/><rect x="525.58" y="268.9" width="44.25" height="1" opacity="0.16"/><rect x="524.43" y="269.9" width="46.54" height="1" opacity="0.14"/><rect x="523.35" y="270.9" width="48.69" height="1" opacity="0.12"/><rect x="525.19" y="271.9" width="45.01" height="1" opacity="0.17"/><rect x="529.45" y="272.9" width="36.51" height="1" opacity="0.12"/><rect x="522.78" y="273.9" width="49.83" height="1" opacity="0.09"/><rect x="524.43" y="274.9" width="46.54" height="1" opacity="0.09"/><rect x="526.59" y="275.9" width="42.22" height="1" opacity="0.09"/><rect x="529.35" y="276.9" width="36.7" height="1" opacity="0.12"/><rect x="529.48" y="277.9" width="36.44" height="1" opacity="0.17"/><rect x="526.59" y="278.9" width="42.22" height="1" opacity="0.16"/><rect x="528.32" y="279.9" width="38.75" height="1" opacity="0.19"/><rect x="526.6" y="280.9" width="42.19" height="1" opacity="0.14"/><rect x="531.42" y="281.9" width="32.55" height="1" opacity="0.16"/><rect x="527.79" y="282.9" width="39.81" height="1" opacity="0.13"/><rect x="527.83" y="283.9" width="39.74" height="1" opacity="0.16"/><rect x="530.21" y="284.9" width="34.99" height="1" opacity="0.15"/><rect x="528.96" y="285.9" width="37.47" height="1" opacity="0.14"/><rect x="530.6" y="286.9" width="34.19" height="1" opacity="0.11"/><rect x="529.78" y="287.9" width="35.84" height="1" opacity="0.18"/><rect x="525.3" y="288.9" width="44.8" height="1" opacity="0.11"/><rect x="532.54" y="289.9" width="30.31" height="1" opacity="0.11"/><rect x="532.23" y="290.9" width="30.94" height="1" opacity="0.11"/><rect x="529.85" y="291.9" width="35.69" height="1" opacity="0.09"/><rect x="529.59" y="292.9" width="36.22" height="1" opacity="0.16"/><rect x="527.94" y="293.9" width="39.52" height="1" opacity="0.19"/><rect x="529.16" y="294.9" width="37.09" height="1" opacity="0.21"/><rect x="532.28" y="295.9" width="30.84" height="1" opacity="0.14"/><rect x="531.12" y="296.9" width="33.16" height="1" opacity="0.14"/><rect x="529.64" y="297.9" width="36.13" height="1" opacity="0.11"/><rect x="528.5" y="298.9" width="38.4" height="1" opacity="0.17"/><rect x="531.26" y="299.9" width="32.87" height="1" opacity="0.14"/><rect x="533.89" y="300.9" width="27.61" height="1" opacity="0.03"/><rect x="532.4" y="301.9" width="30.6" height="1" opacity="0.14"/><rect x="531.97" y="302.9" width="31.45" height="1" opacity="0.08"/><rect x="533.37" y="303.9" width="28.66" height="1" opacity="0.19"/><rect x="531.4" y="304.9" width="32.6" height="1" opacity="0.15"/><rect x="533.41" y="305.9" width="28.57" height="1" opacity="0.15"/><rect x="530.77" y="306.9" width="33.87" height="1" opacity="0.15"/><rect x="533.88" y="307.9" width="27.63" height="1" opacity="0.13"/><rect x="534.84" y="308.9" width="25.71" height="1" opacity="0.11"/><rect x="532.49" y="309.9" width="30.41" height="1" opacity="0.10"/><rect x="534.04" y="310.9" width="27.32" height="1" opacity="0.17"/><rect x="534.09" y="311.9" width="27.22" height="1" opacity="0.15"/><rect x="534.46" y="312.9" width="26.48" height="1" opacity="0.08"/><rect x="534.12" y="313.9" width="27.16" height="1" opacity="0.11"/><rect x="537.5" y="314.9" width="20.41" height="1" opacity="0.08"/><rect x="535.11" y="315.9" width="25.19" height="1" opacity="0.17"/><rect x="535.5" y="316.9" width="24.41" height="1" opacity="0.12"/><rect x="533.79" y="317.9" width="27.82" height="1" opacity="0.13"/><rect x="535.43" y="318.9" width="24.53" height="1" opacity="0.18"/><rect x="533.07" y="319.9" width="29.27" height="1" opacity="0.03"/><rect x="533.81" y="320.9" width="27.77" height="1" opacity="0.14"/><rect x="533.96" y="321.9" width="27.48" height="1" opacity="0.12"/><rect x="534.36" y="322.9" width="26.68" height="1" opacity="0.18"/><rect x="533.27" y="323.9" width="28.85" height="1" opacity="0.18"/><rect x="534.39" y="324.9" width="26.62" height="1" opacity="0.15"/><rect x="534.72" y="325.9" width="25.95" height="1" opacity="0.08"/><rect x="533.08" y="326.9" width="29.24" height="1" opacity="0.12"/><rect x="535.91" y="327.9" width="23.58" height="1" opacity="0.12"/><rect x="535.87" y="328.9" width="23.65" height="1" opacity="0.04"/><rect x="536.36" y="329.9" width="22.68" height="1" opacity="0.07"/><rect x="538.1" y="330.9" width="19.21" height="1" opacity="0.05"/><rect x="539.17" y="331.9" width="17.06" height="1" opacity="0.13"/><rect x="537.76" y="332.9" width="19.89" height="1" opacity="0.11"/><rect x="537.51" y="333.9" width="20.37" height="1" opacity="0.07"/><rect x="538.32" y="334.9" width="18.75" height="1" opacity="0.07"/><rect x="537.99" y="335.9" width="19.41" height="1" opacity="0.04"/><rect x="538.25" y="336.9" width="18.91" height="1" opacity="0.14"/><rect x="536.54" y="337.9" width="22.32" height="1" opacity="0.15"/><rect x="537.54" y="338.9" width="20.33" height="1" opacity="0.08"/><rect x="537.24" y="339.9" width="20.91" height="1" opacity="0.13"/><rect x="538.13" y="340.9" width="19.14" height="1" opacity="0.07"/><rect x="538.16" y="341.9" width="19.09" height="1" opacity="0.16"/><rect x="537.95" y="342.9" width="19.5" height="1" opacity="0.10"/><rect x="538.33" y="343.9" width="18.75" height="1" opacity="0.11"/><rect x="538.87" y="344.9" width="17.65" height="1" opacity="0.14"/><rect x="538.87" y="345.9" width="17.66" height="1" opacity="0.11"/><rect x="538.99" y="346.9" width="17.41" height="1" opacity="0.08"/><rect x="540.5" y="347.9" width="14.39" height="1" opacity="0.13"/><rect x="540.26" y="348.9" width="14.88" height="1" opacity="0.13"/><rect x="541.57" y="349.9" width="12.25" height="1" opacity="0.15"/><rect x="540.1" y="350.9" width="15.2" height="1" opacity="0.16"/><rect x="542.39" y="351.9" width="10.62" height="1" opacity="0.05"/><rect x="539.09" y="352.9" width="17.22" height="1" opacity="0.11"/><rect x="540.22" y="353.9" width="14.96" height="1" opacity="0.11"/><rect x="540.51" y="354.9" width="14.39" height="1" opacity="0.12"/><rect x="541.63" y="355.9" width="12.14" height="1" opacity="0.10"/><rect x="539.91" y="356.9" width="15.57" height="1" opacity="0.11"/><rect x="541.6" y="357.9" width="12.19" height="1" opacity="0.11"/><rect x="540.47" y="358.9" width="14.45" height="1" opacity="0.10"/><rect x="541.56" y="359.9" width="12.27" height="1" opacity="0.12"/><rect x="540.97" y="360.9" width="13.46" height="1" opacity="0.15"/><rect x="541.84" y="361.9" width="11.72" height="1" opacity="0.12"/><rect x="541.19" y="362.9" width="13.03" height="1" opacity="0.05"/><rect x="541.97" y="363.9" width="11.47" height="1" opacity="0.12"/><rect x="542.28" y="364.9" width="10.85" height="1" opacity="0.08"/><rect x="542.01" y="365.9" width="11.38" height="1" opacity="0.14"/><rect x="542.59" y="366.9" width="10.22" height="1" opacity="0.09"/><rect x="542.82" y="367.9" width="9.75" height="1" opacity="0.15"/><rect x="542.13" y="368.9" width="11.13" height="1" opacity="0.11"/><rect x="543.62" y="369.9" width="8.16" height="1" opacity="0.06"/><rect x="543.34" y="370.9" width="8.72" height="1" opacity="0.09"/><rect x="543.19" y="371.9" width="9.03" height="1" opacity="0.07"/><rect x="543.55" y="372.9" width="8.31" height="1" opacity="0.12"/><rect x="544.46" y="373.9" width="6.48" height="1" opacity="0.17"/><rect x="543.53" y="374.9" width="8.33" height="1" opacity="0.12"/><rect x="544.54" y="375.9" width="6.32" height="1" opacity="0.07"/><rect x="543.68" y="376.9" width="8.03" height="1" opacity="0.13"/><rect x="545.27" y="377.9" width="4.86" height="1" opacity="0.14"/><rect x="544.15" y="378.9" width="7.1" height="1" opacity="0.12"/><rect x="545" y="379.9" width="5.39" height="1" opacity="0.11"/><rect x="544.91" y="380.9" width="5.59" height="1" opacity="0.12"/></g><g fill="url(#hc)"><rect x="495.19" y="204.9" width="105.03" height="1" opacity="0.33"/><rect x="500.22" y="205.9" width="94.96" height="1" opacity="0.29"/><rect x="510.1" y="206.9" width="75.2" height="1" opacity="0.30"/><rect x="502.94" y="207.9" width="89.52" height="1" opacity="0.35"/><rect x="508.63" y="208.9" width="78.14" height="1" opacity="0.30"/><rect x="511.18" y="209.9" width="73.04" height="1" opacity="0.22"/><rect x="510.64" y="210.9" width="74.13" height="1" opacity="0.30"/><rect x="513.69" y="211.9" width="68.03" height="1" opacity="0.28"/><rect x="519.62" y="212.9" width="56.15" height="1" opacity="0.29"/><rect x="510.26" y="213.9" width="74.87" height="1" opacity="0.28"/><rect x="513.97" y="214.9" width="67.46" height="1" opacity="0.30"/><rect x="518.95" y="215.9" width="57.51" height="1" opacity="0.29"/><rect x="519.83" y="216.9" width="55.74" height="1" opacity="0.40"/><rect x="517.51" y="217.9" width="60.38" height="1" opacity="0.24"/><rect x="523.26" y="218.9" width="48.87" height="1" opacity="0.34"/><rect x="517.91" y="219.9" width="59.59" height="1" opacity="0.30"/><rect x="524.07" y="220.9" width="47.26" height="1" opacity="0.26"/><rect x="524.33" y="221.9" width="46.73" height="1" opacity="0.32"/><rect x="523.23" y="222.9" width="48.95" height="1" opacity="0.36"/><rect x="521.34" y="223.9" width="52.71" height="1" opacity="0.27"/><rect x="519.99" y="224.9" width="55.41" height="1" opacity="0.20"/><rect x="525.65" y="225.9" width="44.1" height="1" opacity="0.27"/><rect x="521.56" y="226.9" width="52.29" height="1" opacity="0.34"/><rect x="523.65" y="227.9" width="48.1" height="1" opacity="0.22"/><rect x="526.08" y="228.9" width="43.24" height="1" opacity="0.25"/><rect x="522.51" y="229.9" width="50.39" height="1" opacity="0.28"/><rect x="524.41" y="230.9" width="46.59" height="1" opacity="0.39"/><rect x="526.26" y="231.9" width="42.88" height="1" opacity="0.34"/><rect x="527.32" y="232.9" width="40.77" height="1" opacity="0.32"/><rect x="526.83" y="233.9" width="41.75" height="1" opacity="0.32"/><rect x="527.18" y="234.9" width="41.04" height="1" opacity="0.31"/><rect x="524.02" y="235.9" width="47.36" height="1" opacity="0.30"/><rect x="527.66" y="236.9" width="40.09" height="1" opacity="0.32"/><rect x="532.85" y="237.9" width="29.7" height="1" opacity="0.38"/><rect x="528.52" y="238.9" width="38.36" height="1" opacity="0.27"/><rect x="530.69" y="239.9" width="34.02" height="1" opacity="0.27"/><rect x="529.26" y="240.9" width="36.87" height="1" opacity="0.42"/><rect x="528.06" y="241.9" width="39.29" height="1" opacity="0.29"/><rect x="533.53" y="242.9" width="28.35" height="1" opacity="0.38"/><rect x="528.2" y="243.9" width="39" height="1" opacity="0.36"/><rect x="529.64" y="244.9" width="36.13" height="1" opacity="0.29"/><rect x="531.78" y="245.9" width="31.83" height="1" opacity="0.39"/><rect x="532.51" y="246.9" width="30.38" height="1" opacity="0.35"/><rect x="531.06" y="247.9" width="33.29" height="1" opacity="0.33"/><rect x="533.89" y="248.9" width="27.62" height="1" opacity="0.41"/><rect x="532.26" y="249.9" width="30.87" height="1" opacity="0.32"/><rect x="532.25" y="250.9" width="30.91" height="1" opacity="0.34"/><rect x="532.21" y="251.9" width="30.98" height="1" opacity="0.37"/><rect x="533.81" y="252.9" width="27.79" height="1" opacity="0.33"/><rect x="533.37" y="253.9" width="28.66" height="1" opacity="0.37"/><rect x="531.3" y="254.9" width="32.8" height="1" opacity="0.37"/><rect x="535.98" y="255.9" width="23.44" height="1" opacity="0.48"/><rect x="537.12" y="256.9" width="21.17" height="1" opacity="0.46"/><rect x="535.79" y="257.9" width="23.82" height="1" opacity="0.45"/><rect x="535.16" y="258.9" width="25.08" height="1" opacity="0.41"/><rect x="535.1" y="259.9" width="25.21" height="1" opacity="0.38"/><rect x="534.63" y="260.9" width="26.14" height="1" opacity="0.35"/><rect x="534.83" y="261.9" width="25.74" height="1" opacity="0.32"/><rect x="536.45" y="262.9" width="22.51" height="1" opacity="0.35"/><rect x="535.82" y="263.9" width="23.76" height="1" opacity="0.45"/><rect x="536.83" y="264.9" width="21.74" height="1" opacity="0.33"/><rect x="537.3" y="265.9" width="20.8" height="1" opacity="0.36"/><rect x="535.48" y="266.9" width="24.45" height="1" opacity="0.34"/><rect x="536.6" y="267.9" width="22.2" height="1" opacity="0.35"/><rect x="536.31" y="268.9" width="22.77" height="1" opacity="0.27"/><rect x="535.89" y="269.9" width="23.63" height="1" opacity="0.43"/><rect x="537.61" y="270.9" width="20.18" height="1" opacity="0.38"/><rect x="537.82" y="271.9" width="19.77" height="1" opacity="0.43"/><rect x="536.29" y="272.9" width="22.82" height="1" opacity="0.53"/><rect x="537.33" y="273.9" width="20.75" height="1" opacity="0.33"/><rect x="537.75" y="274.9" width="19.9" height="1" opacity="0.31"/><rect x="537.17" y="275.9" width="21.06" height="1" opacity="0.40"/><rect x="536.58" y="276.9" width="22.23" height="1" opacity="0.40"/><rect x="538.08" y="277.9" width="19.25" height="1" opacity="0.45"/><rect x="537.23" y="278.9" width="20.95" height="1" opacity="0.43"/><rect x="539.06" y="279.9" width="17.28" height="1" opacity="0.34"/><rect x="538.63" y="280.9" width="18.15" height="1" opacity="0.36"/><rect x="540.19" y="281.9" width="15.02" height="1" opacity="0.44"/><rect x="538.38" y="282.9" width="18.64" height="1" opacity="0.42"/><rect x="537.54" y="283.9" width="20.32" height="1" opacity="0.46"/><rect x="537.82" y="284.9" width="19.76" height="1" opacity="0.40"/><rect x="539.12" y="285.9" width="17.15" height="1" opacity="0.38"/><rect x="536.92" y="286.9" width="21.55" height="1" opacity="0.28"/><rect x="539.25" y="287.9" width="16.9" height="1" opacity="0.39"/><rect x="537.25" y="288.9" width="20.89" height="1" opacity="0.32"/><rect x="539.19" y="289.9" width="17.03" height="1" opacity="0.38"/><rect x="536.15" y="290.9" width="23.1" height="1" opacity="0.33"/><rect x="539.09" y="291.9" width="17.21" height="1" opacity="0.41"/><rect x="539.65" y="292.9" width="16.1" height="1" opacity="0.39"/><rect x="538.78" y="293.9" width="17.84" height="1" opacity="0.35"/><rect x="538.92" y="294.9" width="17.55" height="1" opacity="0.46"/><rect x="539.2" y="295.9" width="16.99" height="1" opacity="0.35"/><rect x="540.01" y="296.9" width="15.38" height="1" opacity="0.38"/><rect x="538.64" y="297.9" width="18.12" height="1" opacity="0.37"/><rect x="539.32" y="298.9" width="16.75" height="1" opacity="0.50"/><rect x="540.28" y="299.9" width="14.85" height="1" opacity="0.31"/><rect x="539.56" y="300.9" width="16.28" height="1" opacity="0.35"/><rect x="539.44" y="301.9" width="16.52" height="1" opacity="0.42"/><rect x="539.72" y="302.9" width="15.97" height="1" opacity="0.35"/><rect x="539.7" y="303.9" width="15.99" height="1" opacity="0.38"/><rect x="540.27" y="304.9" width="14.86" height="1" opacity="0.33"/><rect x="539.82" y="305.9" width="15.76" height="1" opacity="0.35"/><rect x="541.24" y="306.9" width="12.91" height="1" opacity="0.39"/><rect x="540.89" y="307.9" width="13.61" height="1" opacity="0.33"/><rect x="540.18" y="308.9" width="15.04" height="1" opacity="0.32"/><rect x="540.86" y="309.9" width="13.67" height="1" opacity="0.30"/><rect x="541.88" y="310.9" width="11.63" height="1" opacity="0.36"/><rect x="539.92" y="311.9" width="15.56" height="1" opacity="0.31"/><rect x="540.3" y="312.9" width="14.8" height="1" opacity="0.40"/><rect x="540.2" y="313.9" width="15" height="1" opacity="0.30"/><rect x="541.69" y="314.9" width="12.01" height="1" opacity="0.42"/><rect x="541.42" y="315.9" width="12.56" height="1" opacity="0.34"/><rect x="541.05" y="316.9" width="13.29" height="1" opacity="0.37"/><rect x="541.93" y="317.9" width="11.55" height="1" opacity="0.33"/><rect x="541.32" y="318.9" width="12.76" height="1" opacity="0.35"/><rect x="542.23" y="319.9" width="10.94" height="1" opacity="0.40"/><rect x="541.42" y="320.9" width="12.55" height="1" opacity="0.32"/><rect x="542.33" y="321.9" width="10.75" height="1" opacity="0.38"/><rect x="543.45" y="322.9" width="8.49" height="1" opacity="0.34"/><rect x="542.55" y="323.9" width="10.3" height="1" opacity="0.30"/><rect x="541.87" y="324.9" width="11.67" height="1" opacity="0.35"/><rect x="540.85" y="325.9" width="13.69" height="1" opacity="0.32"/><rect x="542.36" y="326.9" width="10.68" height="1" opacity="0.27"/><rect x="542.15" y="327.9" width="11.11" height="1" opacity="0.30"/><rect x="542.65" y="328.9" width="10.1" height="1" opacity="0.39"/><rect x="542.3" y="329.9" width="10.81" height="1" opacity="0.35"/><rect x="542.37" y="330.9" width="10.66" height="1" opacity="0.31"/><rect x="543.5" y="331.9" width="8.4" height="1" opacity="0.26"/><rect x="542.93" y="332.9" width="9.53" height="1" opacity="0.41"/><rect x="543.42" y="333.9" width="8.55" height="1" opacity="0.32"/><rect x="543.51" y="334.9" width="8.38" height="1" opacity="0.34"/><rect x="544.23" y="335.9" width="6.94" height="1" opacity="0.36"/><rect x="543.12" y="336.9" width="9.16" height="1" opacity="0.29"/><rect x="544.06" y="337.9" width="7.29" height="1" opacity="0.27"/><rect x="543.53" y="338.9" width="8.34" height="1" opacity="0.37"/><rect x="544.22" y="339.9" width="6.97" height="1" opacity="0.24"/><rect x="543.89" y="340.9" width="7.61" height="1" opacity="0.31"/><rect x="543.77" y="341.9" width="7.87" height="1" opacity="0.27"/><rect x="543.86" y="342.9" width="7.68" height="1" opacity="0.34"/><rect x="544.77" y="343.9" width="5.85" height="1" opacity="0.28"/><rect x="544.1" y="344.9" width="7.2" height="1" opacity="0.32"/><rect x="544.58" y="345.9" width="6.25" height="1" opacity="0.21"/><rect x="544.74" y="346.9" width="5.92" height="1" opacity="0.23"/><rect x="544.75" y="347.9" width="5.91" height="1" opacity="0.32"/><rect x="544.87" y="348.9" width="5.67" height="1" opacity="0.28"/><rect x="545.12" y="349.9" width="5.16" height="1" opacity="0.31"/><rect x="545.04" y="350.9" width="5.32" height="1" opacity="0.23"/><rect x="544.45" y="351.9" width="6.51" height="1" opacity="0.28"/><rect x="544.87" y="352.9" width="5.66" height="1" opacity="0.19"/><rect x="544.78" y="353.9" width="5.84" height="1" opacity="0.32"/><rect x="545.27" y="354.9" width="4.87" height="1" opacity="0.25"/><rect x="545.46" y="355.9" width="4.48" height="1" opacity="0.29"/><rect x="545.77" y="356.9" width="3.86" height="1" opacity="0.26"/><rect x="545.07" y="357.9" width="5.25" height="1" opacity="0.25"/><rect x="545.19" y="358.9" width="5.02" height="1" opacity="0.24"/><rect x="545.75" y="359.9" width="3.9" height="1" opacity="0.27"/><rect x="545.8" y="360.9" width="3.81" height="1" opacity="0.24"/><rect x="545.95" y="361.9" width="3.5" height="1" opacity="0.19"/><rect x="546.02" y="362.9" width="3.36" height="1" opacity="0.25"/><rect x="545.88" y="363.9" width="3.63" height="1" opacity="0.23"/><rect x="546.1" y="364.9" width="3.19" height="1" opacity="0.20"/><rect x="546.27" y="365.9" width="2.86" height="1" opacity="0.22"/><rect x="546.35" y="366.9" width="2.7" height="1" opacity="0.22"/><rect x="546.38" y="367.9" width="2.64" height="1" opacity="0.25"/><rect x="546.43" y="368.9" width="2.55" height="1" opacity="0.23"/><rect x="546.74" y="369.9" width="1.92" height="1" opacity="0.19"/><rect x="546.7" y="370.9" width="2.01" height="1" opacity="0.21"/><rect x="546.73" y="371.9" width="1.95" height="1" opacity="0.15"/><rect x="546.87" y="372.9" width="1.66" height="1" opacity="0.20"/><rect x="547" y="373.9" width="1.4" height="1" opacity="0.17"/><rect x="547.05" y="374.9" width="1.29" height="1" opacity="0.19"/><rect x="547.13" y="375.9" width="1.13" height="1" opacity="0.14"/><rect x="547.29" y="376.9" width="0.82" height="1" opacity="0.23"/><rect x="547.33" y="377.9" width="0.73" height="1" opacity="0.16"/><rect x="547.46" y="378.9" width="0.49" height="1" opacity="0.14"/></g></g>
<rect x="505.3" y="204.2" width="84.6" height="177.8" fill="none" stroke="#231f20" stroke-width="1.5"/>
<g clip-path="url(#hm22)"><g fill="#faa800"><rect x="596.8" y="204.9" width="82.9" height="1" opacity="1.00"/><rect x="596.8" y="205.9" width="82.9" height="1" opacity="1.00"/><rect x="596.8" y="206.9" width="82.9" height="1" opacity="0.99"/><rect x="596.8" y="207.9" width="82.9" height="1" opacity="0.99"/><rect x="596.8" y="208.9" width="82.9" height="1" opacity="0.99"/><rect x="596.8" y="209.9" width="82.9" height="1" opacity="0.99"/><rect x="596.8" y="210.9" width="82.9" height="1" opacity="0.98"/><rect x="596.8" y="211.9" width="82.9" height="1" opacity="0.98"/><rect x="596.8" y="212.9" width="82.9" height="1" opacity="0.98"/><rect x="596.8" y="213.9" width="82.9" height="1" opacity="0.98"/><rect x="596.8" y="214.9" width="82.9" height="1" opacity="0.97"/><rect x="596.8" y="215.9" width="82.9" height="1" opacity="0.97"/><rect x="596.8" y="216.9" width="82.9" height="1" opacity="0.96"/><rect x="596.8" y="217.9" width="82.9" height="1" opacity="0.78"/><rect x="596.8" y="218.9" width="82.9" height="1" opacity="0.78"/><rect x="596.8" y="219.9" width="82.9" height="1" opacity="0.75"/><rect x="596.8" y="220.9" width="82.9" height="1" opacity="0.80"/><rect x="596.8" y="221.9" width="82.9" height="1" opacity="0.98"/><rect x="596.8" y="222.9" width="82.9" height="1" opacity="0.64"/><rect x="596.8" y="223.9" width="82.9" height="1" opacity="0.83"/><rect x="596.8" y="224.9" width="82.9" height="1" opacity="0.82"/><rect x="596.8" y="225.9" width="82.9" height="1" opacity="0.64"/><rect x="596.8" y="226.9" width="82.9" height="1" opacity="0.57"/><rect x="596.8" y="227.9" width="82.9" height="1" opacity="0.62"/><rect x="596.8" y="228.9" width="82.9" height="1" opacity="0.64"/><rect x="596.8" y="229.9" width="82.9" height="1" opacity="0.67"/><rect x="596.8" y="230.9" width="82.9" height="1" opacity="0.56"/><rect x="596.8" y="231.9" width="82.9" height="1" opacity="0.56"/><rect x="596.8" y="232.9" width="82.9" height="1" opacity="0.42"/><rect x="596.8" y="233.9" width="82.9" height="1" opacity="0.37"/><rect x="596.8" y="234.9" width="82.9" height="1" opacity="0.31"/><rect x="596.8" y="235.9" width="82.9" height="1" opacity="0.32"/><rect x="596.8" y="236.9" width="82.9" height="1" opacity="0.33"/><rect x="596.8" y="237.9" width="82.9" height="1" opacity="0.33"/><rect x="596.8" y="238.9" width="82.9" height="1" opacity="0.26"/><rect x="596.8" y="239.9" width="82.9" height="1" opacity="0.31"/><rect x="596.8" y="240.9" width="82.9" height="1" opacity="0.26"/><rect x="596.8" y="241.9" width="82.9" height="1" opacity="0.22"/><rect x="596.8" y="242.9" width="82.9" height="1" opacity="0.21"/><rect x="596.8" y="243.9" width="82.9" height="1" opacity="0.26"/><rect x="596.8" y="244.9" width="82.9" height="1" opacity="0.20"/><rect x="596.8" y="245.9" width="82.9" height="1" opacity="0.16"/><rect x="596.8" y="246.9" width="82.9" height="1" opacity="0.14"/><rect x="596.8" y="247.9" width="82.9" height="1" opacity="0.18"/><rect x="596.8" y="248.9" width="82.9" height="1" opacity="0.12"/><rect x="596.8" y="249.9" width="82.9" height="1" opacity="0.13"/><rect x="596.8" y="250.9" width="82.9" height="1" opacity="0.13"/><rect x="596.8" y="251.9" width="82.9" height="1" opacity="0.08"/><rect x="596.8" y="252.9" width="82.9" height="1" opacity="0.12"/><rect x="596.8" y="253.9" width="82.9" height="1" opacity="0.09"/><rect x="596.8" y="254.9" width="82.9" height="1" opacity="0.08"/><rect x="596.8" y="255.9" width="82.9" height="1" opacity="0.08"/><rect x="596.8" y="256.9" width="82.9" height="1" opacity="0.08"/><rect x="596.8" y="257.9" width="82.9" height="1" opacity="0.07"/><rect x="596.8" y="258.9" width="82.9" height="1" opacity="0.07"/><rect x="596.8" y="259.9" width="82.9" height="1" opacity="0.05"/><rect x="596.8" y="260.9" width="82.9" height="1" opacity="0.07"/><rect x="596.8" y="261.9" width="82.9" height="1" opacity="0.07"/><rect x="596.8" y="262.9" width="82.9" height="1" opacity="0.07"/><rect x="596.8" y="263.9" width="82.9" height="1" opacity="0.06"/><rect x="596.8" y="264.9" width="82.9" height="1" opacity="0.07"/><rect x="596.8" y="265.9" width="82.9" height="1" opacity="0.07"/><rect x="596.8" y="266.9" width="82.9" height="1" opacity="0.06"/><rect x="596.8" y="267.9" width="82.9" height="1" opacity="0.06"/><rect x="596.8" y="268.9" width="82.9" height="1" opacity="0.06"/><rect x="596.8" y="269.9" width="82.9" height="1" opacity="0.05"/><rect x="596.8" y="270.9" width="82.9" height="1" opacity="0.06"/><rect x="596.8" y="271.9" width="82.9" height="1" opacity="0.04"/><rect x="596.8" y="272.9" width="82.9" height="1" opacity="0.05"/><rect x="596.8" y="273.9" width="82.9" height="1" opacity="0.05"/><rect x="596.8" y="274.9" width="82.9" height="1" opacity="0.03"/><rect x="596.8" y="275.9" width="82.9" height="1" opacity="0.04"/><rect x="596.8" y="276.9" width="82.9" height="1" opacity="0.05"/><rect x="596.8" y="277.9" width="82.9" height="1" opacity="0.04"/><rect x="596.8" y="278.9" width="82.9" height="1" opacity="0.04"/><rect x="596.8" y="279.9" width="82.9" height="1" opacity="0.04"/><rect x="596.8" y="280.9" width="82.9" height="1" opacity="0.04"/><rect x="596.8" y="281.9" width="82.9" height="1" opacity="0.04"/><rect x="596.8" y="282.9" width="82.9" height="1" opacity="0.04"/><rect x="596.8" y="283.9" width="82.9" height="1" opacity="0.04"/><rect x="596.8" y="284.9" width="82.9" height="1" opacity="0.04"/><rect x="596.8" y="285.9" width="82.9" height="1" opacity="0.04"/><rect x="596.8" y="286.9" width="82.9" height="1" opacity="0.04"/><rect x="596.8" y="287.9" width="82.9" height="1" opacity="0.04"/><rect x="596.8" y="288.9" width="82.9" height="1" opacity="0.04"/><rect x="596.8" y="289.9" width="82.9" height="1" opacity="0.04"/><rect x="596.8" y="290.9" width="82.9" height="1" opacity="0.04"/><rect x="596.8" y="291.9" width="82.9" height="1" opacity="0.03"/><rect x="596.8" y="292.9" width="82.9" height="1" opacity="0.03"/><rect x="596.8" y="293.9" width="82.9" height="1" opacity="0.03"/><rect x="596.8" y="294.9" width="82.9" height="1" opacity="0.03"/><rect x="596.8" y="295.9" width="82.9" height="1" opacity="0.02"/><rect x="596.8" y="296.9" width="82.9" height="1" opacity="0.03"/><rect x="596.8" y="297.9" width="82.9" height="1" opacity="0.03"/><rect x="596.8" y="298.9" width="82.9" height="1" opacity="0.03"/><rect x="596.8" y="299.9" width="82.9" height="1" opacity="0.02"/><rect x="596.8" y="300.9" width="82.9" height="1" opacity="0.02"/><rect x="596.8" y="301.9" width="82.9" height="1" opacity="0.03"/><rect x="596.8" y="302.9" width="82.9" height="1" opacity="0.02"/><rect x="596.8" y="303.9" width="82.9" height="1" opacity="0.02"/><rect x="596.8" y="304.9" width="82.9" height="1" opacity="0.03"/><rect x="596.8" y="305.9" width="82.9" height="1" opacity="0.02"/><rect x="596.8" y="306.9" width="82.9" height="1" opacity="0.03"/><rect x="596.8" y="307.9" width="82.9" height="1" opacity="0.02"/><rect x="596.8" y="308.9" width="82.9" height="1" opacity="0.03"/><rect x="596.8" y="309.9" width="82.9" height="1" opacity="0.02"/><rect x="596.8" y="310.9" width="82.9" height="1" opacity="0.02"/><rect x="596.8" y="311.9" width="82.9" height="1" opacity="0.02"/><rect x="596.8" y="312.9" width="82.9" height="1" opacity="0.03"/><rect x="596.8" y="313.9" width="82.9" height="1" opacity="0.02"/><rect x="596.8" y="314.9" width="82.9" height="1" opacity="0.03"/><rect x="596.8" y="315.9" width="82.9" height="1" opacity="0.02"/><rect x="596.8" y="316.9" width="82.9" height="1" opacity="0.02"/><rect x="596.8" y="317.9" width="82.9" height="1" opacity="0.02"/><rect x="596.8" y="318.9" width="82.9" height="1" opacity="0.02"/><rect x="596.8" y="319.9" width="82.9" height="1" opacity="0.02"/><rect x="596.8" y="320.9" width="82.9" height="1" opacity="0.02"/><rect x="596.8" y="321.9" width="82.9" height="1" opacity="0.02"/><rect x="596.8" y="322.9" width="82.9" height="1" opacity="0.02"/><rect x="596.8" y="323.9" width="82.9" height="1" opacity="0.02"/><rect x="596.8" y="324.9" width="82.9" height="1" opacity="0.02"/><rect x="596.8" y="325.9" width="82.9" height="1" opacity="0.03"/><rect x="596.8" y="326.9" width="82.9" height="1" opacity="0.02"/><rect x="596.8" y="327.9" width="82.9" height="1" opacity="0.02"/><rect x="596.8" y="328.9" width="82.9" height="1" opacity="0.03"/><rect x="596.8" y="329.9" width="82.9" height="1" opacity="0.02"/><rect x="596.8" y="330.9" width="82.9" height="1" opacity="0.02"/><rect x="596.8" y="331.9" width="82.9" height="1" opacity="0.02"/><rect x="596.8" y="332.9" width="82.9" height="1" opacity="0.02"/><rect x="596.8" y="333.9" width="82.9" height="1" opacity="0.02"/><rect x="596.8" y="334.9" width="82.9" height="1" opacity="0.02"/><rect x="596.8" y="335.9" width="82.9" height="1" opacity="0.02"/><rect x="596.8" y="336.9" width="82.9" height="1" opacity="0.02"/><rect x="596.8" y="337.9" width="82.9" height="1" opacity="0.02"/><rect x="596.8" y="338.9" width="82.9" height="1" opacity="0.02"/><rect x="596.8" y="339.9" width="82.9" height="1" opacity="0.02"/><rect x="596.8" y="340.9" width="82.9" height="1" opacity="0.02"/><rect x="596.8" y="341.9" width="82.9" height="1" opacity="0.02"/><rect x="596.8" y="342.9" width="82.9" height="1" opacity="0.02"/><rect x="596.8" y="343.9" width="82.9" height="1" opacity="0.02"/><rect x="596.8" y="344.9" width="82.9" height="1" opacity="0.02"/><rect x="596.8" y="345.9" width="82.9" height="1" opacity="0.02"/><rect x="596.8" y="346.9" width="82.9" height="1" opacity="0.02"/><rect x="596.8" y="347.9" width="82.9" height="1" opacity="0.02"/><rect x="596.8" y="348.9" width="82.9" height="1" opacity="0.02"/><rect x="596.8" y="349.9" width="82.9" height="1" opacity="0.02"/><rect x="596.8" y="350.9" width="82.9" height="1" opacity="0.02"/><rect x="596.8" y="351.9" width="82.9" height="1" opacity="0.02"/><rect x="596.8" y="352.9" width="82.9" height="1" opacity="0.02"/><rect x="596.8" y="353.9" width="82.9" height="1" opacity="0.02"/><rect x="596.8" y="354.9" width="82.9" height="1" opacity="0.02"/><rect x="596.8" y="355.9" width="82.9" height="1" opacity="0.02"/><rect x="596.8" y="356.9" width="82.9" height="1" opacity="0.02"/><rect x="596.8" y="357.9" width="82.9" height="1" opacity="0.02"/><rect x="596.8" y="358.9" width="82.9" height="1" opacity="0.02"/><rect x="596.8" y="359.9" width="82.9" height="1" opacity="0.02"/><rect x="596.8" y="360.9" width="82.9" height="1" opacity="0.02"/><rect x="596.8" y="361.9" width="82.9" height="1" opacity="0.02"/><rect x="596.8" y="362.9" width="82.9" height="1" opacity="0.02"/><rect x="596.8" y="363.9" width="82.9" height="1" opacity="0.02"/><rect x="596.8" y="364.9" width="82.9" height="1" opacity="0.02"/><rect x="596.8" y="365.9" width="82.9" height="1" opacity="0.02"/><rect x="596.8" y="366.9" width="82.9" height="1" opacity="0.02"/><rect x="596.8" y="367.9" width="82.9" height="1" opacity="0.02"/><rect x="596.8" y="368.9" width="82.9" height="1" opacity="0.02"/><rect x="596.8" y="369.9" width="82.9" height="1" opacity="0.01"/><rect x="596.8" y="370.9" width="82.9" height="1" opacity="0.02"/><rect x="596.8" y="371.9" width="82.9" height="1" opacity="0.02"/><rect x="596.8" y="372.9" width="82.9" height="1" opacity="0.01"/><rect x="596.8" y="373.9" width="82.9" height="1" opacity="0.02"/><rect x="596.8" y="374.9" width="82.9" height="1" opacity="0.02"/><rect x="596.8" y="375.9" width="82.9" height="1" opacity="0.02"/><rect x="596.8" y="376.9" width="82.9" height="1" opacity="0.02"/><rect x="596.8" y="377.9" width="82.9" height="1" opacity="0.02"/><rect x="596.8" y="379.9" width="82.9" height="1" opacity="0.02"/><rect x="596.8" y="380.9" width="82.9" height="1" opacity="0.01"/></g><g fill="url(#hh)"><rect x="585.47" y="204.9" width="105.86" height="1" opacity="0.39"/><rect x="572.35" y="205.9" width="132.09" height="1" opacity="0.26"/><rect x="571.21" y="206.9" width="134.38" height="1" opacity="0.54"/><rect x="578.43" y="207.9" width="119.94" height="1" opacity="0.34"/><rect x="578.56" y="208.9" width="119.68" height="1" opacity="0.31"/><rect x="586.27" y="209.9" width="104.27" height="1" opacity="0.42"/><rect x="575.68" y="210.9" width="125.43" height="1" opacity="0.30"/><rect x="583.78" y="211.9" width="109.23" height="1" opacity="0.29"/><rect x="586.14" y="212.9" width="104.53" height="1" opacity="0.25"/><rect x="591.92" y="213.9" width="92.95" height="1" opacity="0.45"/><rect x="584.4" y="214.9" width="108" height="1" opacity="0.36"/><rect x="570.36" y="215.9" width="136.07" height="1" opacity="0.30"/><rect x="578.89" y="216.9" width="119.03" height="1" opacity="0.21"/><rect x="587.23" y="217.9" width="102.35" height="1" opacity="0.42"/><rect x="585.16" y="218.9" width="106.49" height="1" opacity="0.20"/><rect x="593.81" y="219.9" width="89.17" height="1" opacity="0.38"/><rect x="590.19" y="220.9" width="96.41" height="1" opacity="0.42"/><rect x="582.75" y="221.9" width="111.3" height="1" opacity="0.32"/><rect x="585.29" y="222.9" width="106.22" height="1" opacity="0.43"/><rect x="585" y="223.9" width="106.79" height="1" opacity="0.25"/><rect x="583.46" y="224.9" width="109.88" height="1" opacity="0.31"/><rect x="587.35" y="225.9" width="102.1" height="1" opacity="0.41"/><rect x="584.22" y="226.9" width="108.37" height="1" opacity="0.45"/><rect x="587.8" y="227.9" width="101.21" height="1" opacity="0.30"/><rect x="589.22" y="228.9" width="98.36" height="1" opacity="0.39"/><rect x="592.49" y="229.9" width="91.82" height="1" opacity="0.31"/><rect x="593.17" y="230.9" width="90.46" height="1" opacity="0.27"/><rect x="589.69" y="231.9" width="97.42" height="1" opacity="0.60"/><rect x="591.36" y="232.9" width="94.08" height="1" opacity="0.38"/><rect x="589.08" y="233.9" width="98.63" height="1" opacity="0.33"/><rect x="589.95" y="234.9" width="96.9" height="1" opacity="0.55"/><rect x="592.09" y="235.9" width="92.63" height="1" opacity="0.51"/><rect x="587.51" y="236.9" width="101.77" height="1" opacity="0.26"/><rect x="595.18" y="237.9" width="86.44" height="1" opacity="0.30"/><rect x="598.01" y="238.9" width="80.77" height="1" opacity="0.47"/><rect x="590.39" y="239.9" width="96.01" height="1" opacity="0.40"/><rect x="598.56" y="240.9" width="79.68" height="1" opacity="0.39"/><rect x="596.42" y="241.9" width="83.95" height="1" opacity="0.59"/><rect x="594.58" y="242.9" width="87.64" height="1" opacity="0.37"/><rect x="592.48" y="243.9" width="91.84" height="1" opacity="0.29"/><rect x="597.08" y="244.9" width="82.63" height="1" opacity="0.30"/><rect x="591.34" y="245.9" width="94.12" height="1" opacity="0.26"/><rect x="596.9" y="246.9" width="83.01" height="1" opacity="0.36"/><rect x="598.6" y="247.9" width="79.59" height="1" opacity="0.20"/><rect x="602.86" y="248.9" width="71.07" height="1" opacity="0.29"/><rect x="602.22" y="249.9" width="72.35" height="1" opacity="0.41"/><rect x="598.05" y="250.9" width="80.71" height="1" opacity="0.32"/><rect x="603.31" y="251.9" width="70.17" height="1" opacity="0.37"/><rect x="600.77" y="252.9" width="75.26" height="1" opacity="0.23"/><rect x="602.53" y="253.9" width="71.75" height="1" opacity="0.53"/><rect x="602.85" y="254.9" width="71.09" height="1" opacity="0.23"/><rect x="595.56" y="255.9" width="85.68" height="1" opacity="0.37"/><rect x="602.39" y="256.9" width="72.03" height="1" opacity="0.43"/><rect x="607.93" y="257.9" width="60.94" height="1" opacity="0.26"/><rect x="609.09" y="258.9" width="58.62" height="1" opacity="0.42"/><rect x="602.46" y="259.9" width="71.88" height="1" opacity="0.52"/><rect x="601.2" y="260.9" width="74.4" height="1" opacity="0.34"/><rect x="608.15" y="261.9" width="60.49" height="1" opacity="0.19"/><rect x="606" y="262.9" width="64.81" height="1" opacity="0.36"/><rect x="608.65" y="263.9" width="59.49" height="1" opacity="0.08"/><rect x="601.69" y="264.9" width="73.42" height="1" opacity="0.35"/><rect x="609.04" y="265.9" width="58.73" height="1" opacity="0.31"/><rect x="601.71" y="266.9" width="73.38" height="1" opacity="0.37"/><rect x="612.33" y="267.9" width="52.13" height="1" opacity="0.27"/><rect x="609.78" y="268.9" width="57.24" height="1" opacity="0.34"/><rect x="607.06" y="269.9" width="62.69" height="1" opacity="0.17"/><rect x="607.49" y="270.9" width="61.82" height="1" opacity="0.30"/><rect x="613.84" y="271.9" width="49.13" height="1" opacity="0.15"/><rect x="611.18" y="272.9" width="54.45" height="1" opacity="0.23"/><rect x="611.23" y="273.9" width="54.35" height="1" opacity="0.11"/><rect x="615.05" y="274.9" width="46.69" height="1" opacity="0.24"/><rect x="608.8" y="275.9" width="59.21" height="1" opacity="0.18"/><rect x="610.07" y="276.9" width="56.67" height="1" opacity="0.38"/><rect x="611.73" y="277.9" width="53.35" height="1" opacity="0.21"/><rect x="613.72" y="278.9" width="49.36" height="1" opacity="0.27"/><rect x="611.11" y="279.9" width="54.59" height="1" opacity="0.25"/><rect x="613.26" y="280.9" width="50.27" height="1" opacity="0.26"/><rect x="611.09" y="281.9" width="54.62" height="1" opacity="0.22"/><rect x="609.12" y="282.9" width="58.56" height="1" opacity="0.12"/><rect x="610.77" y="283.9" width="55.25" height="1" opacity="0.22"/><rect x="610.69" y="284.9" width="55.42" height="1" opacity="0.35"/><rect x="613.33" y="285.9" width="50.15" height="1" opacity="0.21"/><rect x="613.81" y="286.9" width="49.18" height="1" opacity="0.31"/><rect x="609.59" y="287.9" width="57.62" height="1" opacity="0.23"/><rect x="612.47" y="288.9" width="51.87" height="1" opacity="0.34"/><rect x="613.07" y="289.9" width="50.66" height="1" opacity="0.12"/><rect x="617.13" y="290.9" width="42.54" height="1" opacity="0.19"/><rect x="614.07" y="291.9" width="48.66" height="1" opacity="0.18"/><rect x="611.67" y="292.9" width="53.45" height="1" opacity="0.18"/><rect x="611.53" y="293.9" width="53.75" height="1" opacity="0.17"/><rect x="612.45" y="294.9" width="51.89" height="1" opacity="0.22"/><rect x="612.58" y="295.9" width="51.63" height="1" opacity="0.33"/><rect x="612.07" y="296.9" width="52.66" height="1" opacity="0.27"/><rect x="618.75" y="297.9" width="39.3" height="1" opacity="0.16"/><rect x="625.1" y="298.9" width="26.6" height="1" opacity="0.29"/><rect x="614.28" y="299.9" width="48.25" height="1" opacity="0.26"/><rect x="620.4" y="300.9" width="35.99" height="1" opacity="0.36"/><rect x="619.49" y="301.9" width="37.82" height="1" opacity="0.25"/><rect x="621.97" y="302.9" width="32.86" height="1" opacity="0.16"/><rect x="615.43" y="303.9" width="45.94" height="1" opacity="0.26"/><rect x="621.1" y="304.9" width="34.61" height="1" opacity="0.19"/><rect x="616.22" y="305.9" width="44.35" height="1" opacity="0.09"/><rect x="617.31" y="306.9" width="42.19" height="1" opacity="0.11"/><rect x="617.89" y="307.9" width="41.02" height="1" opacity="0.18"/><rect x="617.37" y="308.9" width="42.05" height="1" opacity="0.16"/><rect x="620.6" y="309.9" width="35.6" height="1" opacity="0.17"/><rect x="622.17" y="310.9" width="32.45" height="1" opacity="0.17"/><rect x="622.54" y="311.9" width="31.71" height="1" opacity="0.15"/><rect x="619.19" y="312.9" width="38.43" height="1" opacity="0.16"/><rect x="618.64" y="313.9" width="39.52" height="1" opacity="0.22"/><rect x="619.42" y="314.9" width="37.96" height="1" opacity="0.12"/><rect x="620.53" y="315.9" width="35.75" height="1" opacity="0.25"/><rect x="619.8" y="316.9" width="37.21" height="1" opacity="0.24"/><rect x="618.85" y="317.9" width="39.09" height="1" opacity="0.09"/><rect x="620.99" y="318.9" width="34.83" height="1" opacity="0.20"/><rect x="622.71" y="319.9" width="31.38" height="1" opacity="0.10"/><rect x="622.3" y="320.9" width="32.19" height="1" opacity="0.16"/><rect x="619.2" y="321.9" width="38.41" height="1" opacity="0.23"/><rect x="623.81" y="322.9" width="29.17" height="1" opacity="0.11"/><rect x="624.83" y="323.9" width="27.14" height="1" opacity="0.16"/><rect x="624.83" y="324.9" width="27.14" height="1" opacity="0.26"/><rect x="625.87" y="325.9" width="25.07" height="1" opacity="0.16"/><rect x="623.78" y="326.9" width="29.24" height="1" opacity="0.18"/><rect x="625.83" y="327.9" width="25.15" height="1" opacity="0.15"/><rect x="624.2" y="328.9" width="28.39" height="1" opacity="0.17"/><rect x="625.69" y="329.9" width="25.42" height="1" opacity="0.14"/><rect x="624.63" y="330.9" width="27.54" height="1" opacity="0.24"/><rect x="627.1" y="331.9" width="22.59" height="1" opacity="0.18"/><rect x="623.02" y="332.9" width="30.77" height="1" opacity="0.09"/><rect x="623.48" y="333.9" width="29.84" height="1" opacity="0.21"/><rect x="625.79" y="334.9" width="25.22" height="1" opacity="0.19"/><rect x="623.95" y="335.9" width="28.91" height="1" opacity="0.14"/><rect x="625.99" y="336.9" width="24.81" height="1" opacity="0.10"/><rect x="627.51" y="337.9" width="21.78" height="1" opacity="0.15"/><rect x="626.89" y="338.9" width="23.02" height="1" opacity="0.22"/><rect x="627.29" y="339.9" width="22.23" height="1" opacity="0.10"/><rect x="626.04" y="340.9" width="24.71" height="1" opacity="0.19"/><rect x="626.93" y="341.9" width="22.94" height="1" opacity="0.14"/><rect x="628.67" y="342.9" width="19.46" height="1" opacity="0.12"/><rect x="626.02" y="343.9" width="24.76" height="1" opacity="0.18"/><rect x="628.01" y="344.9" width="20.79" height="1" opacity="0.16"/><rect x="628.77" y="345.9" width="19.26" height="1" opacity="0.11"/><rect x="629.14" y="346.9" width="18.52" height="1" opacity="0.14"/><rect x="630.69" y="347.9" width="15.43" height="1" opacity="0.08"/><rect x="630.98" y="348.9" width="14.84" height="1" opacity="0.12"/><rect x="628.67" y="349.9" width="19.47" height="1" opacity="0.09"/><rect x="630.76" y="350.9" width="15.28" height="1" opacity="0.07"/><rect x="630.29" y="351.9" width="16.22" height="1" opacity="0.09"/><rect x="631.05" y="352.9" width="14.69" height="1" opacity="0.09"/><rect x="628.12" y="353.9" width="20.55" height="1" opacity="0.13"/><rect x="631.14" y="354.9" width="14.52" height="1" opacity="0.12"/><rect x="629.97" y="355.9" width="16.86" height="1" opacity="0.17"/><rect x="630.75" y="356.9" width="15.29" height="1" opacity="0.06"/><rect x="630.38" y="357.9" width="16.05" height="1" opacity="0.18"/><rect x="630.8" y="358.9" width="15.19" height="1" opacity="0.15"/><rect x="631.61" y="359.9" width="13.57" height="1" opacity="0.18"/><rect x="632.14" y="360.9" width="12.53" height="1" opacity="0.17"/><rect x="632.49" y="361.9" width="11.83" height="1" opacity="0.12"/><rect x="632.68" y="362.9" width="11.45" height="1" opacity="0.11"/><rect x="632.93" y="363.9" width="10.95" height="1" opacity="0.16"/><rect x="631.78" y="364.9" width="13.23" height="1" opacity="0.10"/><rect x="633.71" y="365.9" width="9.38" height="1" opacity="0.18"/><rect x="633.48" y="366.9" width="9.84" height="1" opacity="0.14"/><rect x="633.42" y="367.9" width="9.96" height="1" opacity="0.16"/><rect x="634.23" y="368.9" width="8.35" height="1" opacity="0.17"/><rect x="633.55" y="369.9" width="9.71" height="1" opacity="0.04"/><rect x="634.28" y="370.9" width="8.25" height="1" opacity="0.11"/><rect x="634.25" y="371.9" width="8.31" height="1" opacity="0.12"/><rect x="634.99" y="372.9" width="6.82" height="1" opacity="0.11"/><rect x="634.74" y="373.9" width="7.32" height="1" opacity="0.13"/><rect x="635.18" y="374.9" width="6.45" height="1" opacity="0.20"/><rect x="635.15" y="375.9" width="6.49" height="1" opacity="0.08"/><rect x="635.53" y="376.9" width="5.73" height="1" opacity="0.13"/><rect x="636.11" y="377.9" width="4.58" height="1" opacity="0.13"/><rect x="636.27" y="378.9" width="4.26" height="1" opacity="0.04"/><rect x="636.18" y="379.9" width="4.45" height="1" opacity="0.14"/><rect x="636.25" y="380.9" width="4.29" height="1" opacity="0.11"/></g><g fill="url(#hc)"><rect x="591.46" y="204.9" width="93.89" height="1" opacity="0.98"/><rect x="586.66" y="205.9" width="103.48" height="1" opacity="1.00"/><rect x="582.43" y="206.9" width="111.93" height="1" opacity="1.00"/><rect x="592.02" y="207.9" width="92.76" height="1" opacity="0.94"/><rect x="596.23" y="208.9" width="84.33" height="1" opacity="1.00"/><rect x="586.85" y="209.9" width="103.09" height="1" opacity="1.00"/><rect x="587.53" y="210.9" width="101.74" height="1" opacity="1.00"/><rect x="593.41" y="211.9" width="89.97" height="1" opacity="0.99"/><rect x="591.5" y="212.9" width="93.79" height="1" opacity="0.92"/><rect x="598.93" y="213.9" width="78.94" height="1" opacity="0.85"/><rect x="600.19" y="214.9" width="76.43" height="1" opacity="0.90"/><rect x="594.35" y="215.9" width="88.09" height="1" opacity="0.96"/><rect x="599.84" y="216.9" width="77.11" height="1" opacity="0.87"/><rect x="592.81" y="217.9" width="91.18" height="1" opacity="0.64"/><rect x="584.37" y="218.9" width="108.06" height="1" opacity="1.00"/><rect x="595.68" y="219.9" width="85.44" height="1" opacity="1.00"/><rect x="586.25" y="220.9" width="104.29" height="1" opacity="0.61"/><rect x="594.42" y="221.9" width="87.97" height="1" opacity="0.85"/><rect x="594.13" y="222.9" width="88.53" height="1" opacity="0.81"/><rect x="596.69" y="223.9" width="83.42" height="1" opacity="0.94"/><rect x="607.15" y="224.9" width="62.5" height="1" opacity="0.94"/><rect x="592.44" y="225.9" width="91.91" height="1" opacity="0.94"/><rect x="594.84" y="226.9" width="87.12" height="1" opacity="1.00"/><rect x="599.44" y="227.9" width="77.92" height="1" opacity="0.97"/><rect x="600.27" y="228.9" width="76.26" height="1" opacity="0.86"/><rect x="594.79" y="229.9" width="87.21" height="1" opacity="0.97"/><rect x="601.77" y="230.9" width="73.26" height="1" opacity="1.00"/><rect x="599.62" y="231.9" width="77.56" height="1" opacity="0.74"/><rect x="608.82" y="232.9" width="59.15" height="1" opacity="0.93"/><rect x="604.71" y="233.9" width="67.37" height="1" opacity="0.76"/><rect x="611.52" y="234.9" width="53.77" height="1" opacity="1.00"/><rect x="606.02" y="235.9" width="64.77" height="1" opacity="0.87"/><rect x="609.94" y="236.9" width="56.91" height="1" opacity="0.82"/><rect x="613.34" y="237.9" width="50.11" height="1" opacity="0.79"/><rect x="610.49" y="238.9" width="55.82" height="1" opacity="0.87"/><rect x="609.18" y="239.9" width="58.44" height="1" opacity="0.73"/><rect x="616.78" y="240.9" width="43.24" height="1" opacity="0.96"/><rect x="615.37" y="241.9" width="46.05" height="1" opacity="0.85"/><rect x="613.53" y="242.9" width="49.74" height="1" opacity="0.73"/><rect x="617.93" y="243.9" width="40.95" height="1" opacity="0.92"/><rect x="621.24" y="244.9" width="34.32" height="1" opacity="0.97"/><rect x="619.53" y="245.9" width="37.75" height="1" opacity="0.99"/><rect x="615.35" y="246.9" width="46.11" height="1" opacity="0.92"/><rect x="615.56" y="247.9" width="45.67" height="1" opacity="0.91"/><rect x="620.14" y="248.9" width="36.52" height="1" opacity="0.99"/><rect x="617.49" y="249.9" width="41.82" height="1" opacity="0.95"/><rect x="618.45" y="250.9" width="39.9" height="1" opacity="0.85"/><rect x="616.79" y="251.9" width="43.22" height="1" opacity="1.00"/><rect x="618.6" y="252.9" width="39.6" height="1" opacity="0.73"/><rect x="621.25" y="253.9" width="34.3" height="1" opacity="0.76"/><rect x="617.84" y="254.9" width="41.12" height="1" opacity="0.94"/><rect x="620.19" y="255.9" width="36.42" height="1" opacity="0.86"/><rect x="622.03" y="256.9" width="32.74" height="1" opacity="0.98"/><rect x="622.94" y="257.9" width="30.92" height="1" opacity="0.78"/><rect x="620.16" y="258.9" width="36.48" height="1" opacity="0.96"/><rect x="622.01" y="259.9" width="32.77" height="1" opacity="0.72"/><rect x="624.14" y="260.9" width="28.52" height="1" opacity="0.98"/><rect x="621.68" y="261.9" width="33.44" height="1" opacity="1.00"/><rect x="623.21" y="262.9" width="30.38" height="1" opacity="0.87"/><rect x="624.13" y="263.9" width="28.54" height="1" opacity="1.00"/><rect x="625.45" y="264.9" width="25.9" height="1" opacity="0.95"/><rect x="620.6" y="265.9" width="35.61" height="1" opacity="0.76"/><rect x="625.41" y="266.9" width="25.97" height="1" opacity="0.75"/><rect x="625.56" y="267.9" width="25.67" height="1" opacity="0.92"/><rect x="623.79" y="268.9" width="29.22" height="1" opacity="0.76"/><rect x="624.26" y="269.9" width="28.27" height="1" opacity="1.00"/><rect x="624.41" y="270.9" width="27.97" height="1" opacity="0.82"/><rect x="621.53" y="271.9" width="33.75" height="1" opacity="0.76"/><rect x="625.11" y="272.9" width="26.59" height="1" opacity="1.00"/><rect x="624.62" y="273.9" width="27.57" height="1" opacity="0.64"/><rect x="626.05" y="274.9" width="24.71" height="1" opacity="0.59"/><rect x="625.95" y="275.9" width="24.9" height="1" opacity="0.90"/><rect x="627.45" y="276.9" width="21.9" height="1" opacity="1.00"/><rect x="623.88" y="277.9" width="29.05" height="1" opacity="0.96"/><rect x="626.63" y="278.9" width="23.53" height="1" opacity="0.86"/><rect x="625.19" y="279.9" width="26.42" height="1" opacity="0.97"/><rect x="624.45" y="280.9" width="27.89" height="1" opacity="0.60"/><rect x="627.06" y="281.9" width="22.69" height="1" opacity="0.72"/><rect x="626.75" y="282.9" width="23.31" height="1" opacity="0.88"/><rect x="623.75" y="283.9" width="29.31" height="1" opacity="0.84"/><rect x="625.57" y="284.9" width="25.66" height="1" opacity="0.87"/><rect x="626.83" y="285.9" width="23.14" height="1" opacity="1.00"/><rect x="628.21" y="286.9" width="20.37" height="1" opacity="0.93"/><rect x="624.73" y="287.9" width="27.34" height="1" opacity="1.00"/><rect x="627.81" y="288.9" width="21.18" height="1" opacity="0.74"/><rect x="628.77" y="289.9" width="19.25" height="1" opacity="0.80"/><rect x="627.53" y="290.9" width="21.73" height="1" opacity="0.85"/><rect x="626.47" y="291.9" width="23.86" height="1" opacity="0.81"/><rect x="627.5" y="292.9" width="21.8" height="1" opacity="0.65"/><rect x="628.68" y="293.9" width="19.43" height="1" opacity="0.83"/><rect x="630.58" y="294.9" width="15.63" height="1" opacity="0.86"/><rect x="627.4" y="295.9" width="22.01" height="1" opacity="0.86"/><rect x="628.23" y="296.9" width="20.35" height="1" opacity="0.85"/><rect x="629.77" y="297.9" width="17.26" height="1" opacity="0.85"/><rect x="629.29" y="298.9" width="18.22" height="1" opacity="0.86"/><rect x="628.81" y="299.9" width="19.17" height="1" opacity="0.86"/><rect x="630.26" y="300.9" width="16.28" height="1" opacity="0.84"/><rect x="627.51" y="301.9" width="21.77" height="1" opacity="0.95"/><rect x="629.49" y="302.9" width="17.82" height="1" opacity="0.75"/><rect x="628.51" y="303.9" width="19.78" height="1" opacity="0.84"/><rect x="631.12" y="304.9" width="14.55" height="1" opacity="0.78"/><rect x="628.19" y="305.9" width="20.41" height="1" opacity="0.64"/><rect x="629.75" y="306.9" width="17.29" height="1" opacity="0.74"/><rect x="630" y="307.9" width="16.8" height="1" opacity="0.78"/><rect x="630.82" y="308.9" width="15.16" height="1" opacity="0.53"/><rect x="630.39" y="309.9" width="16.01" height="1" opacity="0.83"/><rect x="630.46" y="310.9" width="15.89" height="1" opacity="0.70"/><rect x="630.97" y="311.9" width="14.85" height="1" opacity="1.00"/><rect x="631.5" y="312.9" width="13.8" height="1" opacity="0.78"/><rect x="631.71" y="313.9" width="13.38" height="1" opacity="0.79"/><rect x="630.68" y="314.9" width="15.44" height="1" opacity="0.96"/><rect x="630.83" y="315.9" width="15.14" height="1" opacity="0.82"/><rect x="630.86" y="316.9" width="15.08" height="1" opacity="0.88"/><rect x="631.28" y="317.9" width="14.24" height="1" opacity="0.81"/><rect x="630.51" y="318.9" width="15.78" height="1" opacity="0.73"/><rect x="631.57" y="319.9" width="13.67" height="1" opacity="0.70"/><rect x="631.99" y="320.9" width="12.81" height="1" opacity="0.98"/><rect x="632.24" y="321.9" width="12.31" height="1" opacity="0.87"/><rect x="630.51" y="322.9" width="15.78" height="1" opacity="0.87"/><rect x="632.13" y="323.9" width="12.53" height="1" opacity="0.72"/><rect x="633.77" y="324.9" width="9.26" height="1" opacity="0.69"/><rect x="632.86" y="325.9" width="11.07" height="1" opacity="0.91"/><rect x="632" y="326.9" width="12.8" height="1" opacity="0.65"/><rect x="632.19" y="327.9" width="12.43" height="1" opacity="0.72"/><rect x="631.62" y="328.9" width="13.55" height="1" opacity="0.96"/><rect x="632.43" y="329.9" width="11.95" height="1" opacity="0.75"/><rect x="631.95" y="330.9" width="12.9" height="1" opacity="0.90"/><rect x="632.42" y="331.9" width="11.96" height="1" opacity="0.86"/><rect x="633.28" y="332.9" width="10.23" height="1" opacity="0.89"/><rect x="633.66" y="333.9" width="9.48" height="1" opacity="0.88"/><rect x="633.22" y="334.9" width="10.36" height="1" opacity="0.61"/><rect x="633.16" y="335.9" width="10.48" height="1" opacity="0.78"/><rect x="633.69" y="336.9" width="9.43" height="1" opacity="0.77"/><rect x="633.21" y="337.9" width="10.38" height="1" opacity="0.65"/><rect x="634.19" y="338.9" width="8.43" height="1" opacity="0.85"/><rect x="633.68" y="339.9" width="9.44" height="1" opacity="0.58"/><rect x="633.8" y="340.9" width="9.19" height="1" opacity="0.58"/><rect x="633.64" y="341.9" width="9.52" height="1" opacity="0.79"/><rect x="633.83" y="342.9" width="9.14" height="1" opacity="0.59"/><rect x="634.47" y="343.9" width="7.85" height="1" opacity="0.84"/><rect x="634.82" y="344.9" width="7.16" height="1" opacity="0.80"/><rect x="634.41" y="345.9" width="7.98" height="1" opacity="0.76"/><rect x="634.74" y="346.9" width="7.31" height="1" opacity="0.80"/><rect x="634.34" y="347.9" width="8.11" height="1" opacity="0.82"/><rect x="633.63" y="348.9" width="9.54" height="1" opacity="0.71"/><rect x="634.64" y="349.9" width="7.51" height="1" opacity="0.62"/><rect x="634.11" y="350.9" width="8.57" height="1" opacity="0.69"/><rect x="634.56" y="351.9" width="7.67" height="1" opacity="0.61"/><rect x="635.02" y="352.9" width="6.77" height="1" opacity="0.78"/><rect x="634.85" y="353.9" width="7.1" height="1" opacity="0.69"/><rect x="634.8" y="354.9" width="7.2" height="1" opacity="0.73"/><rect x="634.84" y="355.9" width="7.12" height="1" opacity="0.69"/><rect x="635.06" y="356.9" width="6.67" height="1" opacity="0.66"/><rect x="634.96" y="357.9" width="6.87" height="1" opacity="0.71"/><rect x="635.42" y="358.9" width="5.95" height="1" opacity="0.65"/><rect x="635.26" y="359.9" width="6.29" height="1" opacity="0.71"/><rect x="635.74" y="360.9" width="5.33" height="1" opacity="0.80"/><rect x="636" y="361.9" width="4.79" height="1" opacity="0.75"/><rect x="635.57" y="362.9" width="5.67" height="1" opacity="0.49"/><rect x="635.86" y="363.9" width="5.08" height="1" opacity="0.67"/><rect x="636.16" y="364.9" width="4.49" height="1" opacity="0.64"/><rect x="636.58" y="365.9" width="3.63" height="1" opacity="0.63"/><rect x="636.42" y="366.9" width="3.96" height="1" opacity="0.45"/><rect x="636.63" y="367.9" width="3.54" height="1" opacity="0.46"/><rect x="636.71" y="368.9" width="3.39" height="1" opacity="0.47"/><rect x="636.84" y="369.9" width="3.13" height="1" opacity="0.41"/><rect x="637.06" y="370.9" width="2.68" height="1" opacity="0.47"/><rect x="637.14" y="371.9" width="2.51" height="1" opacity="0.56"/><rect x="636.99" y="372.9" width="2.81" height="1" opacity="0.36"/><rect x="637.29" y="373.9" width="2.22" height="1" opacity="0.43"/><rect x="637.53" y="374.9" width="1.74" height="1" opacity="0.41"/><rect x="637.65" y="375.9" width="1.51" height="1" opacity="0.41"/><rect x="637.71" y="376.9" width="1.38" height="1" opacity="0.47"/><rect x="637.87" y="377.9" width="1.05" height="1" opacity="0.38"/><rect x="638" y="378.9" width="0.8" height="1" opacity="0.38"/><rect x="638.15" y="379.9" width="0.51" height="1" opacity="0.27"/></g></g>
<rect x="596.1" y="204.2" width="84.3" height="177.8" fill="none" stroke="#231f20" stroke-width="1.5"/>
<g clip-path="url(#hm23)"><g fill="#faa800"><rect x="506" y="385.2" width="83.2" height="1" opacity="0.53"/><rect x="506" y="386.2" width="83.2" height="1" opacity="0.43"/><rect x="506" y="387.2" width="83.2" height="1" opacity="0.27"/><rect x="506" y="388.2" width="83.2" height="1" opacity="0.11"/><rect x="506" y="389.2" width="83.2" height="1" opacity="0.11"/><rect x="506" y="390.2" width="83.2" height="1" opacity="0.06"/><rect x="506" y="391.2" width="83.2" height="1" opacity="0.06"/><rect x="506" y="392.2" width="83.2" height="1" opacity="0.05"/><rect x="506" y="393.2" width="83.2" height="1" opacity="0.05"/><rect x="506" y="394.2" width="83.2" height="1" opacity="0.05"/><rect x="506" y="395.2" width="83.2" height="1" opacity="0.04"/><rect x="506" y="396.2" width="83.2" height="1" opacity="0.03"/><rect x="506" y="397.2" width="83.2" height="1" opacity="0.03"/><rect x="506" y="398.2" width="83.2" height="1" opacity="0.03"/><rect x="506" y="399.2" width="83.2" height="1" opacity="0.02"/><rect x="506" y="400.2" width="83.2" height="1" opacity="0.02"/><rect x="506" y="401.2" width="83.2" height="1" opacity="0.02"/><rect x="506" y="402.2" width="83.2" height="1" opacity="0.02"/><rect x="506" y="403.2" width="83.2" height="1" opacity="0.02"/><rect x="506" y="404.2" width="83.2" height="1" opacity="0.03"/><rect x="506" y="405.2" width="83.2" height="1" opacity="0.02"/><rect x="506" y="406.2" width="83.2" height="1" opacity="0.02"/><rect x="506" y="407.2" width="83.2" height="1" opacity="0.02"/><rect x="506" y="408.2" width="83.2" height="1" opacity="0.02"/><rect x="506" y="409.2" width="83.2" height="1" opacity="0.02"/><rect x="506" y="410.2" width="83.2" height="1" opacity="0.02"/><rect x="506" y="411.2" width="83.2" height="1" opacity="0.03"/><rect x="506" y="412.2" width="83.2" height="1" opacity="0.02"/><rect x="506" y="413.2" width="83.2" height="1" opacity="0.02"/><rect x="506" y="414.2" width="83.2" height="1" opacity="0.03"/><rect x="506" y="415.2" width="83.2" height="1" opacity="0.02"/><rect x="506" y="416.2" width="83.2" height="1" opacity="0.02"/><rect x="506" y="417.2" width="83.2" height="1" opacity="0.02"/><rect x="506" y="418.2" width="83.2" height="1" opacity="0.03"/><rect x="506" y="419.2" width="83.2" height="1" opacity="0.03"/><rect x="506" y="420.2" width="83.2" height="1" opacity="0.02"/><rect x="506" y="421.2" width="83.2" height="1" opacity="0.03"/><rect x="506" y="422.2" width="83.2" height="1" opacity="0.02"/><rect x="506" y="423.2" width="83.2" height="1" opacity="0.02"/><rect x="506" y="424.2" width="83.2" height="1" opacity="0.02"/><rect x="506" y="425.2" width="83.2" height="1" opacity="0.03"/><rect x="506" y="426.2" width="83.2" height="1" opacity="0.02"/><rect x="506" y="427.2" width="83.2" height="1" opacity="0.02"/><rect x="506" y="428.2" width="83.2" height="1" opacity="0.02"/><rect x="506" y="429.2" width="83.2" height="1" opacity="0.03"/><rect x="506" y="430.2" width="83.2" height="1" opacity="0.03"/><rect x="506" y="431.2" width="83.2" height="1" opacity="0.02"/><rect x="506" y="432.2" width="83.2" height="1" opacity="0.02"/><rect x="506" y="433.2" width="83.2" height="1" opacity="0.03"/><rect x="506" y="434.2" width="83.2" height="1" opacity="0.02"/><rect x="506" y="435.2" width="83.2" height="1" opacity="0.02"/><rect x="506" y="436.2" width="83.2" height="1" opacity="0.02"/><rect x="506" y="437.2" width="83.2" height="1" opacity="0.02"/><rect x="506" y="438.2" width="83.2" height="1" opacity="0.02"/><rect x="506" y="439.2" width="83.2" height="1" opacity="0.02"/><rect x="506" y="440.2" width="83.2" height="1" opacity="0.02"/><rect x="506" y="441.2" width="83.2" height="1" opacity="0.02"/><rect x="506" y="442.2" width="83.2" height="1" opacity="0.02"/><rect x="506" y="443.2" width="83.2" height="1" opacity="0.02"/><rect x="506" y="444.2" width="83.2" height="1" opacity="0.02"/><rect x="506" y="445.2" width="83.2" height="1" opacity="0.02"/><rect x="506" y="446.2" width="83.2" height="1" opacity="0.02"/><rect x="506" y="447.2" width="83.2" height="1" opacity="0.02"/><rect x="506" y="448.2" width="83.2" height="1" opacity="0.02"/><rect x="506" y="449.2" width="83.2" height="1" opacity="0.03"/><rect x="506" y="450.2" width="83.2" height="1" opacity="0.02"/><rect x="506" y="451.2" width="83.2" height="1" opacity="0.03"/><rect x="506" y="452.2" width="83.2" height="1" opacity="0.02"/><rect x="506" y="453.2" width="83.2" height="1" opacity="0.02"/><rect x="506" y="454.2" width="83.2" height="1" opacity="0.02"/><rect x="506" y="456.2" width="83.2" height="1" opacity="0.02"/><rect x="506" y="457.2" width="83.2" height="1" opacity="0.02"/><rect x="506" y="458.2" width="83.2" height="1" opacity="0.02"/><rect x="506" y="459.2" width="83.2" height="1" opacity="0.01"/><rect x="506" y="460.2" width="83.2" height="1" opacity="0.02"/><rect x="506" y="461.2" width="83.2" height="1" opacity="0.02"/><rect x="506" y="462.2" width="83.2" height="1" opacity="0.02"/><rect x="506" y="463.2" width="83.2" height="1" opacity="0.02"/><rect x="506" y="464.2" width="83.2" height="1" opacity="0.02"/><rect x="506" y="465.2" width="83.2" height="1" opacity="0.02"/><rect x="506" y="466.2" width="83.2" height="1" opacity="0.02"/><rect x="506" y="467.2" width="83.2" height="1" opacity="0.02"/><rect x="506" y="468.2" width="83.2" height="1" opacity="0.02"/><rect x="506" y="469.2" width="83.2" height="1" opacity="0.02"/><rect x="506" y="470.2" width="83.2" height="1" opacity="0.02"/><rect x="506" y="471.2" width="83.2" height="1" opacity="0.02"/><rect x="506" y="472.2" width="83.2" height="1" opacity="0.02"/><rect x="506" y="473.2" width="83.2" height="1" opacity="0.02"/><rect x="506" y="474.2" width="83.2" height="1" opacity="0.02"/><rect x="506" y="475.2" width="83.2" height="1" opacity="0.02"/><rect x="506" y="476.2" width="83.2" height="1" opacity="0.02"/><rect x="506" y="477.2" width="83.2" height="1" opacity="0.02"/><rect x="506" y="478.2" width="83.2" height="1" opacity="0.02"/><rect x="506" y="479.2" width="83.2" height="1" opacity="0.02"/><rect x="506" y="480.2" width="83.2" height="1" opacity="0.02"/><rect x="506" y="481.2" width="83.2" height="1" opacity="0.02"/><rect x="506" y="482.2" width="83.2" height="1" opacity="0.02"/><rect x="506" y="483.2" width="83.2" height="1" opacity="0.02"/><rect x="506" y="484.2" width="83.2" height="1" opacity="0.02"/><rect x="506" y="485.2" width="83.2" height="1" opacity="0.02"/><rect x="506" y="486.2" width="83.2" height="1" opacity="0.02"/><rect x="506" y="487.2" width="83.2" height="1" opacity="0.02"/><rect x="506" y="488.2" width="83.2" height="1" opacity="0.02"/><rect x="506" y="489.2" width="83.2" height="1" opacity="0.02"/><rect x="506" y="490.2" width="83.2" height="1" opacity="0.02"/><rect x="506" y="491.2" width="83.2" height="1" opacity="0.02"/><rect x="506" y="492.2" width="83.2" height="1" opacity="0.02"/><rect x="506" y="493.2" width="83.2" height="1" opacity="0.02"/><rect x="506" y="494.2" width="83.2" height="1" opacity="0.02"/><rect x="506" y="495.2" width="83.2" height="1" opacity="0.02"/><rect x="506" y="496.2" width="83.2" height="1" opacity="0.02"/><rect x="506" y="497.2" width="83.2" height="1" opacity="0.02"/><rect x="506" y="498.2" width="83.2" height="1" opacity="0.02"/><rect x="506" y="499.2" width="83.2" height="1" opacity="0.02"/><rect x="506" y="500.2" width="83.2" height="1" opacity="0.02"/><rect x="506" y="501.2" width="83.2" height="1" opacity="0.02"/><rect x="506" y="502.2" width="83.2" height="1" opacity="0.02"/><rect x="506" y="503.2" width="83.2" height="1" opacity="0.02"/><rect x="506" y="504.2" width="83.2" height="1" opacity="0.02"/><rect x="506" y="505.2" width="83.2" height="1" opacity="0.02"/><rect x="506" y="506.2" width="83.2" height="1" opacity="0.02"/><rect x="506" y="507.2" width="83.2" height="1" opacity="0.02"/><rect x="506" y="508.2" width="83.2" height="1" opacity="0.02"/><rect x="506" y="509.2" width="83.2" height="1" opacity="0.02"/><rect x="506" y="510.2" width="83.2" height="1" opacity="0.02"/><rect x="506" y="511.2" width="83.2" height="1" opacity="0.02"/><rect x="506" y="512.2" width="83.2" height="1" opacity="0.02"/><rect x="506" y="513.2" width="83.2" height="1" opacity="0.02"/><rect x="506" y="514.2" width="83.2" height="1" opacity="0.02"/><rect x="506" y="515.2" width="83.2" height="1" opacity="0.02"/><rect x="506" y="516.2" width="83.2" height="1" opacity="0.02"/><rect x="506" y="517.2" width="83.2" height="1" opacity="0.02"/><rect x="506" y="518.2" width="83.2" height="1" opacity="0.02"/><rect x="506" y="519.2" width="83.2" height="1" opacity="0.02"/><rect x="506" y="520.2" width="83.2" height="1" opacity="0.02"/><rect x="506" y="521.2" width="83.2" height="1" opacity="0.02"/><rect x="506" y="522.2" width="83.2" height="1" opacity="0.02"/><rect x="506" y="523.2" width="83.2" height="1" opacity="0.01"/><rect x="506" y="524.2" width="83.2" height="1" opacity="0.02"/><rect x="506" y="525.2" width="83.2" height="1" opacity="0.02"/><rect x="506" y="526.2" width="83.2" height="1" opacity="0.02"/><rect x="506" y="527.2" width="83.2" height="1" opacity="0.01"/><rect x="506" y="528.2" width="83.2" height="1" opacity="0.02"/><rect x="506" y="529.2" width="83.2" height="1" opacity="0.02"/><rect x="506" y="530.2" width="83.2" height="1" opacity="0.01"/><rect x="506" y="531.2" width="83.2" height="1" opacity="0.02"/><rect x="506" y="532.2" width="83.2" height="1" opacity="0.02"/><rect x="506" y="533.2" width="83.2" height="1" opacity="0.02"/><rect x="506" y="534.2" width="83.2" height="1" opacity="0.02"/><rect x="506" y="535.2" width="83.2" height="1" opacity="0.02"/><rect x="506" y="536.2" width="83.2" height="1" opacity="0.02"/><rect x="506" y="537.2" width="83.2" height="1" opacity="0.02"/><rect x="506" y="538.2" width="83.2" height="1" opacity="0.02"/><rect x="506" y="539.2" width="83.2" height="1" opacity="0.01"/><rect x="506" y="540.2" width="83.2" height="1" opacity="0.02"/><rect x="506" y="541.2" width="83.2" height="1" opacity="0.02"/><rect x="506" y="542.2" width="83.2" height="1" opacity="0.02"/><rect x="506" y="543.2" width="83.2" height="1" opacity="0.02"/><rect x="506" y="544.2" width="83.2" height="1" opacity="0.02"/><rect x="506" y="545.2" width="83.2" height="1" opacity="0.02"/><rect x="506" y="546.2" width="83.2" height="1" opacity="0.02"/><rect x="506" y="547.2" width="83.2" height="1" opacity="0.02"/><rect x="506" y="548.2" width="83.2" height="1" opacity="0.01"/><rect x="506" y="549.2" width="83.2" height="1" opacity="0.01"/><rect x="506" y="550.2" width="83.2" height="1" opacity="0.02"/><rect x="506" y="551.2" width="83.2" height="1" opacity="0.01"/><rect x="506" y="552.2" width="83.2" height="1" opacity="0.01"/><rect x="506" y="553.2" width="83.2" height="1" opacity="0.01"/><rect x="506" y="554.2" width="83.2" height="1" opacity="0.01"/><rect x="506" y="555.2" width="83.2" height="1" opacity="0.02"/><rect x="506" y="556.2" width="83.2" height="1" opacity="0.02"/><rect x="506" y="558.2" width="83.2" height="1" opacity="0.01"/><rect x="506" y="559.2" width="83.2" height="1" opacity="0.02"/><rect x="506" y="560.2" width="83.2" height="1" opacity="0.02"/><rect x="506" y="561.2" width="83.2" height="1" opacity="0.02"/><rect x="506" y="562.2" width="83.2" height="1" opacity="0.01"/><rect x="506" y="563.2" width="83.2" height="1" opacity="0.01"/></g><g fill="url(#hh)"><rect x="496.45" y="385.2" width="102.5" height="1" opacity="0.64"/><rect x="499.8" y="386.2" width="95.8" height="1" opacity="0.52"/><rect x="503.46" y="387.2" width="88.49" height="1" opacity="0.33"/><rect x="506.31" y="388.2" width="82.77" height="1" opacity="0.47"/><rect x="510.67" y="389.2" width="74.06" height="1" opacity="0.43"/><rect x="523.21" y="390.2" width="48.97" height="1" opacity="0.26"/><rect x="504.4" y="391.2" width="86.59" height="1" opacity="0.34"/><rect x="506.92" y="392.2" width="81.57" height="1" opacity="0.27"/><rect x="518.9" y="393.2" width="57.6" height="1" opacity="0.20"/><rect x="509.43" y="394.2" width="76.54" height="1" opacity="0.10"/><rect x="519.73" y="395.2" width="55.93" height="1" opacity="0.10"/><rect x="518.7" y="396.2" width="57.99" height="1" opacity="0.18"/><rect x="515.21" y="397.2" width="64.99" height="1" opacity="0.15"/><rect x="511.8" y="398.2" width="71.81" height="1" opacity="0.24"/><rect x="520.17" y="399.2" width="55.06" height="1" opacity="0.13"/><rect x="524.26" y="400.2" width="46.89" height="1" opacity="0.19"/><rect x="513.06" y="401.2" width="69.28" height="1" opacity="0.17"/><rect x="523.69" y="402.2" width="48.02" height="1" opacity="0.17"/><rect x="522.57" y="403.2" width="50.26" height="1" opacity="0.12"/><rect x="527.47" y="404.2" width="40.46" height="1" opacity="0.16"/><rect x="517.24" y="405.2" width="60.91" height="1" opacity="0.22"/><rect x="519.05" y="406.2" width="57.29" height="1" opacity="0.17"/><rect x="520.86" y="407.2" width="53.67" height="1" opacity="0.21"/><rect x="522.69" y="408.2" width="50.02" height="1" opacity="0.17"/><rect x="523.95" y="409.2" width="47.51" height="1" opacity="0.21"/><rect x="525.72" y="410.2" width="43.95" height="1" opacity="0.19"/><rect x="520.69" y="411.2" width="54.02" height="1" opacity="0.19"/><rect x="521.36" y="412.2" width="52.68" height="1" opacity="0.13"/><rect x="525.28" y="413.2" width="44.83" height="1" opacity="0.13"/><rect x="524.96" y="414.2" width="45.49" height="1" opacity="0.10"/><rect x="525.37" y="415.2" width="44.65" height="1" opacity="0.12"/><rect x="527" y="416.2" width="41.41" height="1" opacity="0.17"/><rect x="526.67" y="417.2" width="42.07" height="1" opacity="0.16"/><rect x="520.75" y="418.2" width="53.9" height="1" opacity="0.22"/><rect x="524.97" y="419.2" width="45.46" height="1" opacity="0.19"/><rect x="524.57" y="420.2" width="46.26" height="1" opacity="0.25"/><rect x="521.08" y="421.2" width="53.23" height="1" opacity="0.20"/><rect x="526.11" y="422.2" width="43.18" height="1" opacity="0.13"/><rect x="524.5" y="423.2" width="46.4" height="1" opacity="0.14"/><rect x="526.79" y="424.2" width="41.81" height="1" opacity="0.17"/><rect x="529.58" y="425.2" width="36.24" height="1" opacity="0.06"/><rect x="529.19" y="426.2" width="37.01" height="1" opacity="0.09"/><rect x="527.06" y="427.2" width="41.28" height="1" opacity="0.10"/><rect x="527.57" y="428.2" width="40.26" height="1" opacity="0.06"/><rect x="523.71" y="429.2" width="47.99" height="1" opacity="0.16"/><rect x="529.64" y="430.2" width="36.12" height="1" opacity="0.15"/><rect x="524.82" y="431.2" width="45.76" height="1" opacity="0.17"/><rect x="528.22" y="432.2" width="38.97" height="1" opacity="0.16"/><rect x="526.16" y="433.2" width="43.09" height="1" opacity="0.09"/><rect x="531.8" y="434.2" width="31.8" height="1" opacity="0.11"/><rect x="526.44" y="435.2" width="42.53" height="1" opacity="0.19"/><rect x="528.62" y="436.2" width="38.17" height="1" opacity="0.19"/><rect x="526.92" y="437.2" width="41.57" height="1" opacity="0.13"/><rect x="531.02" y="438.2" width="33.36" height="1" opacity="0.11"/><rect x="529.43" y="439.2" width="36.54" height="1" opacity="0.19"/><rect x="527.95" y="440.2" width="39.51" height="1" opacity="0.08"/><rect x="532.52" y="441.2" width="30.35" height="1" opacity="0.16"/><rect x="529.59" y="442.2" width="36.22" height="1" opacity="0.09"/><rect x="528.7" y="443.2" width="38" height="1" opacity="0.18"/><rect x="528.58" y="444.2" width="38.24" height="1" opacity="0.13"/><rect x="527.59" y="445.2" width="40.22" height="1" opacity="0.11"/><rect x="531.73" y="446.2" width="31.93" height="1" opacity="0.09"/><rect x="526.73" y="447.2" width="41.93" height="1" opacity="0.21"/><rect x="530.84" y="448.2" width="33.73" height="1" opacity="0.15"/><rect x="529.96" y="449.2" width="35.48" height="1" opacity="0.16"/><rect x="528.6" y="450.2" width="38.2" height="1" opacity="0.15"/><rect x="531.31" y="451.2" width="32.79" height="1" opacity="0.11"/><rect x="533.27" y="452.2" width="28.87" height="1" opacity="0.03"/><rect x="531.56" y="453.2" width="32.28" height="1" opacity="0.09"/><rect x="531.44" y="454.2" width="32.52" height="1" opacity="0.12"/><rect x="533.61" y="455.2" width="28.18" height="1" opacity="0.10"/><rect x="530.95" y="456.2" width="33.49" height="1" opacity="0.13"/><rect x="533.55" y="457.2" width="28.29" height="1" opacity="0.09"/><rect x="530.92" y="458.2" width="33.55" height="1" opacity="0.13"/><rect x="531.55" y="459.2" width="32.3" height="1" opacity="0.11"/><rect x="530.88" y="460.2" width="33.65" height="1" opacity="0.12"/><rect x="527.72" y="461.2" width="39.96" height="1" opacity="0.10"/><rect x="533.79" y="462.2" width="27.82" height="1" opacity="0.18"/><rect x="532.76" y="463.2" width="29.88" height="1" opacity="0.09"/><rect x="531.98" y="464.2" width="31.45" height="1" opacity="0.04"/><rect x="532.09" y="465.2" width="31.23" height="1" opacity="0.12"/><rect x="532.54" y="466.2" width="30.33" height="1" opacity="0.09"/><rect x="530.83" y="467.2" width="33.73" height="1" opacity="0.13"/><rect x="533.29" y="468.2" width="28.81" height="1" opacity="0.13"/><rect x="534.82" y="469.2" width="25.75" height="1" opacity="0.11"/><rect x="536.07" y="470.2" width="23.26" height="1" opacity="0.08"/><rect x="533.15" y="471.2" width="29.11" height="1" opacity="0.12"/><rect x="532.53" y="472.2" width="30.34" height="1" opacity="0.09"/><rect x="534.08" y="473.2" width="27.24" height="1" opacity="0.09"/><rect x="533.6" y="474.2" width="28.19" height="1" opacity="0.14"/><rect x="532.41" y="475.2" width="30.57" height="1" opacity="0.13"/><rect x="535.56" y="476.2" width="24.28" height="1" opacity="0.12"/><rect x="536.07" y="477.2" width="23.27" height="1" opacity="0.05"/><rect x="534.26" y="478.2" width="26.87" height="1" opacity="0.11"/><rect x="533.5" y="479.2" width="28.39" height="1" opacity="0.14"/><rect x="536.69" y="480.2" width="22.02" height="1" opacity="0.08"/><rect x="534.89" y="481.2" width="25.62" height="1" opacity="0.11"/><rect x="534.36" y="482.2" width="26.68" height="1" opacity="0.07"/><rect x="535.47" y="483.2" width="24.46" height="1" opacity="0.13"/><rect x="532.34" y="484.2" width="30.72" height="1" opacity="0.07"/><rect x="532.88" y="485.2" width="29.65" height="1" opacity="0.10"/><rect x="537.53" y="486.2" width="20.34" height="1" opacity="0.15"/><rect x="537.06" y="487.2" width="21.27" height="1" opacity="0.07"/><rect x="534.55" y="488.2" width="26.29" height="1" opacity="0.14"/><rect x="535.6" y="489.2" width="24.19" height="1" opacity="0.08"/><rect x="537.94" y="490.2" width="19.52" height="1" opacity="0.11"/><rect x="539.23" y="491.2" width="16.95" height="1" opacity="0.06"/><rect x="534.52" y="492.2" width="26.36" height="1" opacity="0.12"/><rect x="534.41" y="493.2" width="26.58" height="1" opacity="0.12"/><rect x="537.8" y="494.2" width="19.81" height="1" opacity="0.12"/><rect x="538.8" y="495.2" width="17.8" height="1" opacity="0.13"/><rect x="534.57" y="496.2" width="26.27" height="1" opacity="0.07"/><rect x="535.14" y="497.2" width="25.12" height="1" opacity="0.10"/><rect x="536.84" y="498.2" width="21.72" height="1" opacity="0.04"/><rect x="536.94" y="499.2" width="21.53" height="1" opacity="0.13"/><rect x="539.08" y="500.2" width="17.24" height="1" opacity="0.09"/><rect x="537.85" y="501.2" width="19.71" height="1" opacity="0.05"/><rect x="535.69" y="502.2" width="24.03" height="1" opacity="0.10"/><rect x="537.08" y="503.2" width="21.25" height="1" opacity="0.13"/><rect x="538.18" y="504.2" width="19.04" height="1" opacity="0.20"/><rect x="537.9" y="505.2" width="19.6" height="1" opacity="0.06"/><rect x="536.64" y="506.2" width="22.13" height="1" opacity="0.11"/><rect x="538.69" y="507.2" width="18.01" height="1" opacity="0.07"/><rect x="536.59" y="508.2" width="22.21" height="1" opacity="0.11"/><rect x="537.2" y="509.2" width="21" height="1" opacity="0.13"/><rect x="538.51" y="510.2" width="18.38" height="1" opacity="0.14"/><rect x="537.85" y="511.2" width="19.7" height="1" opacity="0.12"/><rect x="539.05" y="512.2" width="17.3" height="1" opacity="0.12"/><rect x="537.75" y="513.2" width="19.9" height="1" opacity="0.17"/><rect x="538.34" y="514.2" width="18.72" height="1" opacity="0.14"/><rect x="537.54" y="515.2" width="20.32" height="1" opacity="0.14"/><rect x="538.09" y="516.2" width="19.22" height="1" opacity="0.11"/><rect x="540.91" y="517.2" width="13.58" height="1" opacity="0.06"/><rect x="537.41" y="518.2" width="20.58" height="1" opacity="0.11"/><rect x="537.82" y="519.2" width="19.77" height="1" opacity="0.09"/><rect x="537.91" y="520.2" width="19.58" height="1" opacity="0.09"/><rect x="538.91" y="521.2" width="17.58" height="1" opacity="0.13"/><rect x="537.82" y="522.2" width="19.75" height="1" opacity="0.08"/><rect x="539" y="523.2" width="17.4" height="1" opacity="0.10"/><rect x="539.3" y="524.2" width="16.81" height="1" opacity="0.09"/><rect x="540.2" y="525.2" width="14.99" height="1" opacity="0.11"/><rect x="540.4" y="526.2" width="14.61" height="1" opacity="0.07"/><rect x="538.2" y="527.2" width="19" height="1" opacity="0.15"/><rect x="537.75" y="528.2" width="19.89" height="1" opacity="0.10"/><rect x="540.17" y="529.2" width="15.06" height="1" opacity="0.11"/><rect x="538.28" y="530.2" width="18.84" height="1" opacity="0.10"/><rect x="540.23" y="531.2" width="14.94" height="1" opacity="0.05"/><rect x="541.52" y="532.2" width="12.37" height="1" opacity="0.14"/><rect x="541.4" y="533.2" width="12.61" height="1" opacity="0.07"/><rect x="540.43" y="534.2" width="14.54" height="1" opacity="0.10"/><rect x="541.41" y="535.2" width="12.58" height="1" opacity="0.11"/><rect x="539.86" y="536.2" width="15.69" height="1" opacity="0.09"/><rect x="541" y="537.2" width="13.4" height="1" opacity="0.08"/><rect x="542.21" y="538.2" width="10.98" height="1" opacity="0.11"/><rect x="541.11" y="539.2" width="13.18" height="1" opacity="0.05"/><rect x="540.92" y="540.2" width="13.56" height="1" opacity="0.10"/><rect x="540.89" y="541.2" width="13.63" height="1" opacity="0.10"/><rect x="540.57" y="542.2" width="14.27" height="1" opacity="0.07"/><rect x="541.58" y="543.2" width="12.24" height="1" opacity="0.09"/><rect x="542.99" y="544.2" width="9.42" height="1" opacity="0.11"/><rect x="542.48" y="545.2" width="10.44" height="1" opacity="0.09"/><rect x="542.36" y="546.2" width="10.69" height="1" opacity="0.06"/><rect x="542.33" y="547.2" width="10.73" height="1" opacity="0.10"/><rect x="542.65" y="549.2" width="10.1" height="1" opacity="0.07"/><rect x="543.95" y="550.2" width="7.51" height="1" opacity="0.06"/><rect x="544.4" y="551.2" width="6.61" height="1" opacity="0.07"/><rect x="543.91" y="552.2" width="7.57" height="1" opacity="0.05"/><rect x="544.36" y="553.2" width="6.67" height="1" opacity="0.06"/><rect x="544.81" y="554.2" width="5.78" height="1" opacity="0.06"/><rect x="544.89" y="555.2" width="5.62" height="1" opacity="0.09"/><rect x="545.27" y="556.2" width="4.87" height="1" opacity="0.08"/><rect x="545.15" y="557.2" width="5.1" height="1" opacity="0.04"/><rect x="545.63" y="558.2" width="4.14" height="1" opacity="0.06"/><rect x="546.11" y="559.2" width="3.17" height="1" opacity="0.08"/><rect x="546.39" y="560.2" width="2.63" height="1" opacity="0.05"/><rect x="546.46" y="561.2" width="2.49" height="1" opacity="0.08"/><rect x="546.65" y="562.2" width="2.1" height="1" opacity="0.11"/><rect x="546.82" y="563.2" width="1.76" height="1" opacity="0.03"/></g><g fill="url(#hc)"><rect x="504.67" y="385.2" width="86.07" height="1" opacity="0.77"/><rect x="504.68" y="386.2" width="86.04" height="1" opacity="0.83"/><rect x="514.71" y="387.2" width="65.99" height="1" opacity="0.90"/><rect x="519.72" y="388.2" width="55.96" height="1" opacity="0.66"/><rect x="522.62" y="389.2" width="50.17" height="1" opacity="0.99"/><rect x="521.74" y="390.2" width="51.93" height="1" opacity="1.00"/><rect x="519.12" y="391.2" width="57.15" height="1" opacity="1.00"/><rect x="524.27" y="392.2" width="46.86" height="1" opacity="0.81"/><rect x="523.98" y="393.2" width="47.43" height="1" opacity="1.00"/><rect x="522.84" y="394.2" width="49.72" height="1" opacity="1.00"/><rect x="528.18" y="395.2" width="39.04" height="1" opacity="0.97"/><rect x="525.41" y="396.2" width="44.58" height="1" opacity="1.00"/><rect x="529.86" y="397.2" width="35.68" height="1" opacity="0.81"/><rect x="527.4" y="398.2" width="40.59" height="1" opacity="0.91"/><rect x="529.27" y="399.2" width="36.86" height="1" opacity="0.95"/><rect x="529.04" y="400.2" width="37.31" height="1" opacity="1.00"/><rect x="529.79" y="401.2" width="35.81" height="1" opacity="0.91"/><rect x="533.13" y="402.2" width="29.14" height="1" opacity="0.91"/><rect x="530.87" y="403.2" width="33.65" height="1" opacity="0.97"/><rect x="530.38" y="404.2" width="34.64" height="1" opacity="1.00"/><rect x="531.27" y="405.2" width="32.86" height="1" opacity="0.70"/><rect x="530.16" y="406.2" width="35.07" height="1" opacity="0.95"/><rect x="532.05" y="407.2" width="31.3" height="1" opacity="0.72"/><rect x="529.75" y="408.2" width="35.89" height="1" opacity="1.00"/><rect x="530.03" y="409.2" width="35.34" height="1" opacity="0.89"/><rect x="531.45" y="410.2" width="32.5" height="1" opacity="1.00"/><rect x="530.39" y="411.2" width="34.62" height="1" opacity="0.77"/><rect x="533.59" y="412.2" width="28.23" height="1" opacity="0.96"/><rect x="530.97" y="413.2" width="33.46" height="1" opacity="0.81"/><rect x="533.49" y="414.2" width="28.42" height="1" opacity="1.00"/><rect x="533.02" y="415.2" width="29.35" height="1" opacity="0.98"/><rect x="534.41" y="416.2" width="26.58" height="1" opacity="0.76"/><rect x="535.49" y="417.2" width="24.41" height="1" opacity="0.88"/><rect x="533.79" y="418.2" width="27.82" height="1" opacity="0.67"/><rect x="533.21" y="419.2" width="28.99" height="1" opacity="0.82"/><rect x="533.88" y="420.2" width="27.63" height="1" opacity="1.00"/><rect x="532.33" y="421.2" width="30.74" height="1" opacity="0.94"/><rect x="534.25" y="422.2" width="26.9" height="1" opacity="0.73"/><rect x="534.81" y="423.2" width="25.79" height="1" opacity="0.83"/><rect x="532.3" y="424.2" width="30.8" height="1" opacity="0.76"/><rect x="534.86" y="425.2" width="25.68" height="1" opacity="0.87"/><rect x="533.71" y="426.2" width="27.98" height="1" opacity="1.00"/><rect x="532.58" y="427.2" width="30.24" height="1" opacity="0.85"/><rect x="531.91" y="428.2" width="31.58" height="1" opacity="0.95"/><rect x="535.59" y="429.2" width="24.21" height="1" opacity="0.75"/><rect x="535.22" y="430.2" width="24.96" height="1" opacity="0.84"/><rect x="533.77" y="431.2" width="27.86" height="1" opacity="0.77"/><rect x="535.63" y="432.2" width="24.15" height="1" opacity="0.76"/><rect x="534.67" y="433.2" width="26.06" height="1" opacity="0.69"/><rect x="534.43" y="434.2" width="26.54" height="1" opacity="0.77"/><rect x="535.5" y="435.2" width="24.4" height="1" opacity="0.92"/><rect x="534.97" y="436.2" width="25.45" height="1" opacity="1.00"/><rect x="536.56" y="437.2" width="22.28" height="1" opacity="0.61"/><rect x="537.15" y="438.2" width="21.1" height="1" opacity="0.96"/><rect x="536.95" y="439.2" width="21.49" height="1" opacity="0.98"/><rect x="536.01" y="440.2" width="23.38" height="1" opacity="0.95"/><rect x="537.64" y="441.2" width="20.13" height="1" opacity="0.98"/><rect x="534.53" y="442.2" width="26.34" height="1" opacity="0.75"/><rect x="534.42" y="443.2" width="26.57" height="1" opacity="1.00"/><rect x="536.03" y="444.2" width="23.33" height="1" opacity="0.75"/><rect x="536.79" y="445.2" width="21.81" height="1" opacity="0.82"/><rect x="535.01" y="446.2" width="25.38" height="1" opacity="1.00"/><rect x="536.72" y="447.2" width="21.97" height="1" opacity="0.83"/><rect x="537.89" y="448.2" width="19.62" height="1" opacity="0.79"/><rect x="535.85" y="449.2" width="23.7" height="1" opacity="0.62"/><rect x="535.68" y="450.2" width="24.05" height="1" opacity="0.96"/><rect x="535.17" y="451.2" width="25.05" height="1" opacity="0.79"/><rect x="538.33" y="452.2" width="18.74" height="1" opacity="0.82"/><rect x="537.8" y="453.2" width="19.8" height="1" opacity="0.64"/><rect x="537.56" y="454.2" width="20.27" height="1" opacity="0.69"/><rect x="534.7" y="455.2" width="25.99" height="1" opacity="0.94"/><rect x="535.92" y="456.2" width="23.56" height="1" opacity="0.72"/><rect x="535.47" y="457.2" width="24.47" height="1" opacity="0.81"/><rect x="536.1" y="458.2" width="23.2" height="1" opacity="0.73"/><rect x="536.42" y="459.2" width="22.56" height="1" opacity="0.65"/><rect x="537.33" y="460.2" width="20.73" height="1" opacity="0.82"/><rect x="538.65" y="461.2" width="18.1" height="1" opacity="0.85"/><rect x="537.88" y="462.2" width="19.64" height="1" opacity="0.80"/><rect x="536.6" y="463.2" width="22.2" height="1" opacity="1.00"/><rect x="537.63" y="464.2" width="20.13" height="1" opacity="1.00"/><rect x="536.48" y="465.2" width="22.44" height="1" opacity="0.94"/><rect x="535.96" y="466.2" width="23.47" height="1" opacity="0.67"/><rect x="536.3" y="467.2" width="22.79" height="1" opacity="0.89"/><rect x="538.1" y="468.2" width="19.2" height="1" opacity="0.83"/><rect x="536.77" y="469.2" width="21.86" height="1" opacity="0.99"/><rect x="537.14" y="470.2" width="21.12" height="1" opacity="0.71"/><rect x="539.34" y="471.2" width="16.72" height="1" opacity="0.85"/><rect x="537.37" y="472.2" width="20.67" height="1" opacity="0.76"/><rect x="537.2" y="473.2" width="20.99" height="1" opacity="0.92"/><rect x="537.66" y="474.2" width="20.09" height="1" opacity="0.75"/><rect x="537.01" y="475.2" width="21.38" height="1" opacity="0.96"/><rect x="536.98" y="476.2" width="21.44" height="1" opacity="0.89"/><rect x="539.51" y="477.2" width="16.39" height="1" opacity="0.89"/><rect x="537.59" y="478.2" width="20.22" height="1" opacity="0.83"/><rect x="539.52" y="479.2" width="16.37" height="1" opacity="0.91"/><rect x="537.97" y="480.2" width="19.46" height="1" opacity="0.69"/><rect x="539.3" y="481.2" width="16.79" height="1" opacity="0.67"/><rect x="538.46" y="482.2" width="18.48" height="1" opacity="0.86"/><rect x="537.32" y="483.2" width="20.77" height="1" opacity="0.73"/><rect x="537.79" y="484.2" width="19.83" height="1" opacity="0.81"/><rect x="538.81" y="485.2" width="17.78" height="1" opacity="0.69"/><rect x="539.12" y="486.2" width="17.16" height="1" opacity="0.77"/><rect x="539.33" y="487.2" width="16.74" height="1" opacity="0.85"/><rect x="538.93" y="488.2" width="17.54" height="1" opacity="0.92"/><rect x="539.45" y="489.2" width="16.51" height="1" opacity="0.72"/><rect x="538.69" y="490.2" width="18.02" height="1" opacity="0.83"/><rect x="540.11" y="491.2" width="15.18" height="1" opacity="0.98"/><rect x="539.49" y="492.2" width="16.43" height="1" opacity="0.90"/><rect x="541.14" y="493.2" width="13.12" height="1" opacity="0.75"/><rect x="538.34" y="494.2" width="18.72" height="1" opacity="0.87"/><rect x="539.63" y="495.2" width="16.14" height="1" opacity="0.73"/><rect x="540.2" y="496.2" width="14.99" height="1" opacity="0.86"/><rect x="540.25" y="497.2" width="14.9" height="1" opacity="0.80"/><rect x="541.59" y="498.2" width="12.22" height="1" opacity="0.72"/><rect x="540.72" y="499.2" width="13.96" height="1" opacity="0.87"/><rect x="540.12" y="500.2" width="15.17" height="1" opacity="0.80"/><rect x="541.1" y="501.2" width="13.2" height="1" opacity="0.72"/><rect x="540.51" y="502.2" width="14.38" height="1" opacity="0.65"/><rect x="540.93" y="503.2" width="13.53" height="1" opacity="0.77"/><rect x="541.05" y="504.2" width="13.29" height="1" opacity="0.98"/><rect x="541.07" y="505.2" width="13.27" height="1" opacity="0.89"/><rect x="540" y="506.2" width="15.4" height="1" opacity="0.85"/><rect x="541.14" y="507.2" width="13.12" height="1" opacity="0.65"/><rect x="540.18" y="508.2" width="15.04" height="1" opacity="0.67"/><rect x="542.62" y="509.2" width="10.17" height="1" opacity="0.90"/><rect x="542.32" y="510.2" width="10.75" height="1" opacity="0.65"/><rect x="541.93" y="511.2" width="11.53" height="1" opacity="0.65"/><rect x="542.91" y="512.2" width="9.57" height="1" opacity="0.80"/><rect x="541.38" y="513.2" width="12.64" height="1" opacity="0.86"/><rect x="541.78" y="514.2" width="11.85" height="1" opacity="0.73"/><rect x="542.16" y="515.2" width="11.09" height="1" opacity="0.90"/><rect x="541.45" y="516.2" width="12.51" height="1" opacity="0.72"/><rect x="541.84" y="517.2" width="11.71" height="1" opacity="0.64"/><rect x="541.82" y="518.2" width="11.75" height="1" opacity="0.65"/><rect x="542.27" y="519.2" width="10.86" height="1" opacity="0.74"/><rect x="543.73" y="520.2" width="7.93" height="1" opacity="0.83"/><rect x="542.38" y="521.2" width="10.64" height="1" opacity="0.67"/><rect x="542.83" y="522.2" width="9.74" height="1" opacity="0.74"/><rect x="542.62" y="523.2" width="10.15" height="1" opacity="0.80"/><rect x="542.55" y="524.2" width="10.3" height="1" opacity="0.81"/><rect x="542.59" y="525.2" width="10.22" height="1" opacity="0.60"/><rect x="543.48" y="526.2" width="8.43" height="1" opacity="0.79"/><rect x="542.69" y="527.2" width="10.02" height="1" opacity="0.74"/><rect x="543.58" y="528.2" width="8.24" height="1" opacity="0.67"/><rect x="543.42" y="529.2" width="8.55" height="1" opacity="0.81"/><rect x="543.5" y="530.2" width="8.4" height="1" opacity="0.60"/><rect x="543.57" y="531.2" width="8.26" height="1" opacity="0.76"/><rect x="542.61" y="532.2" width="10.18" height="1" opacity="0.68"/><rect x="542.9" y="533.2" width="9.59" height="1" opacity="0.68"/><rect x="543.65" y="534.2" width="8.1" height="1" opacity="0.64"/><rect x="543.23" y="535.2" width="8.95" height="1" opacity="0.68"/><rect x="543.25" y="536.2" width="8.89" height="1" opacity="0.68"/><rect x="543.03" y="537.2" width="9.34" height="1" opacity="0.74"/><rect x="543.78" y="538.2" width="7.84" height="1" opacity="0.60"/><rect x="543.4" y="539.2" width="8.61" height="1" opacity="0.75"/><rect x="543.99" y="540.2" width="7.42" height="1" opacity="0.71"/><rect x="544.35" y="541.2" width="6.7" height="1" opacity="0.64"/><rect x="544.22" y="542.2" width="6.96" height="1" opacity="0.60"/><rect x="544.54" y="543.2" width="6.33" height="1" opacity="0.87"/><rect x="544.69" y="544.2" width="6.02" height="1" opacity="0.63"/><rect x="544.55" y="545.2" width="6.3" height="1" opacity="0.55"/><rect x="544.59" y="546.2" width="6.22" height="1" opacity="0.62"/><rect x="545.42" y="547.2" width="4.55" height="1" opacity="0.60"/><rect x="545.45" y="548.2" width="4.5" height="1" opacity="0.65"/><rect x="545.55" y="549.2" width="4.31" height="1" opacity="0.64"/><rect x="546" y="550.2" width="3.4" height="1" opacity="0.53"/><rect x="545.65" y="551.2" width="4.09" height="1" opacity="0.59"/><rect x="545.91" y="552.2" width="3.58" height="1" opacity="0.59"/><rect x="545.95" y="553.2" width="3.49" height="1" opacity="0.52"/><rect x="546.21" y="554.2" width="2.98" height="1" opacity="0.57"/><rect x="546.38" y="555.2" width="2.65" height="1" opacity="0.32"/><rect x="546.74" y="556.2" width="1.93" height="1" opacity="0.43"/><rect x="546.65" y="557.2" width="2.1" height="1" opacity="0.47"/><rect x="546.82" y="558.2" width="1.76" height="1" opacity="0.51"/><rect x="547" y="559.2" width="1.4" height="1" opacity="0.38"/><rect x="547.15" y="560.2" width="1.1" height="1" opacity="0.34"/><rect x="547.4" y="561.2" width="0.61" height="1" opacity="0.38"/></g></g>
<rect x="505.3" y="384.5" width="84.6" height="179.7" fill="none" stroke="#231f20" stroke-width="1.5"/>
<g clip-path="url(#hm24)"><g fill="#faa800"><rect x="596.8" y="385.2" width="82.9" height="1" opacity="0.41"/><rect x="596.8" y="386.2" width="82.9" height="1" opacity="0.31"/><rect x="596.8" y="387.2" width="82.9" height="1" opacity="0.18"/><rect x="596.8" y="388.2" width="82.9" height="1" opacity="0.12"/><rect x="596.8" y="389.2" width="82.9" height="1" opacity="0.08"/><rect x="596.8" y="390.2" width="82.9" height="1" opacity="0.06"/><rect x="596.8" y="391.2" width="82.9" height="1" opacity="0.05"/><rect x="596.8" y="392.2" width="82.9" height="1" opacity="0.03"/><rect x="596.8" y="393.2" width="82.9" height="1" opacity="0.04"/><rect x="596.8" y="394.2" width="82.9" height="1" opacity="0.03"/><rect x="596.8" y="395.2" width="82.9" height="1" opacity="0.03"/><rect x="596.8" y="396.2" width="82.9" height="1" opacity="0.03"/><rect x="596.8" y="397.2" width="82.9" height="1" opacity="0.03"/><rect x="596.8" y="398.2" width="82.9" height="1" opacity="0.02"/><rect x="596.8" y="399.2" width="82.9" height="1" opacity="0.03"/><rect x="596.8" y="400.2" width="82.9" height="1" opacity="0.02"/><rect x="596.8" y="401.2" width="82.9" height="1" opacity="0.02"/><rect x="596.8" y="402.2" width="82.9" height="1" opacity="0.02"/><rect x="596.8" y="403.2" width="82.9" height="1" opacity="0.02"/><rect x="596.8" y="404.2" width="82.9" height="1" opacity="0.02"/><rect x="596.8" y="405.2" width="82.9" height="1" opacity="0.02"/><rect x="596.8" y="406.2" width="82.9" height="1" opacity="0.02"/><rect x="596.8" y="407.2" width="82.9" height="1" opacity="0.02"/><rect x="596.8" y="408.2" width="82.9" height="1" opacity="0.02"/><rect x="596.8" y="409.2" width="82.9" height="1" opacity="0.02"/><rect x="596.8" y="410.2" width="82.9" height="1" opacity="0.02"/><rect x="596.8" y="411.2" width="82.9" height="1" opacity="0.02"/><rect x="596.8" y="412.2" width="82.9" height="1" opacity="0.01"/><rect x="596.8" y="413.2" width="82.9" height="1" opacity="0.02"/><rect x="596.8" y="414.2" width="82.9" height="1" opacity="0.02"/><rect x="596.8" y="415.2" width="82.9" height="1" opacity="0.02"/><rect x="596.8" y="416.2" width="82.9" height="1" opacity="0.02"/><rect x="596.8" y="417.2" width="82.9" height="1" opacity="0.02"/><rect x="596.8" y="418.2" width="82.9" height="1" opacity="0.02"/><rect x="596.8" y="419.2" width="82.9" height="1" opacity="0.02"/><rect x="596.8" y="420.2" width="82.9" height="1" opacity="0.02"/><rect x="596.8" y="421.2" width="82.9" height="1" opacity="0.02"/><rect x="596.8" y="422.2" width="82.9" height="1" opacity="0.02"/><rect x="596.8" y="423.2" width="82.9" height="1" opacity="0.02"/><rect x="596.8" y="424.2" width="82.9" height="1" opacity="0.02"/><rect x="596.8" y="425.2" width="82.9" height="1" opacity="0.02"/><rect x="596.8" y="426.2" width="82.9" height="1" opacity="0.02"/><rect x="596.8" y="427.2" width="82.9" height="1" opacity="0.02"/><rect x="596.8" y="428.2" width="82.9" height="1" opacity="0.02"/><rect x="596.8" y="429.2" width="82.9" height="1" opacity="0.02"/><rect x="596.8" y="430.2" width="82.9" height="1" opacity="0.02"/><rect x="596.8" y="431.2" width="82.9" height="1" opacity="0.02"/><rect x="596.8" y="432.2" width="82.9" height="1" opacity="0.01"/><rect x="596.8" y="433.2" width="82.9" height="1" opacity="0.02"/><rect x="596.8" y="434.2" width="82.9" height="1" opacity="0.02"/><rect x="596.8" y="435.2" width="82.9" height="1" opacity="0.02"/><rect x="596.8" y="436.2" width="82.9" height="1" opacity="0.02"/><rect x="596.8" y="437.2" width="82.9" height="1" opacity="0.02"/><rect x="596.8" y="438.2" width="82.9" height="1" opacity="0.01"/><rect x="596.8" y="439.2" width="82.9" height="1" opacity="0.01"/><rect x="596.8" y="440.2" width="82.9" height="1" opacity="0.02"/><rect x="596.8" y="441.2" width="82.9" height="1" opacity="0.02"/><rect x="596.8" y="442.2" width="82.9" height="1" opacity="0.02"/><rect x="596.8" y="443.2" width="82.9" height="1" opacity="0.02"/><rect x="596.8" y="444.2" width="82.9" height="1" opacity="0.02"/><rect x="596.8" y="445.2" width="82.9" height="1" opacity="0.02"/><rect x="596.8" y="446.2" width="82.9" height="1" opacity="0.02"/><rect x="596.8" y="447.2" width="82.9" height="1" opacity="0.02"/><rect x="596.8" y="448.2" width="82.9" height="1" opacity="0.02"/><rect x="596.8" y="449.2" width="82.9" height="1" opacity="0.02"/><rect x="596.8" y="450.2" width="82.9" height="1" opacity="0.02"/><rect x="596.8" y="451.2" width="82.9" height="1" opacity="0.02"/><rect x="596.8" y="452.2" width="82.9" height="1" opacity="0.02"/><rect x="596.8" y="453.2" width="82.9" height="1" opacity="0.02"/><rect x="596.8" y="454.2" width="82.9" height="1" opacity="0.02"/><rect x="596.8" y="455.2" width="82.9" height="1" opacity="0.02"/><rect x="596.8" y="456.2" width="82.9" height="1" opacity="0.02"/><rect x="596.8" y="457.2" width="82.9" height="1" opacity="0.02"/><rect x="596.8" y="458.2" width="82.9" height="1" opacity="0.01"/><rect x="596.8" y="459.2" width="82.9" height="1" opacity="0.02"/><rect x="596.8" y="460.2" width="82.9" height="1" opacity="0.02"/><rect x="596.8" y="461.2" width="82.9" height="1" opacity="0.02"/><rect x="596.8" y="462.2" width="82.9" height="1" opacity="0.02"/><rect x="596.8" y="463.2" width="82.9" height="1" opacity="0.02"/><rect x="596.8" y="464.2" width="82.9" height="1" opacity="0.01"/><rect x="596.8" y="465.2" width="82.9" height="1" opacity="0.02"/><rect x="596.8" y="466.2" width="82.9" height="1" opacity="0.01"/><rect x="596.8" y="467.2" width="82.9" height="1" opacity="0.02"/><rect x="596.8" y="468.2" width="82.9" height="1" opacity="0.02"/><rect x="596.8" y="469.2" width="82.9" height="1" opacity="0.02"/><rect x="596.8" y="470.2" width="82.9" height="1" opacity="0.02"/><rect x="596.8" y="471.2" width="82.9" height="1" opacity="0.02"/><rect x="596.8" y="472.2" width="82.9" height="1" opacity="0.02"/><rect x="596.8" y="473.2" width="82.9" height="1" opacity="0.02"/><rect x="596.8" y="474.2" width="82.9" height="1" opacity="0.02"/><rect x="596.8" y="475.2" width="82.9" height="1" opacity="0.02"/><rect x="596.8" y="476.2" width="82.9" height="1" opacity="0.02"/><rect x="596.8" y="477.2" width="82.9" height="1" opacity="0.02"/><rect x="596.8" y="478.2" width="82.9" height="1" opacity="0.02"/><rect x="596.8" y="479.2" width="82.9" height="1" opacity="0.01"/><rect x="596.8" y="480.2" width="82.9" height="1" opacity="0.02"/><rect x="596.8" y="481.2" width="82.9" height="1" opacity="0.02"/><rect x="596.8" y="482.2" width="82.9" height="1" opacity="0.02"/><rect x="596.8" y="483.2" width="82.9" height="1" opacity="0.01"/><rect x="596.8" y="484.2" width="82.9" height="1" opacity="0.02"/><rect x="596.8" y="485.2" width="82.9" height="1" opacity="0.02"/><rect x="596.8" y="486.2" width="82.9" height="1" opacity="0.02"/><rect x="596.8" y="487.2" width="82.9" height="1" opacity="0.02"/><rect x="596.8" y="488.2" width="82.9" height="1" opacity="0.02"/><rect x="596.8" y="489.2" width="82.9" height="1" opacity="0.02"/><rect x="596.8" y="490.2" width="82.9" height="1" opacity="0.02"/><rect x="596.8" y="492.2" width="82.9" height="1" opacity="0.02"/><rect x="596.8" y="493.2" width="82.9" height="1" opacity="0.02"/><rect x="596.8" y="494.2" width="82.9" height="1" opacity="0.02"/><rect x="596.8" y="495.2" width="82.9" height="1" opacity="0.02"/><rect x="596.8" y="496.2" width="82.9" height="1" opacity="0.02"/><rect x="596.8" y="497.2" width="82.9" height="1" opacity="0.02"/><rect x="596.8" y="498.2" width="82.9" height="1" opacity="0.02"/><rect x="596.8" y="499.2" width="82.9" height="1" opacity="0.02"/><rect x="596.8" y="500.2" width="82.9" height="1" opacity="0.02"/><rect x="596.8" y="501.2" width="82.9" height="1" opacity="0.02"/><rect x="596.8" y="502.2" width="82.9" height="1" opacity="0.02"/><rect x="596.8" y="503.2" width="82.9" height="1" opacity="0.01"/><rect x="596.8" y="504.2" width="82.9" height="1" opacity="0.02"/><rect x="596.8" y="506.2" width="82.9" height="1" opacity="0.02"/><rect x="596.8" y="507.2" width="82.9" height="1" opacity="0.02"/><rect x="596.8" y="508.2" width="82.9" height="1" opacity="0.02"/><rect x="596.8" y="509.2" width="82.9" height="1" opacity="0.02"/><rect x="596.8" y="510.2" width="82.9" height="1" opacity="0.02"/><rect x="596.8" y="511.2" width="82.9" height="1" opacity="0.02"/><rect x="596.8" y="512.2" width="82.9" height="1" opacity="0.02"/><rect x="596.8" y="513.2" width="82.9" height="1" opacity="0.01"/><rect x="596.8" y="514.2" width="82.9" height="1" opacity="0.02"/><rect x="596.8" y="515.2" width="82.9" height="1" opacity="0.01"/><rect x="596.8" y="516.2" width="82.9" height="1" opacity="0.02"/><rect x="596.8" y="517.2" width="82.9" height="1" opacity="0.01"/><rect x="596.8" y="518.2" width="82.9" height="1" opacity="0.02"/><rect x="596.8" y="519.2" width="82.9" height="1" opacity="0.02"/><rect x="596.8" y="520.2" width="82.9" height="1" opacity="0.02"/><rect x="596.8" y="521.2" width="82.9" height="1" opacity="0.02"/><rect x="596.8" y="522.2" width="82.9" height="1" opacity="0.02"/><rect x="596.8" y="523.2" width="82.9" height="1" opacity="0.01"/><rect x="596.8" y="524.2" width="82.9" height="1" opacity="0.02"/><rect x="596.8" y="525.2" width="82.9" height="1" opacity="0.01"/><rect x="596.8" y="526.2" width="82.9" height="1" opacity="0.02"/><rect x="596.8" y="528.2" width="82.9" height="1" opacity="0.02"/><rect x="596.8" y="529.2" width="82.9" height="1" opacity="0.02"/><rect x="596.8" y="530.2" width="82.9" height="1" opacity="0.02"/><rect x="596.8" y="531.2" width="82.9" height="1" opacity="0.02"/><rect x="596.8" y="532.2" width="82.9" height="1" opacity="0.02"/><rect x="596.8" y="533.2" width="82.9" height="1" opacity="0.01"/><rect x="596.8" y="534.2" width="82.9" height="1" opacity="0.01"/><rect x="596.8" y="535.2" width="82.9" height="1" opacity="0.02"/><rect x="596.8" y="536.2" width="82.9" height="1" opacity="0.02"/><rect x="596.8" y="537.2" width="82.9" height="1" opacity="0.01"/><rect x="596.8" y="538.2" width="82.9" height="1" opacity="0.01"/><rect x="596.8" y="539.2" width="82.9" height="1" opacity="0.02"/><rect x="596.8" y="540.2" width="82.9" height="1" opacity="0.02"/><rect x="596.8" y="541.2" width="82.9" height="1" opacity="0.02"/><rect x="596.8" y="542.2" width="82.9" height="1" opacity="0.01"/><rect x="596.8" y="543.2" width="82.9" height="1" opacity="0.02"/><rect x="596.8" y="544.2" width="82.9" height="1" opacity="0.02"/><rect x="596.8" y="545.2" width="82.9" height="1" opacity="0.02"/><rect x="596.8" y="546.2" width="82.9" height="1" opacity="0.02"/><rect x="596.8" y="547.2" width="82.9" height="1" opacity="0.02"/><rect x="596.8" y="548.2" width="82.9" height="1" opacity="0.01"/><rect x="596.8" y="549.2" width="82.9" height="1" opacity="0.02"/><rect x="596.8" y="550.2" width="82.9" height="1" opacity="0.01"/><rect x="596.8" y="551.2" width="82.9" height="1" opacity="0.01"/><rect x="596.8" y="552.2" width="82.9" height="1" opacity="0.01"/><rect x="596.8" y="553.2" width="82.9" height="1" opacity="0.01"/><rect x="596.8" y="554.2" width="82.9" height="1" opacity="0.01"/><rect x="596.8" y="555.2" width="82.9" height="1" opacity="0.01"/><rect x="596.8" y="556.2" width="82.9" height="1" opacity="0.02"/><rect x="596.8" y="557.2" width="82.9" height="1" opacity="0.02"/><rect x="596.8" y="558.2" width="82.9" height="1" opacity="0.02"/><rect x="596.8" y="559.2" width="82.9" height="1" opacity="0.02"/><rect x="596.8" y="560.2" width="82.9" height="1" opacity="0.02"/><rect x="596.8" y="561.2" width="82.9" height="1" opacity="0.02"/><rect x="596.8" y="562.2" width="82.9" height="1" opacity="0.01"/><rect x="596.8" y="563.2" width="82.9" height="1" opacity="0.02"/></g><g fill="url(#hh)"><rect x="588.03" y="385.2" width="100.74" height="1" opacity="0.06"/><rect x="589.2" y="386.2" width="98.39" height="1" opacity="0.28"/><rect x="601.28" y="387.2" width="74.23" height="1" opacity="0.21"/><rect x="600.88" y="388.2" width="75.03" height="1" opacity="0.17"/><rect x="603.1" y="389.2" width="70.59" height="1" opacity="0.19"/><rect x="606.18" y="390.2" width="64.45" height="1" opacity="0.21"/><rect x="604.82" y="391.2" width="67.16" height="1" opacity="0.28"/><rect x="604.96" y="392.2" width="66.88" height="1" opacity="0.13"/><rect x="607.37" y="393.2" width="62.06" height="1" opacity="0.27"/><rect x="601.83" y="394.2" width="73.15" height="1" opacity="0.13"/><rect x="606.36" y="395.2" width="64.08" height="1" opacity="0.14"/><rect x="610.41" y="396.2" width="55.97" height="1" opacity="0.08"/><rect x="615.76" y="397.2" width="45.28" height="1" opacity="0.14"/><rect x="610.04" y="398.2" width="56.72" height="1" opacity="0.17"/><rect x="614.38" y="399.2" width="48.03" height="1" opacity="0.14"/><rect x="611.67" y="400.2" width="53.46" height="1" opacity="0.14"/><rect x="621.26" y="401.2" width="34.28" height="1" opacity="0.10"/><rect x="612.55" y="402.2" width="51.7" height="1" opacity="0.17"/><rect x="616.09" y="403.2" width="44.61" height="1" opacity="0.18"/><rect x="622.6" y="404.2" width="31.59" height="1" opacity="0.19"/><rect x="616.21" y="405.2" width="44.39" height="1" opacity="0.14"/><rect x="617.24" y="406.2" width="42.31" height="1" opacity="0.08"/><rect x="615.83" y="407.2" width="45.15" height="1" opacity="0.14"/><rect x="618.51" y="408.2" width="39.78" height="1" opacity="0.17"/><rect x="616.9" y="409.2" width="42.99" height="1" opacity="0.13"/><rect x="618.08" y="410.2" width="40.65" height="1" opacity="0.10"/><rect x="616.61" y="411.2" width="43.58" height="1" opacity="0.07"/><rect x="615.13" y="412.2" width="46.55" height="1" opacity="0.08"/><rect x="616.27" y="413.2" width="44.26" height="1" opacity="0.08"/><rect x="618.28" y="414.2" width="40.24" height="1" opacity="0.10"/><rect x="614.92" y="415.2" width="46.96" height="1" opacity="0.19"/><rect x="619.23" y="416.2" width="38.33" height="1" opacity="0.14"/><rect x="617.77" y="417.2" width="41.26" height="1" opacity="0.15"/><rect x="615.98" y="418.2" width="44.84" height="1" opacity="0.19"/><rect x="618.5" y="419.2" width="39.8" height="1" opacity="0.05"/><rect x="617.24" y="420.2" width="42.32" height="1" opacity="0.11"/><rect x="619.44" y="421.2" width="37.92" height="1" opacity="0.17"/><rect x="615.64" y="422.2" width="45.52" height="1" opacity="0.13"/><rect x="616.53" y="423.2" width="43.75" height="1" opacity="0.14"/><rect x="617.75" y="424.2" width="41.29" height="1" opacity="0.12"/><rect x="616.74" y="425.2" width="43.32" height="1" opacity="0.10"/><rect x="619.85" y="426.2" width="37.1" height="1" opacity="0.16"/><rect x="622.34" y="427.2" width="32.12" height="1" opacity="0.13"/><rect x="619.38" y="428.2" width="38.03" height="1" opacity="0.15"/><rect x="616.82" y="429.2" width="43.17" height="1" opacity="0.04"/><rect x="618.7" y="430.2" width="39.4" height="1" opacity="0.13"/><rect x="618.48" y="431.2" width="39.84" height="1" opacity="0.15"/><rect x="622.54" y="432.2" width="31.72" height="1" opacity="0.10"/><rect x="623.43" y="433.2" width="29.93" height="1" opacity="0.16"/><rect x="622.84" y="434.2" width="31.12" height="1" opacity="0.13"/><rect x="622.25" y="435.2" width="32.3" height="1" opacity="0.04"/><rect x="622.66" y="436.2" width="31.49" height="1" opacity="0.11"/><rect x="619.32" y="437.2" width="38.15" height="1" opacity="0.11"/><rect x="624.61" y="438.2" width="27.58" height="1" opacity="0.10"/><rect x="621" y="439.2" width="34.8" height="1" opacity="0.14"/><rect x="621.68" y="440.2" width="33.45" height="1" opacity="0.14"/><rect x="624.38" y="441.2" width="28.05" height="1" opacity="0.15"/><rect x="622.3" y="442.2" width="32.21" height="1" opacity="0.04"/><rect x="624.21" y="443.2" width="28.37" height="1" opacity="0.16"/><rect x="624.2" y="444.2" width="28.39" height="1" opacity="0.10"/><rect x="623.22" y="445.2" width="30.36" height="1" opacity="0.12"/><rect x="623.45" y="446.2" width="29.9" height="1" opacity="0.14"/><rect x="624.88" y="447.2" width="27.03" height="1" opacity="0.06"/><rect x="623.66" y="448.2" width="29.48" height="1" opacity="0.11"/><rect x="621.98" y="449.2" width="32.83" height="1" opacity="0.19"/><rect x="622.94" y="450.2" width="30.92" height="1" opacity="0.15"/><rect x="620.93" y="451.2" width="34.94" height="1" opacity="0.14"/><rect x="622.83" y="452.2" width="31.14" height="1" opacity="0.08"/><rect x="624.82" y="453.2" width="27.15" height="1" opacity="0.09"/><rect x="624.89" y="454.2" width="27.02" height="1" opacity="0.15"/><rect x="623.25" y="455.2" width="30.31" height="1" opacity="0.12"/><rect x="628.15" y="456.2" width="20.49" height="1" opacity="0.14"/><rect x="623.75" y="457.2" width="29.31" height="1" opacity="0.07"/><rect x="624.65" y="458.2" width="27.5" height="1" opacity="0.10"/><rect x="623.87" y="459.2" width="29.06" height="1" opacity="0.04"/><rect x="627.14" y="460.2" width="22.52" height="1" opacity="0.16"/><rect x="626.87" y="461.2" width="23.06" height="1" opacity="0.08"/><rect x="626.04" y="462.2" width="24.71" height="1" opacity="0.12"/><rect x="623.39" y="463.2" width="30.03" height="1" opacity="0.11"/><rect x="624.13" y="464.2" width="28.54" height="1" opacity="0.13"/><rect x="626.55" y="465.2" width="23.7" height="1" opacity="0.17"/><rect x="624.21" y="466.2" width="28.38" height="1" opacity="0.10"/><rect x="626.2" y="467.2" width="24.41" height="1" opacity="0.08"/><rect x="628.67" y="468.2" width="19.47" height="1" opacity="0.11"/><rect x="624.55" y="469.2" width="27.7" height="1" opacity="0.01"/><rect x="627.21" y="470.2" width="22.39" height="1" opacity="0.18"/><rect x="624.02" y="471.2" width="28.77" height="1" opacity="0.08"/><rect x="627.43" y="472.2" width="21.94" height="1" opacity="0.16"/><rect x="628.06" y="473.2" width="20.68" height="1" opacity="0.11"/><rect x="627.86" y="474.2" width="21.08" height="1" opacity="0.13"/><rect x="626.48" y="475.2" width="23.83" height="1" opacity="0.17"/><rect x="628.31" y="476.2" width="20.18" height="1" opacity="0.06"/><rect x="627.51" y="477.2" width="21.77" height="1" opacity="0.12"/><rect x="627.59" y="478.2" width="21.62" height="1" opacity="0.20"/><rect x="627.98" y="479.2" width="20.85" height="1" opacity="0.10"/><rect x="626.18" y="480.2" width="24.45" height="1" opacity="0.17"/><rect x="627.25" y="481.2" width="22.3" height="1" opacity="0.13"/><rect x="629.25" y="482.2" width="18.31" height="1" opacity="0.08"/><rect x="627.3" y="483.2" width="22.2" height="1" opacity="0.14"/><rect x="627.06" y="484.2" width="22.67" height="1" opacity="0.13"/><rect x="626.83" y="485.2" width="23.13" height="1" opacity="0.11"/><rect x="628.39" y="486.2" width="20.02" height="1" opacity="0.10"/><rect x="629.69" y="487.2" width="17.42" height="1" opacity="0.09"/><rect x="629.13" y="488.2" width="18.54" height="1" opacity="0.13"/><rect x="625.21" y="489.2" width="26.37" height="1" opacity="0.14"/><rect x="625.87" y="490.2" width="25.06" height="1" opacity="0.08"/><rect x="628.87" y="491.2" width="19.06" height="1" opacity="0.11"/><rect x="627.06" y="492.2" width="22.69" height="1" opacity="0.18"/><rect x="627.43" y="493.2" width="21.95" height="1" opacity="0.13"/><rect x="628.37" y="494.2" width="20.06" height="1" opacity="0.10"/><rect x="628.12" y="495.2" width="20.55" height="1" opacity="0.13"/><rect x="628.76" y="496.2" width="19.28" height="1" opacity="0.09"/><rect x="628.75" y="497.2" width="19.3" height="1" opacity="0.11"/><rect x="629.9" y="498.2" width="17" height="1" opacity="0.15"/><rect x="629.21" y="499.2" width="18.38" height="1" opacity="0.13"/><rect x="630.46" y="500.2" width="15.89" height="1" opacity="0.10"/><rect x="630.11" y="501.2" width="16.59" height="1" opacity="0.08"/><rect x="629.3" y="502.2" width="18.2" height="1" opacity="0.11"/><rect x="630.8" y="503.2" width="15.21" height="1" opacity="0.09"/><rect x="629.58" y="504.2" width="17.64" height="1" opacity="0.11"/><rect x="627.83" y="505.2" width="21.14" height="1" opacity="0.04"/><rect x="628.94" y="506.2" width="18.92" height="1" opacity="0.14"/><rect x="629.46" y="507.2" width="17.87" height="1" opacity="0.09"/><rect x="630.75" y="508.2" width="15.3" height="1" opacity="0.05"/><rect x="629.68" y="509.2" width="17.45" height="1" opacity="0.09"/><rect x="630.78" y="510.2" width="15.23" height="1" opacity="0.16"/><rect x="631.26" y="511.2" width="14.29" height="1" opacity="0.11"/><rect x="629.84" y="512.2" width="17.13" height="1" opacity="0.11"/><rect x="630.16" y="513.2" width="16.49" height="1" opacity="0.12"/><rect x="630.39" y="514.2" width="16.03" height="1" opacity="0.07"/><rect x="631.86" y="515.2" width="13.09" height="1" opacity="0.15"/><rect x="630.38" y="516.2" width="16.05" height="1" opacity="0.11"/><rect x="631.54" y="517.2" width="13.73" height="1" opacity="0.16"/><rect x="631.34" y="518.2" width="14.12" height="1" opacity="0.08"/><rect x="630.27" y="519.2" width="16.27" height="1" opacity="0.08"/><rect x="631.56" y="520.2" width="13.69" height="1" opacity="0.12"/><rect x="632.29" y="521.2" width="12.23" height="1" opacity="0.12"/><rect x="631.22" y="522.2" width="14.36" height="1" opacity="0.13"/><rect x="631.71" y="523.2" width="13.38" height="1" opacity="0.16"/><rect x="631.68" y="524.2" width="13.44" height="1" opacity="0.10"/><rect x="631.48" y="525.2" width="13.84" height="1" opacity="0.10"/><rect x="633.72" y="526.2" width="9.36" height="1" opacity="0.15"/><rect x="633.29" y="527.2" width="10.22" height="1" opacity="0.05"/><rect x="631.82" y="528.2" width="13.16" height="1" opacity="0.09"/><rect x="631.39" y="529.2" width="14.02" height="1" opacity="0.14"/><rect x="631.5" y="530.2" width="13.79" height="1" opacity="0.10"/><rect x="632.16" y="531.2" width="12.48" height="1" opacity="0.07"/><rect x="632" y="532.2" width="12.81" height="1" opacity="0.11"/><rect x="632.69" y="533.2" width="11.41" height="1" opacity="0.11"/><rect x="632.67" y="534.2" width="11.46" height="1" opacity="0.12"/><rect x="632.29" y="535.2" width="12.22" height="1" opacity="0.11"/><rect x="633.22" y="536.2" width="10.37" height="1" opacity="0.07"/><rect x="632.01" y="537.2" width="12.79" height="1" opacity="0.12"/><rect x="633.36" y="538.2" width="10.08" height="1" opacity="0.06"/><rect x="632.93" y="539.2" width="10.93" height="1" opacity="0.07"/><rect x="633.28" y="540.2" width="10.24" height="1" opacity="0.09"/><rect x="633.01" y="541.2" width="10.78" height="1" opacity="0.09"/><rect x="634.42" y="542.2" width="7.95" height="1" opacity="0.04"/><rect x="634.3" y="543.2" width="8.19" height="1" opacity="0.14"/><rect x="634.07" y="544.2" width="8.66" height="1" opacity="0.08"/><rect x="633.85" y="545.2" width="9.11" height="1" opacity="0.07"/><rect x="634.14" y="546.2" width="8.53" height="1" opacity="0.06"/><rect x="635.28" y="547.2" width="6.25" height="1" opacity="0.11"/><rect x="635.51" y="548.2" width="5.79" height="1" opacity="0.11"/><rect x="635.15" y="549.2" width="6.51" height="1" opacity="0.13"/><rect x="635.53" y="550.2" width="5.74" height="1" opacity="0.08"/><rect x="634.97" y="551.2" width="6.87" height="1" opacity="0.07"/><rect x="635.62" y="552.2" width="5.55" height="1" opacity="0.06"/><rect x="635.58" y="553.2" width="5.63" height="1" opacity="0.08"/><rect x="636.35" y="554.2" width="4.1" height="1" opacity="0.08"/><rect x="636.49" y="555.2" width="3.82" height="1" opacity="0.09"/><rect x="636.69" y="556.2" width="3.43" height="1" opacity="0.12"/><rect x="636.12" y="557.2" width="4.56" height="1" opacity="0.03"/><rect x="636.7" y="558.2" width="3.41" height="1" opacity="0.05"/><rect x="637.1" y="559.2" width="2.6" height="1" opacity="0.04"/><rect x="636.93" y="560.2" width="2.94" height="1" opacity="0.03"/><rect x="637.13" y="561.2" width="2.55" height="1" opacity="0.03"/><rect x="637.29" y="562.2" width="2.23" height="1" opacity="0.06"/><rect x="637.46" y="563.2" width="1.89" height="1" opacity="0.04"/></g><g fill="url(#hc)"><rect x="595.62" y="385.2" width="85.57" height="1" opacity="0.47"/><rect x="590.1" y="386.2" width="96.59" height="1" opacity="0.34"/><rect x="602.62" y="387.2" width="71.55" height="1" opacity="0.44"/><rect x="611.19" y="388.2" width="54.42" height="1" opacity="0.45"/><rect x="613.08" y="389.2" width="50.63" height="1" opacity="0.40"/><rect x="615.85" y="390.2" width="45.1" height="1" opacity="0.47"/><rect x="616.29" y="391.2" width="44.22" height="1" opacity="0.48"/><rect x="617.83" y="392.2" width="41.15" height="1" opacity="0.47"/><rect x="615.43" y="393.2" width="45.94" height="1" opacity="0.48"/><rect x="616.46" y="394.2" width="43.89" height="1" opacity="0.46"/><rect x="618.04" y="395.2" width="40.71" height="1" opacity="0.41"/><rect x="619.48" y="396.2" width="37.84" height="1" opacity="0.46"/><rect x="621.67" y="397.2" width="33.46" height="1" opacity="0.56"/><rect x="621.99" y="398.2" width="32.83" height="1" opacity="0.45"/><rect x="617.79" y="399.2" width="41.22" height="1" opacity="0.56"/><rect x="619.19" y="400.2" width="38.42" height="1" opacity="0.46"/><rect x="623.03" y="401.2" width="30.73" height="1" opacity="0.48"/><rect x="621.39" y="402.2" width="34.02" height="1" opacity="0.37"/><rect x="621.67" y="403.2" width="33.46" height="1" opacity="0.52"/><rect x="620.36" y="404.2" width="36.09" height="1" opacity="0.49"/><rect x="620.2" y="405.2" width="36.41" height="1" opacity="0.50"/><rect x="621.31" y="406.2" width="34.18" height="1" opacity="0.45"/><rect x="621.9" y="407.2" width="33" height="1" opacity="0.44"/><rect x="623.37" y="408.2" width="30.07" height="1" opacity="0.41"/><rect x="620.23" y="409.2" width="36.35" height="1" opacity="0.50"/><rect x="621.74" y="410.2" width="33.32" height="1" opacity="0.46"/><rect x="622.88" y="411.2" width="31.04" height="1" opacity="0.42"/><rect x="624.34" y="412.2" width="28.11" height="1" opacity="0.52"/><rect x="621.17" y="413.2" width="34.46" height="1" opacity="0.34"/><rect x="625.18" y="414.2" width="26.44" height="1" opacity="0.41"/><rect x="626.04" y="415.2" width="24.72" height="1" opacity="0.42"/><rect x="625.23" y="416.2" width="26.34" height="1" opacity="0.38"/><rect x="624.27" y="417.2" width="28.26" height="1" opacity="0.35"/><rect x="622.97" y="418.2" width="30.85" height="1" opacity="0.50"/><rect x="625.44" y="419.2" width="25.92" height="1" opacity="0.39"/><rect x="626.31" y="420.2" width="24.18" height="1" opacity="0.45"/><rect x="623.01" y="421.2" width="30.78" height="1" opacity="0.52"/><rect x="624.01" y="422.2" width="28.77" height="1" opacity="0.39"/><rect x="625.41" y="423.2" width="25.98" height="1" opacity="0.50"/><rect x="624.93" y="424.2" width="26.94" height="1" opacity="0.47"/><rect x="625.72" y="425.2" width="25.36" height="1" opacity="0.43"/><rect x="625.68" y="426.2" width="25.44" height="1" opacity="0.47"/><rect x="625.77" y="427.2" width="25.26" height="1" opacity="0.52"/><rect x="626.65" y="428.2" width="23.5" height="1" opacity="0.59"/><rect x="625.27" y="429.2" width="26.27" height="1" opacity="0.45"/><rect x="624.91" y="430.2" width="26.98" height="1" opacity="0.49"/><rect x="628.09" y="431.2" width="20.62" height="1" opacity="0.44"/><rect x="624.79" y="432.2" width="27.21" height="1" opacity="0.47"/><rect x="624.6" y="433.2" width="27.59" height="1" opacity="0.42"/><rect x="626.45" y="434.2" width="23.9" height="1" opacity="0.43"/><rect x="626.55" y="435.2" width="23.7" height="1" opacity="0.42"/><rect x="627.48" y="436.2" width="21.84" height="1" opacity="0.53"/><rect x="628.05" y="437.2" width="20.7" height="1" opacity="0.44"/><rect x="625.87" y="438.2" width="25.06" height="1" opacity="0.58"/><rect x="625.24" y="439.2" width="26.31" height="1" opacity="0.51"/><rect x="627.41" y="440.2" width="21.99" height="1" opacity="0.46"/><rect x="626.28" y="441.2" width="24.23" height="1" opacity="0.46"/><rect x="629.22" y="442.2" width="18.37" height="1" opacity="0.46"/><rect x="627.82" y="443.2" width="21.17" height="1" opacity="0.29"/><rect x="627.78" y="444.2" width="21.25" height="1" opacity="0.42"/><rect x="627.37" y="445.2" width="22.05" height="1" opacity="0.46"/><rect x="626.53" y="446.2" width="23.74" height="1" opacity="0.53"/><rect x="628.45" y="447.2" width="19.9" height="1" opacity="0.37"/><rect x="628.12" y="448.2" width="20.56" height="1" opacity="0.54"/><rect x="628.23" y="449.2" width="20.35" height="1" opacity="0.46"/><rect x="627.86" y="450.2" width="21.08" height="1" opacity="0.44"/><rect x="628.64" y="451.2" width="19.51" height="1" opacity="0.44"/><rect x="628.66" y="452.2" width="19.49" height="1" opacity="0.37"/><rect x="627.09" y="453.2" width="22.62" height="1" opacity="0.38"/><rect x="627.86" y="454.2" width="21.08" height="1" opacity="0.39"/><rect x="627.97" y="455.2" width="20.86" height="1" opacity="0.45"/><rect x="628.55" y="456.2" width="19.69" height="1" opacity="0.56"/><rect x="628.67" y="457.2" width="19.45" height="1" opacity="0.40"/><rect x="629.83" y="458.2" width="17.14" height="1" opacity="0.34"/><rect x="630.59" y="459.2" width="15.62" height="1" opacity="0.38"/><rect x="628.81" y="460.2" width="19.18" height="1" opacity="0.41"/><rect x="629.09" y="461.2" width="18.61" height="1" opacity="0.39"/><rect x="630.62" y="462.2" width="15.56" height="1" opacity="0.41"/><rect x="630.53" y="463.2" width="15.74" height="1" opacity="0.43"/><rect x="628.23" y="464.2" width="20.35" height="1" opacity="0.44"/><rect x="629.33" y="465.2" width="18.14" height="1" opacity="0.44"/><rect x="631.06" y="466.2" width="14.68" height="1" opacity="0.36"/><rect x="629.64" y="467.2" width="17.51" height="1" opacity="0.42"/><rect x="630.05" y="468.2" width="16.71" height="1" opacity="0.39"/><rect x="631.66" y="469.2" width="13.48" height="1" opacity="0.45"/><rect x="630.68" y="470.2" width="15.44" height="1" opacity="0.34"/><rect x="630.35" y="471.2" width="16.11" height="1" opacity="0.51"/><rect x="630.88" y="472.2" width="15.04" height="1" opacity="0.44"/><rect x="631.22" y="473.2" width="14.36" height="1" opacity="0.41"/><rect x="630.64" y="474.2" width="15.53" height="1" opacity="0.50"/><rect x="631.15" y="475.2" width="14.51" height="1" opacity="0.40"/><rect x="631.72" y="476.2" width="13.35" height="1" opacity="0.43"/><rect x="630.76" y="477.2" width="15.29" height="1" opacity="0.41"/><rect x="632.16" y="478.2" width="12.48" height="1" opacity="0.48"/><rect x="630.84" y="479.2" width="15.13" height="1" opacity="0.38"/><rect x="630.38" y="480.2" width="16.04" height="1" opacity="0.42"/><rect x="631.4" y="481.2" width="14" height="1" opacity="0.38"/><rect x="630.97" y="482.2" width="14.87" height="1" opacity="0.48"/><rect x="632.42" y="483.2" width="11.96" height="1" opacity="0.42"/><rect x="633.07" y="484.2" width="10.66" height="1" opacity="0.34"/><rect x="632.24" y="485.2" width="12.32" height="1" opacity="0.46"/><rect x="631.76" y="486.2" width="13.28" height="1" opacity="0.44"/><rect x="632.24" y="487.2" width="12.33" height="1" opacity="0.45"/><rect x="632.79" y="488.2" width="11.21" height="1" opacity="0.45"/><rect x="632.75" y="489.2" width="11.31" height="1" opacity="0.43"/><rect x="631.23" y="490.2" width="14.33" height="1" opacity="0.47"/><rect x="631.61" y="491.2" width="13.57" height="1" opacity="0.45"/><rect x="633.73" y="492.2" width="9.34" height="1" opacity="0.37"/><rect x="631.88" y="493.2" width="13.05" height="1" opacity="0.40"/><rect x="632.85" y="494.2" width="11.1" height="1" opacity="0.44"/><rect x="631.82" y="495.2" width="13.15" height="1" opacity="0.37"/><rect x="632.22" y="496.2" width="12.37" height="1" opacity="0.43"/><rect x="632.26" y="497.2" width="12.29" height="1" opacity="0.50"/><rect x="632.76" y="498.2" width="11.28" height="1" opacity="0.47"/><rect x="631.78" y="499.2" width="13.23" height="1" opacity="0.33"/><rect x="632.84" y="500.2" width="11.12" height="1" opacity="0.38"/><rect x="632.57" y="501.2" width="11.65" height="1" opacity="0.37"/><rect x="633.13" y="502.2" width="10.55" height="1" opacity="0.45"/><rect x="633.1" y="503.2" width="10.59" height="1" opacity="0.34"/><rect x="633.48" y="504.2" width="9.83" height="1" opacity="0.36"/><rect x="633.83" y="505.2" width="9.15" height="1" opacity="0.45"/><rect x="632.54" y="506.2" width="11.72" height="1" opacity="0.35"/><rect x="632.31" y="507.2" width="12.19" height="1" opacity="0.43"/><rect x="634.28" y="508.2" width="8.23" height="1" opacity="0.30"/><rect x="634.12" y="509.2" width="8.56" height="1" opacity="0.46"/><rect x="634.34" y="510.2" width="8.11" height="1" opacity="0.33"/><rect x="633.11" y="511.2" width="10.57" height="1" opacity="0.37"/><rect x="633.68" y="512.2" width="9.44" height="1" opacity="0.29"/><rect x="633.84" y="513.2" width="9.12" height="1" opacity="0.33"/><rect x="634.31" y="514.2" width="8.18" height="1" opacity="0.31"/><rect x="633.89" y="515.2" width="9.02" height="1" opacity="0.22"/><rect x="634.07" y="516.2" width="8.67" height="1" opacity="0.44"/><rect x="633.82" y="517.2" width="9.17" height="1" opacity="0.29"/><rect x="633.93" y="518.2" width="8.94" height="1" opacity="0.41"/><rect x="633.97" y="519.2" width="8.86" height="1" opacity="0.35"/><rect x="633.89" y="520.2" width="9.02" height="1" opacity="0.40"/><rect x="634.94" y="521.2" width="6.92" height="1" opacity="0.33"/><rect x="634.68" y="522.2" width="7.43" height="1" opacity="0.41"/><rect x="634.38" y="523.2" width="8.04" height="1" opacity="0.41"/><rect x="635.02" y="524.2" width="6.76" height="1" opacity="0.36"/><rect x="635.19" y="525.2" width="6.43" height="1" opacity="0.37"/><rect x="635.27" y="526.2" width="6.26" height="1" opacity="0.36"/><rect x="634.61" y="527.2" width="7.58" height="1" opacity="0.34"/><rect x="634.7" y="528.2" width="7.4" height="1" opacity="0.43"/><rect x="635.4" y="529.2" width="6" height="1" opacity="0.46"/><rect x="634.83" y="530.2" width="7.14" height="1" opacity="0.33"/><rect x="635.3" y="531.2" width="6.2" height="1" opacity="0.33"/><rect x="635.22" y="532.2" width="6.36" height="1" opacity="0.38"/><rect x="635.56" y="533.2" width="5.69" height="1" opacity="0.36"/><rect x="635.63" y="534.2" width="5.53" height="1" opacity="0.27"/><rect x="635.99" y="535.2" width="4.83" height="1" opacity="0.39"/><rect x="636.15" y="536.2" width="4.49" height="1" opacity="0.34"/><rect x="635.39" y="537.2" width="6.02" height="1" opacity="0.39"/><rect x="635.45" y="538.2" width="5.9" height="1" opacity="0.28"/><rect x="635.71" y="539.2" width="5.39" height="1" opacity="0.38"/><rect x="635.99" y="540.2" width="4.82" height="1" opacity="0.36"/><rect x="636.06" y="541.2" width="4.68" height="1" opacity="0.42"/><rect x="636.3" y="542.2" width="4.19" height="1" opacity="0.27"/><rect x="636.06" y="543.2" width="4.69" height="1" opacity="0.26"/><rect x="636.54" y="544.2" width="3.71" height="1" opacity="0.33"/><rect x="636.56" y="545.2" width="3.68" height="1" opacity="0.27"/><rect x="636.4" y="546.2" width="4" height="1" opacity="0.23"/><rect x="636.62" y="547.2" width="3.57" height="1" opacity="0.27"/><rect x="636.83" y="548.2" width="3.13" height="1" opacity="0.32"/><rect x="636.8" y="549.2" width="3.21" height="1" opacity="0.29"/><rect x="636.68" y="550.2" width="3.44" height="1" opacity="0.25"/><rect x="636.84" y="551.2" width="3.12" height="1" opacity="0.28"/><rect x="637.16" y="552.2" width="2.48" height="1" opacity="0.27"/><rect x="637.14" y="553.2" width="2.52" height="1" opacity="0.20"/><rect x="637.15" y="554.2" width="2.5" height="1" opacity="0.33"/><rect x="637.58" y="555.2" width="1.63" height="1" opacity="0.20"/><rect x="637.61" y="556.2" width="1.58" height="1" opacity="0.22"/><rect x="637.67" y="557.2" width="1.46" height="1" opacity="0.23"/><rect x="637.78" y="558.2" width="1.25" height="1" opacity="0.29"/><rect x="637.9" y="559.2" width="0.99" height="1" opacity="0.19"/><rect x="637.92" y="560.2" width="0.96" height="1" opacity="0.25"/><rect x="638.09" y="561.2" width="0.62" height="1" opacity="0.21"/></g></g>
<rect x="596.1" y="384.5" width="84.3" height="179.7" fill="none" stroke="#231f20" stroke-width="1.5"/>
<text transform="translate(480.7,375.03) rotate(-90)" font-size="12.8" font-weight="bold" fill="#231f20" textLength="159.78" lengthAdjust="spacingAndGlyphs" stroke="#231f20" stroke-width="0.3">Hyper-DMRs in NEPC vs PRAD</text>
<text transform="translate(497.2,372.89) rotate(-90)" font-size="12.8" font-weight="bold" fill="#231f20" textLength="160.81" lengthAdjust="spacingAndGlyphs" stroke="#231f20" stroke-width="0.3">patient tumors (Zhao et al. 2020)</text>
<text transform="translate(480.5,559.11) rotate(-90)" font-size="12.8" font-weight="bold" fill="#231f20" textLength="152.76" lengthAdjust="spacingAndGlyphs" stroke="#231f20" stroke-width="0.3">Hypo-DMRs in NEPC vs PRAD</text>
<text transform="translate(497.2,561.39) rotate(-90)" font-size="12.8" font-weight="bold" fill="#231f20" textLength="160.71" lengthAdjust="spacingAndGlyphs" stroke="#231f20" stroke-width="0.3">patient tumors (Zhao et al. 2020)</text>
<line x1="505.8" y1="564" x2="505.8" y2="567" stroke="#231f20" stroke-width="1.2"/>
<line x1="548" y1="564" x2="548" y2="567" stroke="#231f20" stroke-width="1.2"/>
<line x1="590" y1="564" x2="590" y2="567" stroke="#231f20" stroke-width="1.2"/>
<line x1="596.2" y1="564" x2="596.2" y2="567" stroke="#231f20" stroke-width="1.2"/>
<line x1="638.4" y1="564" x2="638.4" y2="567" stroke="#231f20" stroke-width="1.2"/>
<line x1="680.6" y1="564" x2="680.6" y2="567" stroke="#231f20" stroke-width="1.2"/>
<text x="502.64" y="572" font-size="7" font-weight="bold" fill="#231f20" textLength="20.64" lengthAdjust="spacingAndGlyphs" stroke="#231f20" stroke-width="0.3">-2.0Kb</text>
<text x="536.93" y="572" font-size="7" font-weight="bold" fill="#231f20" textLength="20.88" lengthAdjust="spacingAndGlyphs" stroke="#231f20" stroke-width="0.3">center</text>
<text x="572.46" y="572" font-size="7" font-weight="bold" fill="#231f20" textLength="19.03" lengthAdjust="spacingAndGlyphs" stroke="#231f20" stroke-width="0.3">2.0Kb</text>
<text x="595.93" y="572" font-size="7" font-weight="bold" fill="#231f20" textLength="21.36" lengthAdjust="spacingAndGlyphs" stroke="#231f20" stroke-width="0.3">-2.0Kb</text>
<text x="627.43" y="572" font-size="7" font-weight="bold" fill="#231f20" textLength="20.98" lengthAdjust="spacingAndGlyphs" stroke="#231f20" stroke-width="0.3">center</text>
<text x="666.05" y="572" font-size="7" font-weight="bold" fill="#231f20" textLength="19.75" lengthAdjust="spacingAndGlyphs" stroke="#231f20" stroke-width="0.3">2.0Kb</text></svg></body></html>
